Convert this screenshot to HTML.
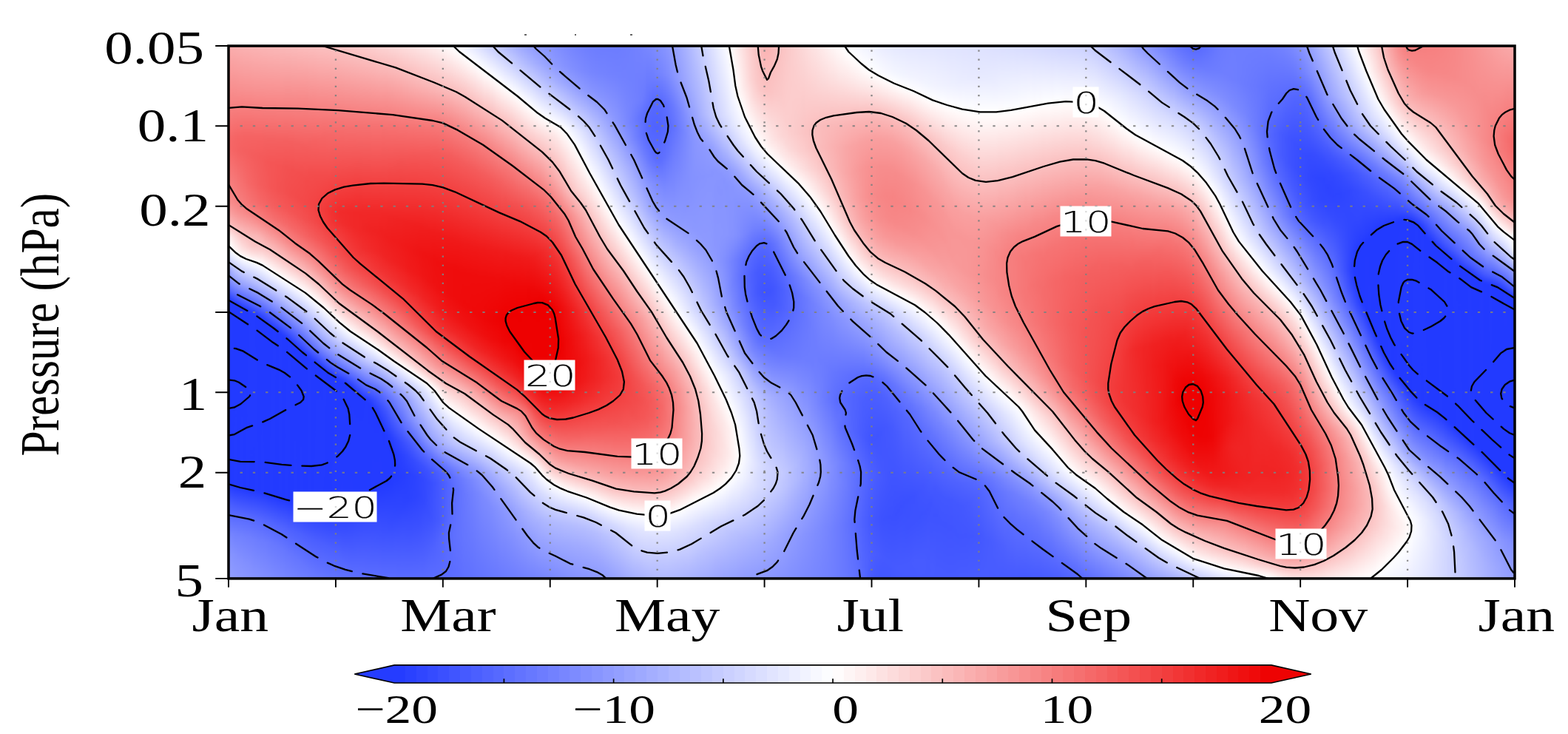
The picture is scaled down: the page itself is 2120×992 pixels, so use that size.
<!DOCTYPE html>
<html><head><meta charset="utf-8"><title>Pressure (hPa) time-height section</title>
<style>
html,body{margin:0;padding:0;background:#fff}
body{width:2120px;height:992px;position:relative;overflow:hidden}
#f{position:absolute;left:309px;top:62px;width:1739px;height:720px;overflow:hidden}
#g{position:absolute;left:-8px;top:-8px;width:1755px;height:736px;filter:blur(1.6px)}
#g i{position:absolute;top:0;height:736px;display:block}
svg{position:absolute;left:0;top:0}
.gv{stroke:#808080;stroke-opacity:.92;stroke-width:2.3;stroke-dasharray:2.2 9.89;fill:none}
.gh{stroke:#808080;stroke-opacity:.92;stroke-width:1.9;stroke-dasharray:3.3 13.95;fill:none}
.ct{stroke:#000;stroke-width:2.3;fill:none;stroke-linejoin:round;stroke-linecap:round}
.neg{stroke-dasharray:35 15}
.frame{fill:none;stroke:#000;stroke-width:3.5}
.tick{stroke:#000;stroke-width:1.9;fill:none}
.ax{font-family:"Liberation Serif",serif;font-size:100px;fill:#000}
.cl{font-family:"DejaVu Sans","Liberation Sans",sans-serif;font-weight:200;font-size:100px;fill:#000;stroke:#000;stroke-width:.25px;vector-effect:non-scaling-stroke}
.cbo{stroke:#000;stroke-width:1.7;stroke-linejoin:miter}
.cbt{stroke:#000;stroke-width:1.7}
</style></head><body>
<div id="f"><div id="g"><i style="left:0px;width:12.6px;background:linear-gradient(#faadad 8px,#f78686 82px,#f56767 132px,#f56666 146px,#f78282 204px,#f78d8d 220px,#f9a3a3 236px,#fbc2c2 252px,#feeeee 266px,#fef6f6 272px,#ffffff 280px,#e8ebff 290px,#c5cbff 302px,#a4aeff 310px,#97a2ff 316px,#8c98ff 322px,#5265ff 340px,#233bff 352px,#223aff 600px,#4a5eff 628px,#7887ff 672px,#8895ff 700px,#919dff 728px)"></i><i style="left:12px;width:4.6px;background:linear-gradient(#faaeae 8px,#f78989 76px,#f56666 132px,#f56464 148px,#f78787 218px,#f89a9a 234px,#fab6b6 250px,#fde2e2 266px,#fff9f9 282px,#fffdfd 284px,#f7f8ff 288px,#d7dbff 300px,#adb6ff 312px,#919dff 324px,#5d6fff 340px,#263dff 354px,#223aff 356px,#223aff 602px,#4a5eff 630px,#7382ff 668px,#8492ff 696px,#8f9cff 728px)"></i><i style="left:16px;width:4.6px;background:linear-gradient(#faafaf 8px,#f78c8c 72px,#f56464 132px,#f56363 150px,#f78383 218px,#f89595 234px,#fab1b1 250px,#fcd8d8 266px,#fef4f4 284px,#fffefe 288px,#ebedff 296px,#b4bcff 314px,#8e9aff 328px,#5f70ff 342px,#273eff 356px,#223aff 358px,#233bff 604px,#4e61ff 634px,#6f7fff 666px,#8290ff 696px,#8e9aff 728px)"></i><i style="left:20px;width:4.6px;background:linear-gradient(#fab0b0 8px,#f88f8f 68px,#f56363 132px,#f46161 150px,#f67c7c 214px,#f78e8e 232px,#f9a8a8 248px,#fcd2d2 268px,#feecec 284px,#fffbfb 290px,#fdfdff 292px,#8996ff 332px,#5063ff 348px,#283fff 358px,#223aff 360px,#223aff 604px,#5769ff 642px,#7382ff 672px,#8592ff 706px,#8c99ff 728px)"></i><i style="left:24px;width:4.6px;background:linear-gradient(#fab1b1 8px,#f89090 66px,#f56464 130px,#f46060 150px,#f67373 202px,#f67f7f 222px,#f89393 238px,#fab9b9 258px,#fcd1d1 272px,#fde5e5 284px,#fefeff 294px,#909cff 332px,#5769ff 348px,#223aff 362px,#233bff 606px,#5668ff 642px,#7080ff 670px,#8390ff 704px,#8b98ff 728px)"></i><i style="left:28px;width:4.6px;background:linear-gradient(#fab2b2 8px,#f89191 66px,#f56363 130px,#f45f5f 150px,#f56a6a 188px,#f67878 218px,#f78989 234px,#f9a9a9 252px,#fbc3c3 266px,#fddbdb 282px,#fefeff 296px,#96a1ff 332px,#5769ff 350px,#223aff 364px,#223aff 606px,#5769ff 644px,#7080ff 672px,#8391ff 710px,#8a96ff 728px)"></i><i style="left:32px;width:4.6px;background:linear-gradient(#fab2b2 8px,#f89191 66px,#f56363 130px,#f45e5e 152px,#f56868 194px,#f67676 220px,#f78888 236px,#faaeae 256px,#fbc2c2 268px,#fcd1d1 280px,#fee9e9 290px,#fffcfc 296px,#fcfdff 298px,#9ba6ff 332px,#4f62ff 354px,#223aff 366px,#233bff 608px,#5668ff 644px,#6e7dff 670px,#818fff 708px,#8895ff 728px)"></i><i style="left:36px;width:4.6px;background:linear-gradient(#fab3b3 8px,#f89191 66px,#f56363 130px,#f45d5d 154px,#f56666 196px,#f67272 220px,#f78585 236px,#f9a7a7 254px,#fbbdbd 266px,#fbc8c8 278px,#fddfdf 288px,#fffefe 298px,#acb5ff 328px,#5d6fff 352px,#233bff 368px,#223aff 608px,#5769ff 646px,#6e7eff 672px,#828fff 712px,#8794ff 728px)"></i><i style="left:40px;width:4.6px;background:linear-gradient(#fab4b4 8px,#f89292 66px,#f56262 132px,#f45c5c 156px,#f56363 196px,#f56f6f 220px,#f78181 236px,#f99f9f 252px,#fabbbb 266px,#fbc4c4 278px,#fddcdc 288px,#fffbfb 298px,#fdfeff 300px,#acb5ff 330px,#5769ff 356px,#233bff 370px,#223aff 608px,#586aff 648px,#6f7fff 676px,#8390ff 720px,#8693ff 728px)"></i><i style="left:44px;width:4.6px;background:linear-gradient(#fab4b4 8px,#f89191 68px,#f56262 132px,#f45b5b 158px,#f46161 198px,#f56c6c 220px,#f67d7d 236px,#f89797 250px,#fab9b9 266px,#fbc3c3 278px,#fcd9d9 288px,#fffdfd 300px,#fcfcff 302px,#b8c0ff 328px,#5e70ff 356px,#253cff 372px,#223aff 376px,#233bff 610px,#5669ff 648px,#6c7cff 674px,#808eff 716px,#8492ff 728px)"></i><i style="left:48px;width:4.6px;background:linear-gradient(#fab5b5 8px,#f89191 68px,#f56262 132px,#f45a5a 158px,#f45d5d 196px,#f56868 220px,#f67979 236px,#f89292 250px,#fab4b4 266px,#fbc9c9 282px,#fde7e7 294px,#fffefe 302px,#e8ebff 312px,#b3bbff 332px,#6676ff 356px,#273fff 374px,#223aff 376px,#223aff 610px,#5769ff 650px,#6d7dff 678px,#818fff 722px,#8390ff 728px)"></i><i style="left:52px;width:4.6px;background:linear-gradient(#fab6b6 8px,#f89191 68px,#f56262 132px,#f45959 160px,#f45b5b 196px,#f56565 220px,#f67878 238px,#f89191 252px,#fab2b2 268px,#fccbcb 284px,#fff8f8 302px,#fffefe 304px,#f7f8ff 308px,#c0c7ff 330px,#7483ff 354px,#3047ff 374px,#243cff 378px,#223aff 384px,#233bff 612px,#5567ff 650px,#6b7bff 676px,#7e8cff 718px,#828fff 728px)"></i><i style="left:56px;width:4.6px;background:linear-gradient(#fab6b6 8px,#f89090 70px,#f46161 134px,#f45757 164px,#f45a5a 200px,#f56565 224px,#f67979 242px,#f89999 258px,#fab9b9 276px,#fcd4d4 290px,#fffcfc 306px,#fdfdff 308px,#ccd2ff 328px,#8390ff 352px,#3f54ff 372px,#223aff 382px,#223aff 612px,#5567ff 652px,#6c7cff 680px,#808dff 726px,#808eff 728px)"></i><i style="left:60px;width:4.6px;background:linear-gradient(#fab7b7 8px,#f89090 70px,#f46161 134px,#f45656 164px,#f45757 198px,#f46161 222px,#f67272 240px,#f78b8b 254px,#fcd4d4 292px,#fefeff 310px,#ced3ff 330px,#8a97ff 352px,#4357ff 374px,#243cff 384px,#223aff 396px,#223aff 614px,#5366ff 652px,#6979ff 678px,#7d8bff 722px,#7f8dff 728px)"></i><i style="left:64px;width:4.6px;background:linear-gradient(#fab7b7 8px,#f89090 70px,#f46161 134px,#f45555 166px,#f45555 200px,#f46060 224px,#f67272 242px,#f89191 260px,#fccfcf 292px,#fffefe 312px,#f3f4ff 318px,#c4caff 336px,#7181ff 362px,#263eff 386px,#223aff 388px,#233bff 616px,#5164ff 652px,#6778ff 678px,#7b8aff 722px,#7d8cff 728px)"></i><i style="left:68px;width:4.6px;background:linear-gradient(#fab8b8 8px,#f89090 70px,#f46161 134px,#f45555 166px,#f45454 200px,#f45d5d 224px,#f56e6e 242px,#f89090 262px,#fccece 294px,#fffcfc 314px,#fefeff 316px,#d0d5ff 334px,#818eff 360px,#233bff 390px,#223aff 616px,#5366ff 656px,#6979ff 684px,#7c8aff 728px)"></i><i style="left:72px;width:4.6px;background:linear-gradient(#fab8b8 8px,#f88f8f 72px,#f46060 136px,#f45353 170px,#f35252 202px,#f45c5c 226px,#f56d6d 244px,#f89595 268px,#fcd1d1 298px,#ffffff 318px,#ccd1ff 338px,#4559ff 382px,#263dff 392px,#223aff 394px,#223aff 618px,#5164ff 656px,#6677ff 682px,#7b89ff 728px)"></i><i style="left:76px;width:4.6px;background:linear-gradient(#fab9b9 8px,#f88f8f 72px,#f46060 136px,#f45353 170px,#f35151 202px,#f45959 226px,#f56a6a 244px,#f78c8c 266px,#fbc2c2 294px,#fffefe 320px,#f7f8ff 324px,#b6beff 348px,#233bff 396px,#233bff 620px,#5164ff 658px,#6777ff 686px,#7988ff 728px)"></i><i style="left:80px;width:4.6px;background:linear-gradient(#fab9b9 8px,#f88f8f 72px,#f46060 136px,#f35252 172px,#f35050 204px,#f45858 228px,#f56b6b 248px,#f89191 272px,#fccdcd 302px,#fffdfd 322px,#fcfdff 324px,#b8c0ff 350px,#4559ff 388px,#223aff 400px,#223aff 620px,#5164ff 660px,#6778ff 690px,#7887ff 728px)"></i><i style="left:84px;width:4.6px;background:linear-gradient(#fababa 8px,#f78d8d 74px,#f46060 136px,#f35151 172px,#f34e4e 204px,#f45656 228px,#f56868 248px,#f78b8b 272px,#fbbfbf 298px,#fffcfc 324px,#fdfdff 326px,#bac2ff 352px,#6778ff 380px,#253cff 402px,#223aff 406px,#233bff 622px,#4f62ff 660px,#6576ff 690px,#7685ff 728px)"></i><i style="left:88px;width:4.6px;background:linear-gradient(#fababa 8px,#f78d8d 74px,#f45f5f 138px,#f35050 176px,#f34d4d 208px,#f45656 232px,#f56969 252px,#f78989 274px,#fbbdbd 300px,#fffbfb 326px,#fefeff 328px,#b7bfff 356px,#7180ff 380px,#233bff 406px,#223aff 622px,#5063ff 664px,#6878ff 698px,#7584ff 728px)"></i><i style="left:92px;width:4.6px;background:linear-gradient(#fabbbb 8px,#f78c8c 76px,#f45f5f 138px,#f34f4f 176px,#f34c4c 208px,#f45454 232px,#f56767 254px,#f78686 276px,#fbbcbc 302px,#ffffff 330px,#b4bcff 360px,#7483ff 382px,#273fff 408px,#223aff 410px,#223aff 624px,#4d60ff 662px,#6475ff 694px,#7483ff 728px)"></i><i style="left:96px;width:4.6px;background:linear-gradient(#fabbbb 8px,#f78b8b 78px,#f46060 138px,#f34f4f 178px,#f34b4b 210px,#f45353 234px,#f56666 256px,#f78181 276px,#fab2b2 300px,#fffefe 332px,#e9ebff 342px,#a1abff 370px,#3d52ff 404px,#223aff 414px,#233bff 626px,#4c60ff 664px,#6475ff 698px,#7282ff 728px)"></i><i style="left:100px;width:4.6px;background:linear-gradient(#fbbcbc 8px,#f78989 80px,#f45f5f 140px,#f34e4e 180px,#f34a4a 214px,#f45353 238px,#f56767 260px,#f78080 278px,#fab1b1 302px,#fffcfc 334px,#fdfdff 336px,#b4bcff 366px,#6979ff 392px,#223aff 418px,#223aff 626px,#4c60ff 666px,#6576ff 702px,#7180ff 728px)"></i><i style="left:104px;width:4.6px;background:linear-gradient(#fbbcbc 8px,#f78686 84px,#f45e5e 142px,#f34d4d 182px,#f34949 216px,#f35252 240px,#f56565 262px,#f67e7e 280px,#faafaf 304px,#fefeff 338px,#b1baff 370px,#4d60ff 406px,#243cff 420px,#223aff 424px,#233bff 628px,#4c60ff 668px,#6576ff 706px,#6f7fff 728px)"></i><i style="left:108px;width:4.6px;background:linear-gradient(#fbbdbd 8px,#f78383 88px,#f45d5d 144px,#f34c4c 186px,#f34848 220px,#f35050 242px,#f56464 264px,#f67d7d 282px,#faaeae 306px,#fffefe 340px,#eef0ff 348px,#a4aeff 378px,#354bff 418px,#223aff 424px,#223aff 628px,#4c5fff 670px,#6676ff 710px,#6e7eff 728px)"></i><i style="left:112px;width:4.6px;background:linear-gradient(#fbbdbd 8px,#f67f7f 94px,#f45c5c 146px,#f34a4a 190px,#f34747 222px,#f34f4f 244px,#f56262 266px,#f67c7c 284px,#f9abab 308px,#fffcfc 342px,#fefeff 344px,#adb6ff 378px,#465aff 416px,#263dff 426px,#223aff 428px,#223aff 628px,#4c5fff 672px,#6677ff 714px,#6d7dff 728px)"></i><i style="left:116px;width:4.6px;background:linear-gradient(#fbbebe 8px,#f46161 138px,#f34c4c 182px,#f34545 220px,#f34b4b 242px,#f45c5c 264px,#f67777 284px,#f9a5a5 308px,#fffefe 346px,#f3f4ff 352px,#a1acff 386px,#5163ff 416px,#233bff 430px,#233bff 630px,#4c5fff 674px,#6777ff 718px,#6b7bff 728px)"></i><i style="left:120px;width:4.6px;background:linear-gradient(#fbbebe 8px,#f56262 136px,#f34c4c 182px,#f34444 222px,#f34a4a 244px,#f45b5b 266px,#f67979 288px,#f9a2a2 310px,#fefeff 350px,#9ca7ff 392px,#5b6dff 416px,#223aff 434px,#223aff 630px,#4a5eff 674px,#6576ff 718px,#6a7aff 728px)"></i><i style="left:124px;width:4.6px;background:linear-gradient(#fbbfbf 8px,#f56262 136px,#f34b4b 184px,#f24242 226px,#f34848 246px,#f45959 268px,#f67676 290px,#f89a9a 310px,#fffcfc 352px,#fdfdff 354px,#9ca7ff 396px,#6071ff 418px,#243cff 436px,#223aff 444px,#233bff 632px,#4c5fff 678px,#6878ff 726px,#6979ff 728px)"></i><i style="left:128px;width:4.6px;background:linear-gradient(#fbc0c0 8px,#f56464 134px,#f34b4b 184px,#f23f3f 228px,#f34646 248px,#f45858 270px,#f67777 294px,#f89b9b 314px,#fef4f4 352px,#fffefe 356px,#a6b0ff 396px,#6b7bff 418px,#223aff 440px,#233bff 632px,#4b5eff 678px,#6878ff 728px)"></i><i style="left:132px;width:4.6px;background:linear-gradient(#fbc0c0 8px,#f56565 132px,#f34b4b 184px,#f23d3d 228px,#f24343 248px,#f45656 272px,#f67777 298px,#f89898 316px,#feebeb 352px,#fefeff 360px,#abb4ff 398px,#7584ff 418px,#3a50ff 436px,#253dff 442px,#223aff 444px,#233bff 632px,#4b5eff 680px,#6777ff 728px)"></i><i style="left:136px;width:4.6px;background:linear-gradient(#fbc1c1 8px,#f56666 130px,#f34b4b 184px,#f23939 230px,#f23f3f 248px,#f45454 274px,#f67474 300px,#f89898 320px,#fddddd 350px,#fffcfc 362px,#fdfdff 364px,#b8c0ff 396px,#7f8dff 418px,#3e53ff 438px,#233bff 446px,#223aff 632px,#4b5fff 682px,#6576ff 728px)"></i><i style="left:140px;width:4.6px;background:linear-gradient(#fbc1c1 8px,#f56868 128px,#f34a4a 186px,#f23636 230px,#f23a3a 246px,#f35252 276px,#f56e6e 300px,#f89090 320px,#fccece 348px,#fffefe 366px,#c6ccff 394px,#8e9aff 416px,#5063ff 436px,#223aff 450px,#223aff 632px,#4b5fff 684px,#6475ff 728px)"></i><i style="left:144px;width:4.6px;background:linear-gradient(#fbc2c2 8px,#f56868 128px,#f34646 192px,#f13333 232px,#f23737 248px,#f45858 286px,#f67474 308px,#f89c9c 330px,#fcd4d4 354px,#fffefe 370px,#c9cfff 396px,#919dff 418px,#465aff 442px,#243cff 452px,#223aff 458px,#223aff 632px,#4c5fff 686px,#6374ff 728px)"></i><i style="left:148px;width:4.6px;background:linear-gradient(#fbc3c3 8px,#f56969 126px,#f13030 232px,#f13333 246px,#f45757 290px,#f67474 312px,#f89c9c 334px,#fccfcf 356px,#fffefe 374px,#d1d6ff 396px,#9aa5ff 418px,#4f62ff 442px,#253dff 454px,#223aff 456px,#233bff 632px,#4c60ff 688px,#6374ff 728px)"></i><i style="left:152px;width:4.6px;background:linear-gradient(#fbc3c3 8px,#f56b6b 124px,#f23737 214px,#f12d2d 234px,#f13232 250px,#f45757 294px,#f67373 316px,#f89898 336px,#fbc6c6 356px,#fffefe 378px,#d0d5ff 400px,#96a2ff 422px,#5164ff 444px,#253dff 456px,#223aff 458px,#233bff 632px,#4d60ff 690px,#6273ff 728px)"></i><i style="left:156px;width:4.6px;background:linear-gradient(#fbc4c4 8px,#f56b6b 124px,#f23939 210px,#f12b2b 232px,#f12e2e 246px,#f35050 292px,#f56d6d 316px,#f89191 336px,#fbbebe 356px,#ffffff 382px,#c9cfff 406px,#8c99ff 428px,#4a5eff 448px,#253dff 458px,#223aff 462px,#233bff 630px,#4e62ff 694px,#6172ff 728px)"></i><i style="left:160px;width:4.6px;background:linear-gradient(#fbc5c5 8px,#f56c6c 122px,#f23838 210px,#f12a2a 232px,#f12d2d 248px,#f34c4c 292px,#f56868 316px,#f78a8a 336px,#fabbbb 358px,#fffcfc 384px,#fefeff 386px,#c6ccff 410px,#8895ff 432px,#4a5eff 450px,#263dff 460px,#223aff 462px,#243bff 630px,#5265ff 702px,#6071ff 728px)"></i><i style="left:164px;width:4.6px;background:linear-gradient(#fbc6c6 8px,#f56d6d 122px,#f23939 208px,#f12a2a 232px,#f12b2b 248px,#f34444 288px,#f45d5d 312px,#f67c7c 332px,#f9abab 354px,#fffdfd 388px,#fcfdff 390px,#c8ceff 412px,#8996ff 434px,#4358ff 454px,#273eff 462px,#223aff 464px,#233bff 628px,#5668ff 710px,#5f71ff 728px)"></i><i style="left:168px;width:4.6px;background:linear-gradient(#fbc7c7 8px,#f56e6e 120px,#f23838 208px,#f12929 232px,#f12a2a 250px,#f24040 288px,#f45959 312px,#f67777 332px,#f9a4a4 354px,#ffffff 392px,#c9cfff 414px,#8a97ff 436px,#243cff 466px,#223aff 488px,#233bff 626px,#5b6dff 720px,#5f70ff 728px)"></i><i style="left:172px;width:4.6px;background:linear-gradient(#fbc8c8 8px,#f56e6e 120px,#f23838 208px,#f12929 232px,#f12929 250px,#f23a3a 284px,#f35050 308px,#f56f6f 330px,#f89a9a 352px,#fffcfc 394px,#fdfdff 396px,#b5bdff 424px,#7e8cff 442px,#3349ff 464px,#223aff 470px,#243bff 624px,#5e6fff 728px)"></i><i style="left:176px;width:4.6px;background:linear-gradient(#fbc9c9 8px,#f56e6e 120px,#f23737 208px,#f12828 234px,#f12828 254px,#f23838 286px,#f34e4e 310px,#f56d6d 332px,#f89d9d 356px,#ffffff 398px,#a6afff 432px,#7281ff 448px,#4357ff 462px,#223aff 474px,#233bff 620px,#5d6fff 728px)"></i><i style="left:180px;width:4.6px;background:linear-gradient(#fbcaca 8px,#f57070 118px,#f23535 210px,#f12828 234px,#f12828 256px,#f23535 286px,#f34b4b 310px,#f56969 332px,#f89797 356px,#fef3f3 396px,#fffefe 400px,#eceeff 408px,#a2acff 436px,#5265ff 460px,#223aff 478px,#233bff 618px,#5d6fff 728px)"></i><i style="left:184px;width:4.6px;background:linear-gradient(#fccbcb 8px,#f57070 118px,#f13434 212px,#f12727 236px,#f12727 258px,#f13434 288px,#f34949 312px,#f56868 334px,#f89696 358px,#fde7e7 394px,#fffdfd 402px,#fcfdff 404px,#afb8ff 434px,#5b6dff 460px,#253cff 480px,#223aff 484px,#233bff 616px,#5d6eff 728px)"></i><i style="left:188px;width:4.6px;background:linear-gradient(#fccccc 8px,#f57070 118px,#f12828 232px,#f02525 254px,#f12e2e 282px,#f24242 308px,#f45d5d 330px,#f78888 354px,#fddcdc 392px,#fffbfb 404px,#fefeff 406px,#b6beff 434px,#6374ff 460px,#3f54ff 474px,#223aff 484px,#233bff 614px,#5c6eff 728px)"></i><i style="left:192px;width:4.6px;background:linear-gradient(#fccdcd 8px,#f57070 118px,#f12828 232px,#f02424 256px,#f12d2d 284px,#f24141 310px,#f45c5c 332px,#f78787 356px,#fcd5d5 392px,#ffffff 408px,#c3c9ff 432px,#6575ff 462px,#4d60ff 472px,#283fff 484px,#233bff 486px,#233bff 612px,#5c6dff 728px)"></i><i style="left:196px;width:4.6px;background:linear-gradient(#fccece 8px,#f57070 118px,#f12828 232px,#f02323 256px,#f12b2b 284px,#f23e3e 310px,#f45858 332px,#f78282 356px,#fbc9c9 390px,#fffefe 410px,#f7f7ff 414px,#c2c9ff 434px,#6475ff 464px,#4b5fff 474px,#2a41ff 486px,#233aff 490px,#233bff 610px,#5b6dff 728px)"></i><i style="left:200px;width:4.6px;background:linear-gradient(#fccfcf 8px,#f67272 116px,#f12828 232px,#f02222 258px,#f12929 284px,#f23a3a 310px,#f45454 332px,#f67c7c 356px,#fbbebe 388px,#fef6f6 410px,#fffcfc 412px,#fdfdff 414px,#c8ceff 434px,#8895ff 454px,#5d6eff 468px,#2d44ff 488px,#223aff 496px,#243bff 610px,#4b5eff 694px,#5b6dff 728px)"></i><i style="left:204px;width:4.6px;background:linear-gradient(#fcd0d0 8px,#f67272 116px,#f12828 232px,#f02222 258px,#f12727 284px,#f23737 310px,#f35050 332px,#f67777 356px,#fab7b7 388px,#fee9e9 408px,#feffff 416px,#c2c9ff 438px,#6273ff 468px,#384eff 486px,#243cff 500px,#223aff 510px,#243bff 608px,#465bff 686px,#5b6dff 728px)"></i><i style="left:208px;width:4.6px;background:linear-gradient(#fcd2d2 8px,#f67272 116px,#f12828 232px,#f02121 260px,#f12626 286px,#f23636 312px,#f34f4f 334px,#f67979 360px,#fab9b9 392px,#feecec 412px,#fffefe 418px,#f1f2ff 424px,#b7beff 444px,#6879ff 468px,#475bff 482px,#3047ff 496px,#223aff 510px,#243bff 606px,#4358ff 680px,#5b6dff 728px)"></i><i style="left:212px;width:4.6px;background:linear-gradient(#fcd3d3 8px,#f67272 116px,#f12929 230px,#f02020 258px,#f02424 286px,#f13333 312px,#f34a4a 334px,#f67474 360px,#fab2b2 392px,#fde4e4 412px,#fffbfb 420px,#fdfdff 422px,#c4cbff 442px,#7080ff 468px,#5366ff 480px,#384eff 496px,#233bff 518px,#243bff 604px,#4055ff 674px,#5b6cff 728px)"></i><i style="left:216px;width:4.6px;background:linear-gradient(#fcd4d4 8px,#f89292 80px,#f56c6c 124px,#f12626 236px,#f01f1f 264px,#f02424 292px,#f23535 318px,#f34e4e 340px,#f67d7d 368px,#fab9b9 398px,#feeded 418px,#fffefe 424px,#d2d7ff 440px,#7987ff 468px,#5769ff 482px,#4055ff 496px,#263eff 522px,#223aff 532px,#233bff 602px,#3d52ff 668px,#5a6cff 728px)"></i><i style="left:220px;width:4.6px;background:linear-gradient(#fcd5d5 8px,#f89494 78px,#f56e6e 122px,#f12626 236px,#f01e1e 266px,#f02323 294px,#f13434 320px,#f34d4d 342px,#f67b7b 370px,#fab6b6 400px,#fde4e4 418px,#fffbfb 426px,#fdfdff 428px,#c7cdff 446px,#7c8aff 470px,#5c6dff 484px,#4358ff 500px,#233bff 534px,#233bff 600px,#3a50ff 662px,#5a6cff 728px)"></i><i style="left:224px;width:4.6px;background:linear-gradient(#fcd7d7 8px,#f89999 74px,#f67171 118px,#f34848 180px,#f02424 240px,#f01d1d 270px,#f02323 298px,#f13434 324px,#f34e4e 346px,#f78080 376px,#fab8b8 404px,#feecec 424px,#fffefe 430px,#dce0ff 442px,#8a97ff 468px,#6879ff 482px,#5164ff 496px,#2840ff 534px,#223aff 546px,#233bff 598px,#374dff 656px,#5a6cff 728px)"></i><i style="left:228px;width:4.6px;background:linear-gradient(#fcd8d8 8px,#f89c9c 72px,#f67171 118px,#f34b4b 176px,#f02424 240px,#f01c1c 270px,#f02121 298px,#f13131 324px,#f34a4a 346px,#f67777 374px,#fab1b1 404px,#fde4e4 424px,#fffbfb 432px,#fdfdff 434px,#8e9aff 470px,#6d7dff 484px,#576aff 498px,#2b42ff 538px,#223aff 556px,#243cff 598px,#354bff 652px,#5a6cff 728px)"></i><i style="left:232px;width:4.6px;background:linear-gradient(#fcd9d9 8px,#f99f9f 70px,#f67171 118px,#f34d4d 172px,#f02323 242px,#f01c1c 272px,#f02020 300px,#f13030 326px,#f34b4b 350px,#f67878 378px,#faaeae 406px,#fde1e1 426px,#ffffff 436px,#97a2ff 470px,#7685ff 484px,#6072ff 498px,#2f46ff 540px,#243cff 560px,#243cff 592px,#3148ff 642px,#5a6cff 728px)"></i><i style="left:236px;width:4.6px;background:linear-gradient(#fddbdb 8px,#f9a0a0 70px,#f67272 118px,#f34f4f 168px,#f02222 244px,#f01b1b 274px,#f01f1f 302px,#f12e2e 328px,#f34949 352px,#f67676 380px,#f9acac 408px,#fcd9d9 426px,#fffefe 438px,#9ba6ff 472px,#7b89ff 486px,#6576ff 502px,#3349ff 542px,#273eff 562px,#253dff 594px,#3147ff 640px,#596bff 728px)"></i><i style="left:240px;width:4.6px;background:linear-gradient(#fddcdc 8px,#f9a3a3 68px,#f67272 118px,#f35050 166px,#f02222 244px,#f01a1a 276px,#f01e1e 304px,#f12d2d 330px,#f34747 354px,#f57070 380px,#f9aaaa 410px,#fcd6d6 428px,#fffdfd 440px,#fbfbff 442px,#9fa9ff 474px,#808eff 488px,#5063ff 524px,#364cff 544px,#2a41ff 562px,#263dff 590px,#2e45ff 632px,#596bff 728px)"></i><i style="left:244px;width:4.6px;background:linear-gradient(#fddede 8px,#f9a7a7 66px,#f67272 118px,#f35252 164px,#f02121 246px,#f01919 278px,#f01d1d 306px,#f12c2c 332px,#f34545 356px,#f56d6d 382px,#f9acac 414px,#fcd4d4 430px,#fffbfb 442px,#fcfdff 444px,#a3adff 476px,#8693ff 490px,#6576ff 516px,#3c51ff 544px,#2d44ff 562px,#273eff 588px,#2c43ff 626px,#4358ff 680px,#596bff 728px)"></i><i style="left:248px;width:4.6px;background:linear-gradient(#fddfdf 8px,#f9aaaa 64px,#f67373 118px,#f45353 162px,#f02020 248px,#f01818 280px,#f01b1b 308px,#f12a2a 334px,#f24343 358px,#f56767 382px,#f9a5a5 414px,#fccccc 430px,#fefeff 446px,#b1b9ff 474px,#929dff 488px,#7584ff 512px,#4256ff 544px,#3148ff 562px,#2840ff 586px,#2b42ff 620px,#3d52ff 666px,#596bff 728px)"></i><i style="left:252px;width:4.6px;background:linear-gradient(#fde1e1 8px,#f9acac 64px,#f67373 118px,#f45454 160px,#f02020 248px,#f01717 282px,#f01a1a 310px,#f12828 336px,#f24141 360px,#f56565 384px,#f9a7a7 418px,#fccfcf 434px,#fffdfd 448px,#f5f6ff 452px,#b4bcff 476px,#9ba6ff 488px,#818fff 510px,#4559ff 546px,#3349ff 566px,#2a41ff 588px,#2c43ff 620px,#3c51ff 664px,#596bff 728px)"></i><i style="left:256px;width:4.6px;background:linear-gradient(#fde2e2 8px,#faafaf 62px,#f67373 118px,#f45555 158px,#f01f1f 250px,#ef1616 284px,#f01a1a 314px,#f12828 340px,#f24141 364px,#f56262 386px,#f9a5a5 420px,#fccccc 436px,#fffbfb 450px,#fcfdff 452px,#c6ccff 472px,#a9b2ff 486px,#8895ff 512px,#4c60ff 546px,#354bff 568px,#2b42ff 590px,#2d44ff 620px,#3c51ff 662px,#596bff 728px)"></i><i style="left:260px;width:4.6px;background:linear-gradient(#fde4e4 8px,#fab1b1 62px,#f67474 118px,#f45555 158px,#f01e1e 252px,#ef1515 286px,#f01919 316px,#f12727 342px,#f23e3e 366px,#f45f5f 388px,#faafaf 428px,#fccece 440px,#ffffff 454px,#d3d8ff 470px,#b2bbff 486px,#8a97ff 516px,#5164ff 548px,#384eff 570px,#2d44ff 590px,#2e44ff 618px,#3b50ff 658px,#596bff 728px)"></i><i style="left:264px;width:4.6px;background:linear-gradient(#fde6e6 8px,#fab2b2 62px,#f67474 118px,#f45757 156px,#f01e1e 252px,#ef1414 286px,#f01717 316px,#f02525 344px,#f23c3c 368px,#f45c5c 390px,#fab5b5 434px,#fcd2d2 444px,#fffdfd 456px,#fbfbff 458px,#d6dbff 472px,#b9c1ff 488px,#8a97ff 522px,#5164ff 554px,#3a50ff 572px,#3046ff 590px,#2f46ff 616px,#3a4fff 654px,#586aff 724px,#596bff 728px)"></i><i style="left:268px;width:4.6px;background:linear-gradient(#fde8e8 8px,#fab4b4 62px,#f67474 118px,#f45757 156px,#f01d1d 254px,#ef1313 290px,#ef1616 320px,#f02424 348px,#f23b3b 372px,#f45959 392px,#fab1b1 436px,#fccece 446px,#fffafa 458px,#fdfdff 460px,#dee2ff 472px,#bfc6ff 490px,#8491ff 532px,#4f62ff 560px,#3b50ff 576px,#3147ff 594px,#3248ff 624px,#3e53ff 660px,#586aff 726px,#596bff 728px)"></i><i style="left:272px;width:4.6px;background:linear-gradient(#fee9e9 8px,#fab5b5 62px,#f67575 118px,#f45757 156px,#f01d1d 256px,#ef1212 292px,#ef1515 322px,#f02222 350px,#f23939 374px,#f45656 394px,#f89292 424px,#faaeae 438px,#fccbcb 448px,#ffffff 462px,#e2e5ff 474px,#b4bcff 504px,#8895ff 536px,#4f62ff 564px,#3d52ff 578px,#344aff 594px,#344aff 624px,#3e53ff 656px,#5668ff 718px,#596bff 728px)"></i><i style="left:276px;width:4.6px;background:linear-gradient(#feebeb 8px,#fab7b7 62px,#f67575 118px,#f45757 156px,#f01c1c 258px,#ef1212 294px,#ef1414 326px,#f02222 354px,#f23838 378px,#f45353 396px,#f78888 422px,#f9a6a6 438px,#fbc0c0 448px,#fffbfb 464px,#fdfdff 466px,#e3e6ff 478px,#afb8ff 514px,#929eff 536px,#4f62ff 568px,#3e53ff 582px,#364cff 598px,#394fff 640px,#5467ff 710px,#596bff 728px)"></i><i style="left:280px;width:4.6px;background:linear-gradient(#feeded 8px,#fab9b9 62px,#f67676 118px,#f45858 156px,#f01b1b 260px,#ef1111 296px,#ef1313 328px,#f02020 356px,#f23535 380px,#f34d4d 396px,#f78282 422px,#f9a3a3 440px,#fbbebe 450px,#fffdfd 468px,#fcfcff 470px,#e6e9ff 482px,#b7beff 514px,#9ba6ff 536px,#6f7fff 556px,#5264ff 570px,#4055ff 584px,#394eff 600px,#3d52ff 646px,#5063ff 694px,#5a6cff 728px)"></i><i style="left:284px;width:4.6px;background:linear-gradient(#feefef 8px,#fab8b8 64px,#f67878 116px,#f45b5b 152px,#f01b1b 260px,#ef1010 296px,#ef1111 328px,#f01e1e 358px,#f13232 382px,#f34a4a 398px,#f67e7e 424px,#f9a0a0 442px,#fbbcbc 452px,#fef7f7 470px,#fffdfd 472px,#fdfdff 474px,#bec5ff 514px,#9fa9ff 538px,#7887ff 556px,#5467ff 572px,#4459ff 584px,#3c52ff 600px,#4055ff 648px,#4f62ff 686px,#5a6cff 728px)"></i><i style="left:288px;width:4.6px;background:linear-gradient(#fef1f1 8px,#fababa 64px,#f67979 116px,#f45b5b 152px,#f01b1b 262px,#ef0f0f 300px,#ef1111 334px,#f01e1e 364px,#f13232 386px,#f34848 400px,#f67e7e 428px,#f99e9e 444px,#fbc6c6 458px,#fef6f6 474px,#ffffff 478px,#e0e3ff 498px,#c0c7ff 518px,#a2acff 540px,#818eff 556px,#5b6dff 572px,#495dff 584px,#4155ff 598px,#4358ff 648px,#5063ff 680px,#5a6cff 728px)"></i><i style="left:292px;width:4.6px;background:linear-gradient(#fef4f4 8px,#fab9b9 66px,#f67a7a 116px,#f45b5b 154px,#f01a1a 264px,#ef0f0f 302px,#ef1010 336px,#f01c1c 366px,#f13030 388px,#f34646 402px,#f89494 442px,#fbc2c2 460px,#feebeb 474px,#fffefe 484px,#f7f8ff 490px,#c7cdff 518px,#a6afff 542px,#8491ff 558px,#5d6fff 574px,#4d61ff 584px,#4559ff 598px,#465aff 648px,#5164ff 674px,#5a6cff 728px)"></i><i style="left:296px;width:4.6px;background:linear-gradient(#fef6f6 8px,#fab9b9 68px,#f67979 118px,#f45a5a 156px,#f01a1a 266px,#ef0e0e 304px,#ef0f0f 338px,#f01b1b 368px,#f12c2c 388px,#f34545 404px,#f78e8e 442px,#fbbfbf 462px,#fde5e5 476px,#fffefe 490px,#f5f6ff 496px,#cdd3ff 518px,#a9b2ff 544px,#8c98ff 558px,#5f71ff 576px,#5063ff 586px,#495dff 600px,#4a5eff 648px,#5366ff 670px,#5b6cff 728px)"></i><i style="left:300px;width:4.6px;background:linear-gradient(#fff9f9 8px,#fabbbb 68px,#f67b7b 118px,#f45b5b 156px,#f01919 268px,#ef0d0d 306px,#ef0e0e 342px,#f01919 370px,#f12b2b 390px,#f34a4a 410px,#f78585 440px,#fab8b8 462px,#fddddd 476px,#fffefe 494px,#d1d6ff 520px,#afb8ff 544px,#929eff 558px,#6576ff 576px,#5568ff 586px,#4e61ff 600px,#4e62ff 638px,#5164ff 652px,#5769ff 670px,#5b6cff 726px,#5b6dff 728px)"></i><i style="left:304px;width:4.6px;background:linear-gradient(#fffcfc 8px,#fababa 70px,#f67b7b 120px,#f45c5c 156px,#f01919 270px,#ef0d0d 308px,#ef0d0d 344px,#f01818 372px,#f12a2a 392px,#f34b4b 414px,#f78080 440px,#faaeae 460px,#fddada 478px,#fffcfc 496px,#fefeff 498px,#d5d9ff 522px,#b1baff 546px,#8e9aff 562px,#6778ff 578px,#596bff 588px,#5265ff 602px,#5467ff 634px,#5568ff 650px,#5a6cff 668px,#5a6cff 718px,#5b6dff 728px)"></i><i style="left:308px;width:4.6px;background:linear-gradient(#ffffff 8px,#fab7b7 74px,#f67d7d 120px,#f45d5d 156px,#f01919 270px,#ef0d0d 308px,#ef0d0d 346px,#f01717 374px,#f12828 394px,#f34a4a 416px,#f78383 444px,#faaeae 462px,#fcd5d5 478px,#ffffff 500px,#d5daff 526px,#b7beff 546px,#8e9bff 564px,#6a7aff 580px,#5d6fff 590px,#5769ff 604px,#596bff 636px,#5c6eff 670px,#5b6cff 716px,#5c6eff 728px)"></i><i style="left:312px;width:4.6px;background:linear-gradient(#fcfcff 8px,#fffefe 12px,#fab5b5 78px,#f67b7b 124px,#f45c5c 160px,#f01919 272px,#ef0c0c 310px,#ef0c0c 348px,#ef1616 376px,#f12727 396px,#f34444 416px,#f67575 440px,#f9a4a4 460px,#fccccc 476px,#fffdfd 502px,#fdfeff 504px,#d2d7ff 532px,#b8bfff 548px,#707fff 580px,#6172ff 592px,#5b6dff 608px,#5f70ff 672px,#5c6dff 718px,#5d6eff 728px)"></i><i style="left:316px;width:4.6px;background:linear-gradient(#f9f9ff 8px,#ffffff 14px,#fab2b2 82px,#f67b7b 126px,#f45d5d 160px,#f01818 274px,#ef0c0c 312px,#ef0c0c 352px,#ef1515 378px,#f12626 398px,#f24343 418px,#f67373 442px,#f9a4a4 462px,#fbc8c8 476px,#ffffff 506px,#c0c7ff 546px,#7584ff 580px,#6676ff 592px,#5f71ff 608px,#6172ff 672px,#5d6eff 718px,#5d6fff 728px)"></i><i style="left:320px;width:4.6px;background:linear-gradient(#f5f6ff 8px,#fffefe 18px,#f9abab 90px,#f67979 130px,#f45c5c 164px,#f01818 276px,#ef0c0c 314px,#ef0b0b 354px,#ef1414 380px,#f12727 402px,#f34444 422px,#f67676 446px,#fbc3c3 476px,#fffefe 508px,#f6f7ff 514px,#c8ceff 544px,#98a4ff 566px,#7786ff 582px,#6979ff 594px,#6374ff 610px,#6273ff 674px,#5e6fff 722px,#5e6fff 728px)"></i><i style="left:324px;width:4.6px;background:linear-gradient(#f2f3ff 8px,#ffffff 20px,#f9abab 92px,#f67979 132px,#f45c5c 166px,#f01919 276px,#ef0c0c 314px,#ef0a0a 356px,#ef1313 382px,#f12626 404px,#f24343 424px,#f57070 446px,#fbc2c2 478px,#fffcfc 510px,#fefeff 512px,#ccd2ff 544px,#9da8ff 566px,#7c8aff 582px,#6d7dff 594px,#6777ff 610px,#6475ff 676px,#5f70ff 728px)"></i><i style="left:328px;width:4.6px;background:linear-gradient(#eef0ff 8px,#fffefe 24px,#f9a6a6 98px,#f67777 136px,#f45959 172px,#f01818 278px,#ef0c0c 316px,#ef0a0a 360px,#ef1313 386px,#f12727 408px,#f34444 428px,#f56f6f 448px,#fbbcbc 478px,#ffffff 514px,#d0d6ff 544px,#a1abff 566px,#808eff 582px,#7080ff 596px,#6a7aff 614px,#6576ff 678px,#5f71ff 728px)"></i><i style="left:332px;width:4.6px;background:linear-gradient(#eaecff 8px,#ffffff 26px,#f9aaaa 98px,#f67a7a 136px,#f45c5c 170px,#f01919 278px,#ef0c0c 316px,#ef0a0a 362px,#ef1212 388px,#f12626 410px,#f23f3f 428px,#f56969 448px,#fab6b6 478px,#fffdfd 516px,#fafbff 520px,#d1d6ff 546px,#a1abff 568px,#8492ff 582px,#7483ff 596px,#6d7dff 616px,#6677ff 682px,#6071ff 728px)"></i><i style="left:336px;width:4.6px;background:linear-gradient(#e6e8ff 8px,#fffefe 30px,#f9aaaa 100px,#f67a7a 138px,#f45b5b 174px,#f01919 280px,#ef0c0c 318px,#ef0909 366px,#ef1212 390px,#f02424 412px,#f23e3e 430px,#f56363 448px,#faaeae 478px,#fffcfc 518px,#ffffff 520px,#d1d6ff 548px,#8c98ff 580px,#7a89ff 594px,#7180ff 612px,#6172ff 728px)"></i><i style="left:340px;width:4.6px;background:linear-gradient(#e1e5ff 8px,#fefeff 32px,#faaeae 100px,#f67a7a 140px,#f45b5b 176px,#f01919 280px,#ef0c0c 318px,#ef0909 370px,#ef1212 394px,#f02525 416px,#f24040 434px,#f56666 452px,#f9acac 480px,#feecec 512px,#fffefe 522px,#f1f2ff 532px,#cad0ff 554px,#909cff 580px,#7f8dff 594px,#7483ff 614px,#6273ff 728px)"></i><i style="left:344px;width:4.6px;background:linear-gradient(#dde0ff 8px,#ffffff 36px,#fccece 76px,#f9a6a6 108px,#f67b7b 142px,#f45a5a 180px,#f01919 282px,#ef0c0c 320px,#ef0808 372px,#ef1111 396px,#f02424 418px,#f23f3f 436px,#f56565 454px,#fbbdbd 490px,#fffdfd 524px,#fefeff 526px,#ced3ff 554px,#96a1ff 580px,#8391ff 594px,#7786ff 614px,#6374ff 728px)"></i><i style="left:348px;width:4.6px;background:linear-gradient(#d8dcff 8px,#fefeff 38px,#fab4b4 100px,#f67e7e 142px,#f45c5c 180px,#f01a1a 282px,#ef0c0c 320px,#ef0808 374px,#ef1010 398px,#f02323 420px,#f23d3d 438px,#f56868 458px,#fbc0c0 494px,#ffffff 528px,#ced4ff 556px,#9ba6ff 580px,#8895ff 594px,#7b89ff 614px,#6374ff 728px)"></i><i style="left:352px;width:4.6px;background:linear-gradient(#d3d8ff 8px,#ffffff 42px,#fccece 82px,#f67e7e 144px,#f45c5c 182px,#f01a1a 282px,#ef0c0c 320px,#ee0707 376px,#ef0f0f 400px,#f02222 422px,#f23c3c 440px,#f56666 460px,#fbbdbd 496px,#fffefe 530px,#f6f7ff 536px,#cad0ff 560px,#9ea8ff 582px,#8996ff 598px,#7c8aff 620px,#6475ff 728px)"></i><i style="left:356px;width:4.6px;background:linear-gradient(#ced4ff 8px,#fefeff 44px,#faafaf 108px,#f67d7d 148px,#f45b5b 186px,#f01a1a 284px,#ef0c0c 322px,#ee0606 376px,#ef0d0d 400px,#f01f1f 422px,#f23737 440px,#f46060 460px,#fababa 498px,#fffdfd 532px,#fefeff 534px,#ced4ff 560px,#a0aaff 584px,#8c98ff 600px,#7d8bff 624px,#6576ff 728px)"></i><i style="left:360px;width:4.6px;background:linear-gradient(#cacfff 8px,#fffefe 48px,#f67e7e 150px,#f45b5b 188px,#f01a1a 284px,#ef0c0c 322px,#ee0505 378px,#ef0d0d 404px,#f02020 426px,#f23939 444px,#f56262 464px,#fbc4c4 506px,#ffffff 536px,#c7cdff 566px,#a2acff 586px,#8d99ff 604px,#7e8cff 630px,#6677ff 728px)"></i><i style="left:364px;width:4.6px;background:linear-gradient(#c5cbff 8px,#fefeff 50px,#f67f7f 152px,#f45d5d 188px,#f01b1b 284px,#ef0c0c 322px,#ee0404 378px,#ef0b0b 404px,#f01c1c 426px,#f13434 444px,#f45c5c 464px,#fccfcf 514px,#fffefe 538px,#c4caff 570px,#a2acff 590px,#8e9bff 608px,#7f8dff 636px,#6778ff 728px)"></i><i style="left:368px;width:4.6px;background:linear-gradient(#c0c7ff 8px,#ffffff 54px,#f78080 154px,#f45e5e 190px,#f01a1a 286px,#ef0c0c 324px,#ee0303 378px,#ef0a0a 404px,#f01919 426px,#f13333 446px,#f45959 466px,#f99f9f 496px,#fcd2d2 518px,#fffdfd 540px,#f9faff 544px,#adb6ff 586px,#97a2ff 604px,#8492ff 630px,#707fff 698px,#6878ff 728px)"></i><i style="left:372px;width:4.6px;background:linear-gradient(#bcc3ff 8px,#fdfeff 56px,#fffbfb 60px,#f78181 156px,#f45e5e 192px,#f01b1b 286px,#ef0c0c 324px,#ee0202 378px,#ef0909 406px,#f01818 428px,#f13232 448px,#f45c5c 470px,#f89393 494px,#fbc4c4 514px,#fffcfc 542px,#fefeff 544px,#b3bbff 586px,#9aa5ff 606px,#8693ff 634px,#6979ff 728px)"></i><i style="left:376px;width:4.6px;background:linear-gradient(#b8c0ff 8px,#eceeff 46px,#ffffff 60px,#f78686 154px,#f56464 188px,#f01d1d 284px,#ef0c0c 322px,#ee0101 378px,#ee0707 406px,#f01717 430px,#f13030 450px,#f45a5a 472px,#f78787 492px,#fababa 512px,#ffffff 546px,#b8c0ff 586px,#9da7ff 608px,#8895ff 636px,#6a7aff 728px)"></i><i style="left:380px;width:4.6px;background:linear-gradient(#b4bcff 8px,#dfe2ff 40px,#fffefe 64px,#fbc2c2 110px,#f67575 172px,#f34f4f 216px,#f01919 290px,#ef0a0a 328px,#ee0000 378px,#ee0606 408px,#ef1616 432px,#f12f2f 452px,#f45454 472px,#f78282 492px,#fab5b5 512px,#fffdfd 548px,#fdfeff 550px,#c0c7ff 584px,#a4aeff 606px,#8c99ff 634px,#7a88ff 682px,#6b7bff 728px)"></i><i style="left:384px;width:4.6px;background:linear-gradient(#b0b8ff 8px,#d7dcff 38px,#feffff 66px,#fbc0c0 114px,#f67676 174px,#f34e4e 220px,#f01a1a 290px,#ef0a0a 328px,#ee0000 374px,#ee0303 402px,#ef1010 428px,#f02525 448px,#f34646 468px,#f67373 488px,#f9acac 510px,#fffbfb 550px,#ffffff 552px,#c8ceff 582px,#abb4ff 604px,#909cff 634px,#7e8cff 676px,#6c7cff 728px)"></i><i style="left:388px;width:4.6px;background:linear-gradient(#abb5ff 8px,#d0d5ff 36px,#fdfdff 68px,#fffefe 70px,#fccccc 108px,#f67777 176px,#f34e4e 222px,#f01919 292px,#ef0909 332px,#ee0000 372px,#ee0202 404px,#ef0f0f 430px,#f02424 450px,#f24141 468px,#f56e6e 488px,#f9a2a2 508px,#feebeb 546px,#fffdfd 554px,#fdfdff 556px,#cdd2ff 582px,#aeb7ff 606px,#939eff 636px,#7f8dff 678px,#6d7dff 728px)"></i><i style="left:392px;width:4.6px;background:linear-gradient(#a7b1ff 8px,#c8ceff 34px,#ffffff 72px,#fbc6c6 116px,#f67878 178px,#f34e4e 224px,#f01a1a 292px,#ef0909 330px,#ee0000 370px,#ee0202 408px,#ef0e0e 432px,#f02222 452px,#f24040 470px,#f56464 486px,#f89999 506px,#fbc0c0 528px,#fde8e8 548px,#fefeff 558px,#d4d9ff 580px,#b5bdff 604px,#96a2ff 636px,#8491ff 672px,#6e7dff 728px)"></i><i style="left:396px;width:4.6px;background:linear-gradient(#a3adff 8px,#c3caff 34px,#fdfeff 74px,#fffefe 76px,#f67c7c 178px,#f35151 222px,#f01919 294px,#ef0808 334px,#ee0000 368px,#ee0101 412px,#ef0e0e 436px,#f02323 456px,#f24343 474px,#f56363 488px,#f89090 504px,#f9a9a9 518px,#fccbcb 538px,#fffefe 560px,#d6daff 582px,#b2baff 612px,#98a3ff 640px,#8491ff 678px,#6f7eff 728px)"></i><i style="left:400px;width:4.6px;background:linear-gradient(#9fa9ff 8px,#bcc3ff 32px,#ffffff 78px,#f67b7b 182px,#f35151 224px,#f01919 294px,#ef0808 334px,#ee0000 368px,#ee0101 418px,#ef1010 442px,#f02424 460px,#f34848 480px,#f56868 492px,#f78a8a 504px,#f9a1a1 518px,#fbbebe 536px,#fde8e8 554px,#fffdfd 562px,#fdfdff 564px,#dde1ff 580px,#c2c9ff 602px,#9fa9ff 636px,#8b97ff 668px,#707fff 728px)"></i><i style="left:404px;width:4.6px;background:linear-gradient(#9ba6ff 8px,#b7bfff 32px,#ffffff 82px,#f67a7a 186px,#f35151 226px,#f01a1a 294px,#ef0808 334px,#ee0000 366px,#ee0202 424px,#ef1212 448px,#f12828 466px,#f34545 482px,#f56565 494px,#f78383 504px,#fab0b0 534px,#fcd0d0 548px,#fffbfb 564px,#fdfeff 566px,#e2e5ff 580px,#c9cfff 600px,#a1abff 638px,#8c99ff 670px,#7180ff 728px)"></i><i style="left:408px;width:4.6px;background:linear-gradient(#97a3ff 8px,#b2bbff 32px,#fdfdff 84px,#fffefe 86px,#f67878 190px,#f45353 226px,#f01b1b 294px,#ef0808 334px,#ee0000 366px,#ee0202 428px,#ef1212 452px,#f12b2b 472px,#f34545 486px,#f56767 498px,#f67c7c 506px,#f9a3a3 532px,#fbc2c2 546px,#fefeff 568px,#e3e6ff 582px,#a7b0ff 636px,#919dff 666px,#7281ff 728px)"></i><i style="left:412px;width:4.6px;background:linear-gradient(#949fff 8px,#aeb7ff 32px,#fefeff 88px,#fffbfb 92px,#f57070 200px,#f34e4e 234px,#f01a1a 296px,#ee0606 338px,#ee0000 364px,#ee0202 432px,#ef1111 456px,#f12a2a 476px,#f34444 490px,#f56b6b 504px,#f78282 518px,#f89c9c 534px,#fbbebe 548px,#ffffff 570px,#e8eaff 582px,#a9b2ff 638px,#939fff 668px,#7382ff 728px)"></i><i style="left:416px;width:4.6px;background:linear-gradient(#919dff 8px,#a9b3ff 32px,#ffffff 92px,#f78787 184px,#f45d5d 220px,#f01d1d 294px,#ee0707 338px,#ee0000 364px,#ee0202 436px,#ef0f0f 458px,#f12929 480px,#f23f3f 492px,#f56262 506px,#f89292 534px,#fabbbb 550px,#fffdfd 572px,#f8f9ff 576px,#e1e4ff 592px,#abb4ff 640px,#94a0ff 670px,#7383ff 728px)"></i><i style="left:420px;width:4.6px;background:linear-gradient(#8e9aff 8px,#a5afff 32px,#d8dcff 68px,#ffffff 96px,#fccbcb 134px,#f56464 216px,#f01f1f 292px,#ee0707 338px,#ee0000 360px,#ee0101 440px,#ef0f0f 462px,#f12929 484px,#f24040 496px,#f56565 514px,#f78888 534px,#fab7b7 552px,#fffafa 574px,#ffffff 576px,#e4e7ff 594px,#aeb7ff 640px,#98a3ff 668px,#7483ff 728px)"></i><i style="left:424px;width:4.6px;background:linear-gradient(#8c98ff 8px,#a1abff 32px,#cacfff 62px,#fefeff 98px,#fef4f4 106px,#fbc0c0 146px,#f56464 218px,#f02323 290px,#ee0707 340px,#ee0000 358px,#ee0101 446px,#ef0f0f 466px,#f12626 486px,#f78484 536px,#fab4b4 554px,#fef5f5 576px,#fffefe 580px,#f6f7ff 586px,#c3caff 624px,#a4aeff 654px,#7584ff 728px)"></i><i style="left:428px;width:4.6px;background:linear-gradient(#8a97ff 8px,#9da8ff 32px,#bfc6ff 58px,#ffffff 102px,#fcd4d4 132px,#f78989 192px,#f56666 220px,#f12626 288px,#ee0404 346px,#ee0000 358px,#ee0101 450px,#ef1111 472px,#f12727 490px,#f67474 532px,#f99f9f 550px,#fef2f2 580px,#ffffff 586px,#d7dbff 612px,#acb5ff 648px,#97a2ff 678px,#7685ff 728px)"></i><i style="left:432px;width:4.6px;background:linear-gradient(#8996ff 8px,#99a4ff 32px,#b7bfff 56px,#fefeff 104px,#fcd5d5 134px,#f89393 188px,#f56b6b 218px,#f12a2a 286px,#ee0000 354px,#ee0101 454px,#ef1414 478px,#f12f2f 498px,#f67676 536px,#f9acac 558px,#fffafa 588px,#fffefe 590px,#d8ddff 614px,#afb8ff 648px,#99a4ff 676px,#7786ff 728px)"></i><i style="left:436px;width:4.6px;background:linear-gradient(#8794ff 8px,#97a3ff 34px,#b5bdff 58px,#fefeff 106px,#fffafa 110px,#fddbdb 132px,#f99e9e 184px,#f57070 218px,#f13030 282px,#ef0e0e 334px,#ee0000 358px,#ee0202 456px,#ef1212 478px,#f12f2f 500px,#f67474 538px,#fabbbb 568px,#ffffff 594px,#dadeff 616px,#afb8ff 650px,#98a3ff 680px,#7887ff 728px)"></i><i style="left:440px;width:4.6px;background:linear-gradient(#8693ff 8px,#949fff 34px,#aeb6ff 56px,#fdfdff 108px,#fffefe 110px,#fde1e1 130px,#f9a3a3 184px,#f67272 220px,#f13333 282px,#ee0000 358px,#ee0202 456px,#ef1111 478px,#f12d2d 500px,#f67373 540px,#fbc0c0 574px,#fffdfd 596px,#fdfdff 598px,#d5daff 622px,#afb8ff 652px,#97a2ff 684px,#7988ff 728px)"></i><i style="left:444px;width:4.6px;background:linear-gradient(#8491ff 8px,#909cff 34px,#a9b3ff 56px,#fdfdff 110px,#fffefe 112px,#fde4e4 130px,#f9a9a9 184px,#f56f6f 228px,#f13434 286px,#ee0000 364px,#ee0101 454px,#ef0f0f 476px,#f12929 498px,#f67373 542px,#fab8b8 574px,#fffbfb 598px,#ffffff 600px,#d5daff 624px,#b3bbff 650px,#9ca7ff 678px,#7a89ff 728px)"></i><i style="left:448px;width:4.6px;background:linear-gradient(#818fff 8px,#8d99ff 34px,#a5afff 56px,#dce0ff 92px,#fdfdff 112px,#fffdfd 114px,#fde5e5 132px,#faadad 186px,#f56868 238px,#f13232 294px,#ee0202 366px,#ee0000 416px,#ee0303 456px,#ef1111 478px,#f12b2b 500px,#f67373 544px,#faadad 572px,#fffefe 602px,#cfd4ff 630px,#b0b9ff 654px,#98a3ff 686px,#7c8aff 728px)"></i><i style="left:452px;width:4.6px;background:linear-gradient(#7f8dff 8px,#8c98ff 36px,#a3adff 58px,#d5d9ff 90px,#fdfdff 114px,#fffefe 116px,#fde3e3 138px,#faafaf 190px,#f56c6c 240px,#f23535 296px,#ee0606 366px,#ee0000 414px,#ee0505 458px,#ef1414 480px,#f12f2f 502px,#f57070 544px,#f9a4a4 570px,#fde4e4 594px,#fffdfd 604px,#f8f9ff 608px,#ced3ff 632px,#b1baff 654px,#9aa5ff 684px,#7d8bff 728px)"></i><i style="left:456px;width:4.6px;background:linear-gradient(#7d8bff 8px,#8996ff 36px,#9faaff 58px,#c9cfff 86px,#ffffff 118px,#fde1e1 146px,#fab2b2 194px,#f78787 224px,#f56e6e 244px,#f23a3a 298px,#ef0b0b 364px,#ee0202 412px,#ee0606 456px,#ef1313 478px,#f12d2d 500px,#f56e6e 544px,#f9a0a0 570px,#fcd9d9 592px,#fffefe 606px,#f8f9ff 610px,#ccd2ff 634px,#b0b9ff 656px,#9aa5ff 686px,#7f8dff 728px)"></i><i style="left:460px;width:4.6px;background:linear-gradient(#7b89ff 8px,#8693ff 36px,#9ba6ff 58px,#c1c8ff 84px,#fafaff 118px,#ffffff 122px,#fddddd 156px,#fab3b3 200px,#f67979 240px,#f45454 278px,#f23e3e 300px,#ef1010 364px,#ee0505 410px,#ee0707 454px,#ef1313 476px,#f12b2b 498px,#f56d6d 544px,#f99e9e 570px,#fcd4d4 592px,#fffefe 608px,#ced3ff 634px,#b4bcff 654px,#9da8ff 682px,#808eff 728px)"></i><i style="left:464px;width:4.6px;background:linear-gradient(#7987ff 8px,#8491ff 36px,#97a3ff 58px,#b9c0ff 82px,#f4f6ff 118px,#fefeff 126px,#fcd0d0 178px,#fab6b6 204px,#f78282 238px,#f46060 274px,#f34545 300px,#ef1515 364px,#ef0909 406px,#ef0909 450px,#ef1212 472px,#f12828 494px,#f56969 542px,#f89797 568px,#fbc6c6 588px,#ffffff 610px,#d0d5ff 634px,#b5bdff 654px,#9faaff 680px,#828fff 728px)"></i><i style="left:468px;width:4.6px;background:linear-gradient(#7785ff 8px,#8290ff 38px,#98a3ff 62px,#bac2ff 86px,#eff0ff 118px,#ffffff 132px,#fcd8d8 176px,#fbbebe 204px,#f78a8a 238px,#f56a6a 272px,#f34e4e 298px,#f01a1a 364px,#ef0c0c 404px,#ef0a0a 444px,#ef1212 468px,#f02525 490px,#f56666 540px,#f89696 568px,#fbc2c2 588px,#fffcfc 610px,#fdfdff 612px,#ced3ff 636px,#b3bcff 656px,#9fa9ff 682px,#8492ff 726px,#8390ff 728px)"></i><i style="left:472px;width:4.6px;background:linear-gradient(#7584ff 8px,#808eff 38px,#94a0ff 62px,#b5bdff 86px,#ebeeff 120px,#ffffff 138px,#fbc5c5 204px,#f89393 238px,#f67373 272px,#f45656 298px,#f01f1f 364px,#ef1010 402px,#ef0c0c 440px,#ef1212 464px,#f02323 486px,#f46161 536px,#f89494 568px,#fbbfbf 588px,#fffefe 612px,#cdd2ff 638px,#b2bbff 658px,#9da8ff 686px,#8491ff 728px)"></i><i style="left:476px;width:4.6px;background:linear-gradient(#7382ff 8px,#7f8dff 40px,#939eff 64px,#b0b9ff 86px,#e8eaff 122px,#feffff 144px,#fccece 202px,#f89999 240px,#f67d7d 270px,#f45e5e 298px,#f02525 364px,#ef1515 400px,#ef0e0e 438px,#ef1414 464px,#f02525 486px,#f46161 536px,#f89a9a 572px,#fbc6c6 592px,#fefeff 614px,#ced4ff 638px,#b6bdff 656px,#a2acff 680px,#8592ff 728px)"></i><i style="left:480px;width:4.6px;background:linear-gradient(#7281ff 8px,#7d8bff 40px,#8f9bff 64px,#acb5ff 86px,#e2e5ff 122px,#fefeff 150px,#fffdfd 154px,#fcd4d4 202px,#f99f9f 242px,#f78282 272px,#f56262 302px,#f12b2b 364px,#f01818 400px,#ef1111 436px,#ef1616 462px,#f12727 486px,#f46161 536px,#f89d9d 574px,#fbc3c3 592px,#fffdfd 614px,#fdfdff 616px,#cdd3ff 640px,#b5bdff 658px,#a0aaff 684px,#8693ff 728px)"></i><i style="left:484px;width:4.6px;background:linear-gradient(#7180ff 8px,#7c8aff 42px,#8f9cff 68px,#b3bbff 94px,#dee2ff 124px,#fcfdff 156px,#ffffff 160px,#fcd8d8 204px,#f9a7a7 242px,#f78888 274px,#f45555 324px,#f12f2f 366px,#f01c1c 402px,#ef1414 436px,#f01919 462px,#f12a2a 486px,#f56262 536px,#f89b9b 574px,#fbc0c0 592px,#fffefe 616px,#ccd1ff 642px,#b4bcff 660px,#9fa9ff 688px,#8794ff 728px)"></i><i style="left:488px;width:4.6px;background:linear-gradient(#6f7fff 8px,#7a88ff 42px,#8c99ff 68px,#aeb7ff 94px,#d8dcff 124px,#f8f8ff 158px,#ffffff 168px,#fcd9d9 208px,#f9acac 246px,#f78989 280px,#f23838 362px,#f02222 396px,#f01717 430px,#f01919 456px,#f12727 480px,#f45656 526px,#f78787 562px,#f9acac 584px,#fddbdb 604px,#fefeff 618px,#ced3ff 642px,#b5bdff 660px,#a1abff 686px,#8794ff 728px)"></i><i style="left:492px;width:4.6px;background:linear-gradient(#6e7eff 8px,#7988ff 44px,#8b98ff 70px,#b1baff 100px,#d4d8ff 126px,#f8f8ff 166px,#ffffff 176px,#fcd9d9 214px,#fab0b0 250px,#f23e3e 362px,#f12626 398px,#f01a1a 432px,#f01d1d 458px,#f12b2b 482px,#f45b5b 530px,#f88f8f 568px,#fab2b2 588px,#fde7e7 610px,#fffcfc 618px,#fdfdff 620px,#cdd2ff 644px,#b7bfff 660px,#a2acff 686px,#8895ff 728px)"></i><i style="left:496px;width:4.6px;background:linear-gradient(#6e7dff 8px,#7786ff 44px,#8895ff 70px,#acb5ff 100px,#cfd4ff 128px,#fefeff 182px,#fddddd 216px,#fab4b4 254px,#f24242 364px,#f12929 400px,#f01e1e 432px,#f01f1f 456px,#f12b2b 480px,#f45555 524px,#f78282 560px,#f9a8a8 584px,#fcd4d4 604px,#fffdfd 620px,#fcfdff 622px,#ccd1ff 646px,#b4bcff 664px,#9ea8ff 694px,#8996ff 728px)"></i><i style="left:500px;width:4.6px;background:linear-gradient(#6d7dff 8px,#7685ff 44px,#8693ff 70px,#a7b1ff 100px,#cdd2ff 132px,#ffffff 190px,#f34848 364px,#f12e2e 400px,#f02121 432px,#f02121 456px,#f12f2f 482px,#f45858 526px,#f78787 564px,#f9aaaa 586px,#fcd6d6 606px,#fffefe 622px,#cbd1ff 648px,#b4bcff 666px,#9da7ff 698px,#8a97ff 728px)"></i><i style="left:504px;width:4.6px;background:linear-gradient(#6c7cff 8px,#7684ff 46px,#8794ff 74px,#b0b9ff 112px,#d6dbff 150px,#ffffff 196px,#fcd4d4 238px,#f78383 314px,#f34b4b 368px,#f13030 404px,#f02424 434px,#f02525 458px,#f13333 484px,#f45a5a 528px,#f78989 566px,#f9acac 588px,#fcd7d7 608px,#ffffff 624px,#cfd4ff 648px,#b6beff 666px,#9ea8ff 698px,#8b98ff 728px)"></i><i style="left:508px;width:4.6px;background:linear-gradient(#6c7cff 8px,#7484ff 46px,#8693ff 76px,#aeb7ff 116px,#e1e5ff 170px,#ffffff 204px,#f89a9a 300px,#f45353 366px,#f23636 402px,#f12727 434px,#f12727 458px,#f23535 484px,#f45858 526px,#f78585 564px,#f9aaaa 588px,#fcd3d3 608px,#ffffff 626px,#cfd4ff 650px,#b7beff 668px,#9ca6ff 704px,#8c99ff 728px)"></i><i style="left:512px;width:4.6px;background:linear-gradient(#6c7cff 8px,#7483ff 46px,#8593ff 78px,#a8b2ff 116px,#e5e8ff 182px,#ffffff 212px,#f9a3a3 298px,#f45959 366px,#f23b3b 402px,#f12b2b 434px,#f12a2a 458px,#f23838 486px,#f45959 526px,#f78484 564px,#f9abab 590px,#fcd4d4 610px,#fffbfb 626px,#fefeff 628px,#d2d7ff 650px,#b9c1ff 668px,#9fa9ff 702px,#8d9aff 728px)"></i><i style="left:516px;width:4.6px;background:linear-gradient(#6c7cff 8px,#7483ff 48px,#8794ff 84px,#a6b0ff 120px,#e2e5ff 186px,#fffefe 220px,#f9acac 296px,#f46161 364px,#f24141 400px,#f12f2f 432px,#f12d2d 456px,#f23838 482px,#f45555 522px,#f67e7e 560px,#f9a5a5 588px,#fccccc 608px,#fffcfc 628px,#fdfdff 630px,#d2d7ff 652px,#b9c1ff 670px,#96a1ff 718px,#8f9bff 728px)"></i><i style="left:520px;width:4.6px;background:linear-gradient(#6c7cff 8px,#7382ff 48px,#8895ff 90px,#a0aaff 120px,#d6daff 180px,#feffff 226px,#fab8b8 292px,#f67676 350px,#f34c4c 392px,#f23535 428px,#f12f2f 452px,#f23636 476px,#f35252 518px,#f67777 554px,#f9a0a0 586px,#fbc4c4 606px,#fffdfd 630px,#fdfdff 632px,#d1d6ff 654px,#bcc3ff 670px,#96a2ff 720px,#919dff 728px)"></i><i style="left:524px;width:4.6px;background:linear-gradient(#6c7cff 8px,#7282ff 48px,#8b97ff 100px,#a5afff 132px,#d1d6ff 182px,#ffffff 234px,#fab7b7 298px,#f56969 368px,#f34848 404px,#f23535 436px,#f13333 458px,#f23d3d 484px,#f45454 520px,#f67979 556px,#f9a1a1 588px,#fbc5c5 608px,#fffefe 632px,#d1d6ff 656px,#bdc4ff 672px,#939fff 728px)"></i><i style="left:528px;width:4.6px;background:linear-gradient(#6c7cff 8px,#7281ff 48px,#8b98ff 108px,#c8ceff 180px,#edefff 222px,#fefeff 240px,#fbc4c4 292px,#f78b8b 342px,#f45757 392px,#f23c3c 430px,#f23535 454px,#f23b3b 476px,#f35151 516px,#f67171 550px,#f89d9d 586px,#fbbebe 606px,#ffffff 634px,#d4d9ff 656px,#c0c7ff 672px,#95a1ff 728px)"></i><i style="left:532px;width:4.6px;background:linear-gradient(#6c7cff 8px,#7181ff 48px,#8895ff 110px,#a8b1ff 148px,#c3caff 182px,#e5e8ff 220px,#fffefe 248px,#f89898 336px,#f45d5d 392px,#f24040 432px,#f23838 456px,#f23e3e 480px,#f35252 516px,#f67171 550px,#f99f9f 588px,#fbc1c1 608px,#fffdfd 634px,#fdfdff 636px,#d4d9ff 658px,#bfc6ff 676px,#98a3ff 728px)"></i><i style="left:536px;width:4.6px;background:linear-gradient(#6d7dff 8px,#7181ff 50px,#8491ff 112px,#9da8ff 144px,#bac2ff 178px,#d2d7ff 208px,#ffffff 254px,#f9a0a0 334px,#f56262 392px,#f24343 434px,#f23c3c 458px,#f24141 482px,#f35252 516px,#f67171 550px,#f89d9d 588px,#fbbfbf 608px,#ffffff 636px,#d8dcff 658px,#c1c8ff 678px,#9aa5ff 728px)"></i><i style="left:540px;width:4.6px;background:linear-gradient(#6e7dff 8px,#7180ff 50px,#808eff 114px,#95a1ff 142px,#b3bbff 176px,#cad0ff 206px,#ffffff 260px,#f9a9a9 332px,#f56868 392px,#f34747 436px,#f23f3f 460px,#f34545 488px,#f45656 520px,#f67777 556px,#f99f9f 590px,#fbc2c2 610px,#fffcfc 636px,#fdfeff 638px,#dbdeff 658px,#c4caff 678px,#9da7ff 728px)"></i><i style="left:544px;width:4.6px;background:linear-gradient(#6e7eff 8px,#7180ff 50px,#7786ff 90px,#7b89ff 114px,#8b97ff 138px,#abb4ff 174px,#c3caff 206px,#ffffff 266px,#faadad 334px,#f57070 390px,#f34d4d 436px,#f24242 462px,#f34747 490px,#f45656 520px,#f67777 556px,#f99f9f 590px,#fbc1c1 610px,#ffffff 638px,#dbdfff 660px,#c4caff 682px,#9faaff 728px)"></i><i style="left:548px;width:4.6px;background:linear-gradient(#6f7fff 8px,#7080ff 52px,#7584ff 86px,#7584ff 112px,#8290ff 136px,#a4adff 172px,#bcc4ff 206px,#ffffff 272px,#fab0b0 338px,#f67676 390px,#f35050 440px,#f34545 464px,#f34949 492px,#f45757 520px,#f67777 556px,#f99e9e 590px,#fbc0c0 610px,#fffdfd 638px,#fdfdff 640px,#dde1ff 660px,#c5cbff 684px,#a1acff 728px)"></i><i style="left:552px;width:4.6px;background:linear-gradient(#7080ff 8px,#7080ff 54px,#7382ff 84px,#707fff 110px,#7a88ff 134px,#9da8ff 172px,#b9c1ff 210px,#ffffff 278px,#f88f8f 372px,#f56d6d 408px,#f34d4d 454px,#f34848 476px,#f34e4e 504px,#f46161 532px,#f89393 582px,#fab0b0 602px,#fddcdc 624px,#ffffff 640px,#dfe3ff 660px,#c8ceff 684px,#a4aeff 728px)"></i><i style="left:556px;width:4.6px;background:linear-gradient(#7281ff 8px,#707fff 56px,#7180ff 84px,#6a7bff 108px,#7181ff 132px,#8592ff 154px,#96a1ff 172px,#b6beff 214px,#f4f5ff 274px,#ffffff 284px,#f78c8c 380px,#f56a6a 420px,#f34f4f 460px,#f34a4a 484px,#f35252 510px,#f56868 540px,#f89898 586px,#fab6b6 606px,#fffefe 640px,#dfe2ff 662px,#b6beff 708px,#a6b0ff 728px)"></i><i style="left:560px;width:4.6px;background:linear-gradient(#7382ff 8px,#6f7eff 60px,#6f7fff 82px,#6576ff 106px,#6b7bff 132px,#7d8bff 154px,#8f9cff 174px,#b4bcff 220px,#edefff 274px,#ffffff 290px,#f89393 380px,#f56f6f 422px,#f35252 462px,#f34d4d 486px,#f45353 510px,#f56969 540px,#f89797 586px,#fab6b6 606px,#fffdfd 640px,#fdfdff 642px,#e1e4ff 662px,#b4bcff 712px,#a8b1ff 728px)"></i><i style="left:564px;width:4.6px;background:linear-gradient(#7483ff 8px,#6d7dff 66px,#6d7dff 82px,#6072ff 104px,#6374ff 130px,#7382ff 152px,#99a4ff 196px,#b4bcff 228px,#ebedff 278px,#ffffff 296px,#f89b9b 378px,#f67979 418px,#f45555 464px,#f34f4f 488px,#f45656 512px,#f56d6d 544px,#f89797 586px,#fab5b5 606px,#feefef 634px,#fffcfc 640px,#fefeff 642px,#e2e5ff 662px,#b8bfff 710px,#aab3ff 728px)"></i><i style="left:568px;width:4.6px;background:linear-gradient(#7685ff 8px,#6b7bff 74px,#6878ff 84px,#5b6dff 104px,#5d6eff 128px,#6b7bff 152px,#97a2ff 202px,#aeb7ff 230px,#ffffff 302px,#f9a2a2 378px,#f67e7e 420px,#f45858 466px,#f35252 488px,#f45656 510px,#f56c6c 542px,#f89595 584px,#fab1b1 604px,#fddddd 626px,#ffffff 642px,#e1e4ff 664px,#b3bbff 718px,#abb4ff 728px)"></i><i style="left:572px;width:4.6px;background:linear-gradient(#7887ff 8px,#6273ff 84px,#5669ff 106px,#586aff 130px,#6a7aff 160px,#8f9cff 200px,#a4aeff 228px,#ffffff 308px,#fbc5c5 354px,#f9a3a3 384px,#f56969 450px,#f45858 474px,#f45454 496px,#f45c5c 518px,#f67b7b 558px,#f89c9c 590px,#fabbbb 610px,#fffefe 642px,#e0e3ff 666px,#b6beff 716px,#adb6ff 728px)"></i><i style="left:576px;width:4.6px;background:linear-gradient(#7a88ff 8px,#697aff 58px,#5466ff 104px,#5467ff 128px,#6576ff 162px,#8895ff 198px,#9da7ff 228px,#dbdfff 282px,#fefeff 314px,#fcd5d5 348px,#fab0b0 378px,#f78686 426px,#f46161 466px,#f45858 488px,#f45a5a 508px,#f56c6c 538px,#f89595 584px,#fab0b0 604px,#fcd7d7 624px,#fffefe 642px,#f7f8ff 648px,#dadeff 672px,#b0b8ff 726px,#aeb7ff 728px)"></i><i style="left:580px;width:4.6px;background:linear-gradient(#7c8bff 8px,#6c7cff 52px,#5668ff 88px,#5063ff 116px,#5b6dff 154px,#6576ff 168px,#808eff 194px,#96a2ff 228px,#c6ccff 270px,#fcfdff 318px,#fffefe 322px,#fab9b9 376px,#f78c8c 426px,#f56565 466px,#f45b5b 488px,#f45c5c 508px,#f57070 540px,#f89696 584px,#fab4b4 606px,#fddbdb 626px,#fffdfd 642px,#fafbff 646px,#dfe2ff 668px,#bdc4ff 708px,#afb8ff 728px)"></i><i style="left:584px;width:4.6px;background:linear-gradient(#7f8dff 8px,#7080ff 48px,#5568ff 86px,#5063ff 118px,#5c6dff 162px,#7c8bff 194px,#939fff 230px,#b6beff 262px,#f0f2ff 312px,#fefeff 326px,#fef6f6 334px,#fbc1c1 376px,#f67d7d 446px,#f56767 470px,#f45e5e 494px,#f56262 514px,#f67a7a 550px,#f89c9c 588px,#fab7b7 608px,#fee9e9 632px,#fffdfd 642px,#fdfeff 644px,#e1e4ff 666px,#c2c8ff 702px,#b0b8ff 728px)"></i><i style="left:588px;width:4.6px;background:linear-gradient(#818fff 8px,#7383ff 46px,#5669ff 84px,#5063ff 118px,#5c6eff 164px,#7a88ff 194px,#949fff 236px,#bcc4ff 272px,#f0f2ff 318px,#fefeff 332px,#fbc2c2 382px,#f78282 446px,#f56c6c 470px,#f56363 494px,#f56666 514px,#f67b7b 548px,#f89b9b 586px,#fab8b8 608px,#fde5e5 630px,#fffdfd 642px,#fafbff 646px,#dde0ff 670px,#bfc6ff 706px,#b0b9ff 728px)"></i><i style="left:592px;width:4.6px;background:linear-gradient(#8492ff 8px,#7685ff 46px,#596bff 84px,#5265ff 116px,#5f70ff 164px,#7d8bff 202px,#939fff 240px,#ebedff 318px,#ffffff 338px,#fbc5c5 386px,#f78181 452px,#f56f6f 474px,#f56767 496px,#f56d6d 520px,#f78585 558px,#f9a1a1 590px,#fbbdbd 610px,#fffefe 642px,#dee2ff 668px,#c0c7ff 704px,#b0b9ff 728px)"></i><i style="left:596px;width:4.6px;background:linear-gradient(#8794ff 8px,#7a88ff 46px,#5b6dff 86px,#5567ff 116px,#6071ff 158px,#8593ff 220px,#939fff 244px,#e7eaff 320px,#ffffff 344px,#fbc2c2 396px,#f67a7a 466px,#f56e6e 488px,#f56e6e 510px,#f67b7b 538px,#f89b9b 582px,#fab6b6 604px,#fcd7d7 622px,#ffffff 642px,#e0e3ff 666px,#c3c9ff 700px,#b0b9ff 728px)"></i><i style="left:600px;width:4.6px;background:linear-gradient(#8b97ff 8px,#7e8cff 46px,#5f70ff 88px,#586aff 118px,#6374ff 154px,#7b89ff 200px,#919dff 244px,#bec5ff 286px,#eceeff 330px,#fffefe 350px,#fababa 410px,#f78181 464px,#f67575 486px,#f67474 510px,#f67d7d 536px,#f99e9e 582px,#fab5b5 602px,#fcd5d5 620px,#fffdfd 640px,#fafbff 644px,#dde1ff 668px,#bfc6ff 706px,#b0b8ff 728px)"></i><i style="left:604px;width:4.6px;background:linear-gradient(#8f9bff 8px,#8290ff 48px,#6576ff 88px,#5c6eff 118px,#6677ff 150px,#7f8dff 208px,#909cff 246px,#b5bdff 282px,#e1e4ff 324px,#ffffff 356px,#faadad 428px,#f78888 464px,#f67b7b 486px,#f67b7b 512px,#f78383 538px,#f9a1a1 582px,#fab9b9 602px,#fddcdc 622px,#feffff 640px,#e0e4ff 664px,#c2c9ff 700px,#afb8ff 728px)"></i><i style="left:608px;width:4.6px;background:linear-gradient(#939fff 8px,#8794ff 50px,#6a7aff 90px,#6172ff 120px,#6f7eff 158px,#7c8aff 200px,#8f9bff 246px,#acb5ff 278px,#dadeff 322px,#ffffff 362px,#f89d9d 448px,#f78787 474px,#f78080 496px,#f78585 532px,#f9a0a0 576px,#fab4b4 596px,#fcd4d4 616px,#fffefe 638px,#dfe3ff 664px,#c0c7ff 702px,#afb7ff 728px)"></i><i style="left:612px;width:4.6px;background:linear-gradient(#98a3ff 8px,#8c98ff 52px,#7080ff 92px,#6777ff 120px,#7685ff 174px,#8d9aff 246px,#a4aeff 274px,#d5daff 322px,#ffffff 368px,#f9a2a2 450px,#f78d8d 476px,#f78787 498px,#f78c8c 534px,#f9a4a4 576px,#fab7b7 596px,#fcd8d8 616px,#fffefe 636px,#fafbff 640px,#dce0ff 666px,#bbc2ff 708px,#aeb7ff 728px)"></i><i style="left:616px;width:4.6px;background:linear-gradient(#9da8ff 8px,#919dff 54px,#7685ff 94px,#6d7dff 122px,#7987ff 174px,#8d9aff 248px,#a3adff 276px,#d0d5ff 322px,#f8f9ff 368px,#fefeff 374px,#f9abab 448px,#f89595 474px,#f78e8e 496px,#f89191 532px,#f9a5a5 572px,#fab9b9 594px,#fcd8d8 614px,#fffdfd 634px,#fefeff 636px,#dee2ff 662px,#bdc4ff 704px,#adb6ff 728px)"></i><i style="left:620px;width:4.6px;background:linear-gradient(#a3adff 8px,#96a1ff 56px,#7d8bff 96px,#7383ff 122px,#7c8aff 174px,#8b98ff 246px,#9ea8ff 274px,#cdd2ff 324px,#f2f3ff 368px,#fefeff 380px,#fab4b4 446px,#f89d9d 474px,#f89595 498px,#f89898 534px,#f9aaaa 572px,#fbbdbd 594px,#fddddd 614px,#fffdfd 632px,#fefeff 634px,#dfe2ff 660px,#bdc4ff 702px,#acb5ff 728px)"></i><i style="left:624px;width:4.6px;background:linear-gradient(#a8b2ff 8px,#9ca6ff 56px,#818fff 104px,#7988ff 126px,#7e8cff 170px,#8794ff 230px,#919dff 260px,#a9b2ff 290px,#cbd0ff 328px,#ebedff 368px,#fefeff 386px,#fbbebe 444px,#f9a6a6 472px,#f89d9d 496px,#f99e9e 534px,#faadad 570px,#fbbfbf 592px,#fddddd 612px,#fffdfd 630px,#fbfbff 634px,#dbdfff 662px,#b7beff 710px,#abb4ff 728px)"></i><i style="left:628px;width:4.6px;background:linear-gradient(#aeb7ff 8px,#a0abff 58px,#808eff 122px,#808eff 144px,#8390ff 202px,#8c99ff 252px,#9da7ff 280px,#c5ccff 328px,#e3e6ff 366px,#ffffff 392px,#fbc5c5 444px,#f9acac 474px,#f9a4a4 500px,#f9a5a5 538px,#fab5b5 574px,#fbc6c6 594px,#fde5e5 614px,#fffefe 628px,#f5f6ff 636px,#d6daff 666px,#abb4ff 726px,#aab3ff 728px)"></i><i style="left:632px;width:4.6px;background:linear-gradient(#b4bcff 8px,#a5afff 60px,#8492ff 130px,#8391ff 166px,#8592ff 210px,#8d99ff 256px,#9ba6ff 282px,#c2c8ff 330px,#dce0ff 366px,#ffffff 398px,#fbc7c7 450px,#fab3b3 476px,#f9abab 502px,#f9acac 542px,#fbbcbc 578px,#fccdcd 596px,#fef4f4 620px,#fffefe 626px,#d9ddff 660px,#b4bcff 710px,#a8b2ff 728px)"></i><i style="left:636px;width:4.6px;background:linear-gradient(#bac2ff 8px,#a8b2ff 66px,#919dff 114px,#8895ff 136px,#8492ff 192px,#8b98ff 254px,#97a2ff 280px,#bfc6ff 334px,#d6daff 366px,#ffffff 404px,#fbc6c6 460px,#fab7b7 484px,#fab1b1 520px,#fab4b4 550px,#fbc4c4 582px,#fcd7d7 600px,#fffefe 624px,#dbdfff 656px,#b9c1ff 700px,#a7b1ff 728px)"></i><i style="left:640px;width:4.6px;background:linear-gradient(#c0c7ff 8px,#a9b2ff 80px,#99a4ff 112px,#8b97ff 138px,#8592ff 186px,#8c98ff 258px,#97a2ff 284px,#bbc2ff 336px,#d0d5ff 366px,#feffff 410px,#fbc9c9 466px,#fbbcbc 490px,#fab7b7 536px,#fbbfbf 564px,#fccccc 586px,#fde1e1 604px,#fffefe 622px,#d9ddff 656px,#b7bfff 700px,#a6b0ff 728px)"></i><i style="left:644px;width:4.6px;background:linear-gradient(#c6cdff 8px,#a7b1ff 100px,#8c98ff 142px,#8693ff 184px,#8c99ff 262px,#97a2ff 288px,#b7bfff 338px,#c9cfff 366px,#ffffff 418px,#fccfcf 468px,#fbc2c2 494px,#fbbdbd 540px,#fbc6c6 570px,#fcd4d4 590px,#feeeee 610px,#fffefe 620px,#d9ddff 654px,#b8c0ff 696px,#a4aeff 728px)"></i><i style="left:648px;width:4.6px;background:linear-gradient(#ccd2ff 8px,#aeb7ff 100px,#8d99ff 144px,#8693ff 184px,#8d99ff 268px,#99a4ff 296px,#b4bcff 344px,#c7cdff 370px,#fcfcff 422px,#ffffff 426px,#fcd6d6 470px,#fbc8c8 496px,#fbc2c2 542px,#fccbcb 572px,#fddada 592px,#fffbfb 616px,#fdfeff 620px,#dadeff 650px,#bcc3ff 688px,#a3adff 728px)"></i><i style="left:652px;width:4.6px;background:linear-gradient(#d2d7ff 8px,#b5bdff 100px,#a1abff 124px,#8e9aff 146px,#8794ff 184px,#8d99ff 274px,#99a4ff 302px,#bac1ff 362px,#f8f9ff 426px,#ffffff 434px,#fddddd 470px,#fccece 498px,#fbc7c7 542px,#fccece 570px,#fddede 592px,#fffdfd 616px,#fbfcff 620px,#d6dbff 652px,#b8bfff 692px,#a2acff 728px)"></i><i style="left:656px;width:4.6px;background:linear-gradient(#d8dcff 8px,#bac2ff 102px,#a9b3ff 122px,#909cff 146px,#8794ff 182px,#8d9aff 282px,#b2baff 360px,#ced4ff 390px,#f7f8ff 432px,#fffefe 442px,#fddfdf 478px,#fcd1d1 508px,#fccccc 544px,#fcd3d3 572px,#fde4e4 594px,#fffdfd 614px,#fbfcff 618px,#d4d9ff 652px,#b6beff 692px,#a0abff 728px)"></i><i style="left:660px;width:4.6px;background:linear-gradient(#dee1ff 8px,#c1c8ff 102px,#b2baff 120px,#94a0ff 146px,#8794ff 178px,#8c99ff 286px,#abb4ff 358px,#c3caff 386px,#f2f4ff 434px,#ffffff 448px,#fde1e1 486px,#fcd3d3 522px,#fcd1d1 552px,#fddbdb 578px,#feefef 600px,#fffefe 612px,#fbfcff 616px,#d2d7ff 652px,#b6beff 690px,#9fa9ff 728px)"></i><i style="left:664px;width:4.6px;background:linear-gradient(#e3e6ff 8px,#c7cdff 102px,#bac2ff 118px,#98a3ff 148px,#8895ff 176px,#8794ff 206px,#8a96ff 278px,#8f9bff 304px,#a4aeff 358px,#bcc3ff 386px,#f7f8ff 446px,#ffffff 456px,#fde4e4 492px,#fcd6d6 528px,#fcd6d6 556px,#fde0e0 580px,#fef7f7 604px,#fffefe 610px,#cdd2ff 656px,#adb5ff 702px,#9da8ff 728px)"></i><i style="left:668px;width:4.6px;background:linear-gradient(#e9ecff 8px,#ced3ff 102px,#c1c8ff 118px,#9ca6ff 150px,#8996ff 176px,#8693ff 200px,#8996ff 264px,#8996ff 298px,#9da7ff 356px,#b1b9ff 382px,#f6f7ff 452px,#ffffff 464px,#fde7e7 498px,#fddada 532px,#fddbdb 560px,#fde7e7 584px,#ffffff 608px,#cbd0ff 656px,#abb4ff 702px,#9ca7ff 728px)"></i><i style="left:672px;width:4.6px;background:linear-gradient(#eff1ff 8px,#d4d8ff 102px,#c5cbff 120px,#97a3ff 160px,#8895ff 180px,#8693ff 206px,#8996ff 260px,#8592ff 298px,#95a0ff 354px,#a8b1ff 380px,#f2f4ff 454px,#ffffff 472px,#fde7e7 508px,#fddede 538px,#fde0e0 564px,#feecec 586px,#fefeff 606px,#c7cdff 658px,#a4adff 712px,#9ba5ff 728px)"></i><i style="left:676px;width:4.6px;background:linear-gradient(#f5f6ff 8px,#d9ddff 102px,#cbd1ff 120px,#8d9aff 174px,#8693ff 190px,#8895ff 226px,#8895ff 266px,#818fff 300px,#8c99ff 350px,#9ea9ff 378px,#edefff 454px,#ffffff 480px,#fde8e8 518px,#fde2e2 550px,#fde7e7 572px,#fff9f9 596px,#ffffff 602px,#c4caff 660px,#9ca7ff 722px,#99a4ff 728px)"></i><i style="left:680px;width:4.6px;background:linear-gradient(#fbfbff 8px,#e0e3ff 100px,#d1d6ff 120px,#a4aeff 158px,#8c99ff 178px,#8593ff 198px,#8895ff 262px,#7c8aff 300px,#8391ff 344px,#929eff 372px,#b9c0ff 412px,#e5e8ff 452px,#ffffff 488px,#feecec 524px,#fde7e7 558px,#fef0f0 580px,#ffffff 598px,#c0c7ff 662px,#98a3ff 728px)"></i><i style="left:684px;width:4.6px;background:linear-gradient(#fffdfd 8px,#fefeff 22px,#e7eaff 96px,#d9ddff 118px,#b8c0ff 148px,#919dff 176px,#8895ff 192px,#8693ff 220px,#8693ff 264px,#7786ff 300px,#7a89ff 336px,#8794ff 366px,#9ea8ff 394px,#c5ccff 430px,#e0e3ff 452px,#ffffff 498px,#fef0f0 528px,#feecec 562px,#fef7f7 584px,#ffffff 594px,#d9ddff 634px,#bcc3ff 666px,#96a2ff 728px)"></i><i style="left:688px;width:4.6px;background:linear-gradient(#fef6f6 8px,#fefeff 40px,#f2f3ff 84px,#e2e6ff 114px,#c7cdff 142px,#939fff 178px,#8794ff 198px,#8693ff 228px,#8592ff 264px,#7281ff 300px,#7281ff 330px,#7d8bff 362px,#929eff 390px,#bbc2ff 428px,#d8dcff 450px,#fafbff 500px,#fffefe 510px,#fef5f5 534px,#fef2f2 564px,#fffdfd 586px,#fdfdff 592px,#d9ddff 632px,#b9c1ff 668px,#95a1ff 728px)"></i><i style="left:692px;width:4.6px;background:linear-gradient(#feeeee 8px,#fefeff 68px,#eaecff 112px,#d0d5ff 140px,#b7bfff 158px,#98a3ff 178px,#8a97ff 196px,#8492ff 220px,#8290ff 264px,#6d7dff 298px,#6b7bff 324px,#7483ff 358px,#8693ff 386px,#afb8ff 426px,#cfd5ff 448px,#f1f2ff 494px,#fffefe 524px,#fef7f7 564px,#fefeff 584px,#e4e7ff 618px,#bac2ff 664px,#94a0ff 728px)"></i><i style="left:696px;width:4.6px;background:linear-gradient(#fde7e7 8px,#fffafa 72px,#ffffff 82px,#ebedff 118px,#d2d7ff 144px,#9ca6ff 180px,#8a97ff 200px,#8491ff 222px,#7f8dff 264px,#6778ff 298px,#6475ff 322px,#6b7bff 354px,#7e8cff 386px,#a6b0ff 426px,#c8ceff 448px,#e8ebff 490px,#fafaff 528px,#fffefe 552px,#fffdfd 568px,#fdfdff 578px,#e7e9ff 612px,#b6beff 668px,#939eff 728px)"></i><i style="left:700px;width:4.6px;background:linear-gradient(#fde1e1 8px,#fef0f0 68px,#ffffff 94px,#ebedff 126px,#d4d8ff 148px,#9da7ff 184px,#8a96ff 204px,#8390ff 226px,#7b89ff 264px,#6374ff 296px,#5e6fff 318px,#6374ff 350px,#7584ff 384px,#9aa5ff 424px,#c2c8ff 450px,#e1e4ff 488px,#f3f4ff 528px,#fcfcff 566px,#f0f2ff 594px,#d2d7ff 632px,#b1b9ff 674px,#929dff 728px)"></i><i style="left:704px;width:4.6px;background:linear-gradient(#fddada 8px,#fde6e6 62px,#ffffff 104px,#e8eaff 136px,#ced4ff 156px,#9da8ff 188px,#8a97ff 206px,#828fff 228px,#7886ff 262px,#5e6fff 296px,#586aff 318px,#5d6eff 350px,#6f7eff 386px,#919dff 424px,#b9c0ff 450px,#d6dbff 482px,#e6e9ff 512px,#f6f7ff 564px,#eef0ff 590px,#d7dbff 624px,#b1b9ff 672px,#909cff 728px)"></i><i style="left:708px;width:4.6px;background:linear-gradient(#fcd3d3 8px,#fddcdc 56px,#feebeb 84px,#fefeff 114px,#eaecff 140px,#ccd1ff 162px,#95a1ff 198px,#8794ff 214px,#7584ff 260px,#596bff 296px,#5265ff 320px,#5668ff 348px,#6a7aff 390px,#8895ff 424px,#b4bdff 454px,#d2d6ff 484px,#dfe2ff 512px,#eff1ff 566px,#e9ebff 592px,#d5d9ff 624px,#aeb7ff 674px,#8f9cff 728px)"></i><i style="left:712px;width:4.6px;background:linear-gradient(#fccdcd 8px,#fcd4d4 54px,#fde0e0 78px,#fefeff 122px,#e9ebff 146px,#bdc4ff 176px,#929dff 204px,#8593ff 220px,#7483ff 256px,#5669ff 292px,#4e61ff 318px,#5063ff 346px,#6575ff 392px,#7d8bff 420px,#b3bbff 460px,#cdd2ff 486px,#d7dcff 512px,#e9ecff 568px,#e3e6ff 596px,#cfd4ff 628px,#abb5ff 676px,#8f9bff 728px)"></i><i style="left:716px;width:4.6px;background:linear-gradient(#fbc7c7 8px,#fccece 54px,#fcd8d8 76px,#ffffff 128px,#edefff 148px,#c1c8ff 178px,#939fff 206px,#8592ff 224px,#7180ff 256px,#5567ff 288px,#4a5eff 316px,#4a5eff 344px,#6172ff 396px,#7685ff 420px,#b7bfff 470px,#c9cfff 490px,#dee2ff 550px,#e4e6ff 574px,#dce0ff 604px,#c3caff 640px,#a7b0ff 682px,#8e9aff 728px)"></i><i style="left:720px;width:4.6px;background:linear-gradient(#fbc2c2 8px,#fbc9c9 58px,#fcd5d5 80px,#fefeff 136px,#e9ebff 156px,#bec5ff 184px,#98a3ff 206px,#8794ff 224px,#6f7fff 256px,#5467ff 284px,#475bff 314px,#4559ff 342px,#5f71ff 402px,#7a89ff 428px,#b7bfff 476px,#c5cbff 494px,#d1d6ff 536px,#dee2ff 572px,#d9ddff 602px,#c7cdff 632px,#a7b1ff 678px,#8d9aff 728px)"></i><i style="left:724px;width:4.6px;background:linear-gradient(#fbbcbc 8px,#fbc7c7 66px,#fefeff 142px,#e4e7ff 164px,#c0c7ff 186px,#9da8ff 206px,#8b97ff 224px,#6e7eff 256px,#5567ff 280px,#465aff 310px,#4156ff 340px,#5c6eff 404px,#7d8bff 434px,#b5bdff 480px,#c1c7ff 498px,#cad0ff 534px,#d9ddff 574px,#d5daff 604px,#c3caff 634px,#a6afff 678px,#8c99ff 728px)"></i><i style="left:728px;width:4.6px;background:linear-gradient(#fab6b6 8px,#fbc0c0 54px,#fbc7c7 72px,#fffafa 142px,#fefeff 148px,#dbdfff 174px,#a0abff 208px,#8592ff 234px,#6475ff 264px,#5366ff 280px,#4358ff 316px,#3f54ff 342px,#5a6cff 404px,#7b89ff 436px,#b1baff 482px,#bcc4ff 502px,#c6ccff 536px,#d5daff 576px,#d2d7ff 604px,#c1c8ff 634px,#a4aeff 678px,#8c98ff 728px)"></i><i style="left:732px;width:4.6px;background:linear-gradient(#fab3b3 8px,#fbbfbf 48px,#fbc1c1 66px,#fef5f5 142px,#feffff 152px,#dee2ff 176px,#a4aeff 210px,#6778ff 262px,#5568ff 278px,#4358ff 316px,#3e53ff 342px,#5a6cff 406px,#7b89ff 440px,#acb5ff 482px,#b8bfff 502px,#c4caff 544px,#d1d6ff 576px,#d0d5ff 604px,#bec5ff 634px,#a2acff 678px,#8b97ff 728px)"></i><i style="left:736px;width:4.6px;background:linear-gradient(#fab4b4 8px,#fbbfbf 50px,#fbc3c3 70px,#feeeee 140px,#ffffff 156px,#dde1ff 180px,#a7b1ff 212px,#5769ff 278px,#4358ff 318px,#3e53ff 342px,#5a6cff 406px,#7483ff 436px,#a8b1ff 482px,#b3bbff 502px,#c2c8ff 548px,#cfd4ff 578px,#cdd2ff 604px,#bac2ff 636px,#a0aaff 678px,#8a97ff 728px)"></i><i style="left:740px;width:4.6px;background:linear-gradient(#fab6b6 8px,#fbc0c0 50px,#fbc4c4 72px,#fde8e8 138px,#fffcfc 158px,#ffffff 160px,#e0e3ff 182px,#aab4ff 214px,#5d6eff 276px,#4a5dff 308px,#3f54ff 338px,#465aff 362px,#6072ff 416px,#808eff 450px,#a4aeff 482px,#b0b8ff 504px,#bfc6ff 550px,#cdd2ff 580px,#cad0ff 604px,#b5bdff 640px,#9da8ff 680px,#8996ff 728px)"></i><i style="left:744px;width:4.6px;background:linear-gradient(#fababa 8px,#fbc6c6 72px,#fde1e1 134px,#fef5f5 156px,#ffffff 164px,#dbdfff 188px,#abb4ff 218px,#6273ff 276px,#4d60ff 308px,#4256ff 336px,#4559ff 358px,#6374ff 420px,#808eff 452px,#a1abff 482px,#adb6ff 506px,#bdc4ff 552px,#cbd0ff 582px,#c8ceff 604px,#9ea8ff 674px,#8895ff 728px)"></i><i style="left:748px;width:4.6px;background:linear-gradient(#fbbebe 8px,#fbc7c7 72px,#fddcdc 132px,#feeeee 154px,#ffffff 168px,#d7dbff 194px,#a6b0ff 226px,#6a7aff 274px,#5265ff 306px,#455aff 334px,#475bff 356px,#6676ff 424px,#8391ff 456px,#9ea8ff 482px,#aab3ff 508px,#bcc3ff 554px,#c8ceff 582px,#c5cbff 604px,#9ca7ff 672px,#8794ff 728px)"></i><i style="left:752px;width:4.6px;background:linear-gradient(#fbc1c1 8px,#fbc9c9 76px,#fcd8d8 130px,#fde8e8 152px,#fefeff 172px,#a7b1ff 230px,#7483ff 272px,#5467ff 310px,#495dff 336px,#4a5eff 360px,#6777ff 426px,#828fff 456px,#9ba6ff 482px,#a9b2ff 514px,#bcc3ff 560px,#c6ccff 584px,#c1c8ff 606px,#9ba5ff 670px,#8693ff 728px)"></i><i style="left:756px;width:4.6px;background:linear-gradient(#fbc4c4 8px,#fccbcb 86px,#fcd5d5 130px,#fde6e6 154px,#fefeff 176px,#abb4ff 232px,#7d8bff 270px,#5769ff 314px,#4c60ff 338px,#4e61ff 362px,#6778ff 426px,#818eff 456px,#99a4ff 482px,#bcc3ff 564px,#c3c9ff 586px,#bbc3ff 610px,#99a4ff 668px,#8592ff 728px)"></i><i style="left:760px;width:4.6px;background:linear-gradient(#fbc7c7 8px,#fccece 112px,#fcd7d7 140px,#fee9e9 162px,#fffefe 178px,#f8f9ff 184px,#afb7ff 234px,#8794ff 268px,#5b6dff 316px,#5063ff 340px,#5164ff 364px,#6979ff 428px,#818fff 458px,#95a0ff 480px,#bfc6ff 582px,#bbc2ff 604px,#95a1ff 670px,#8491ff 728px)"></i><i style="left:764px;width:4.6px;background:linear-gradient(#fbcaca 8px,#fccece 124px,#fcd9d9 148px,#feeeee 170px,#ffffff 182px,#aeb6ff 240px,#8d9aff 270px,#5f71ff 318px,#5467ff 342px,#5567ff 366px,#6979ff 428px,#808eff 458px,#939fff 482px,#bbc2ff 580px,#b7bfff 602px,#939eff 670px,#8290ff 728px)"></i><i style="left:768px;width:4.6px;background:linear-gradient(#fccdcd 8px,#fccccc 124px,#fcd6d6 148px,#feeaea 170px,#ffffff 186px,#b2baff 242px,#949fff 272px,#7e8cff 294px,#6475ff 320px,#586bff 344px,#586aff 366px,#6a7aff 428px,#818eff 460px,#929eff 484px,#b7bfff 578px,#b4bcff 600px,#909cff 670px,#818fff 728px)"></i><i style="left:772px;width:4.6px;background:linear-gradient(#fcd0d0 8px,#fbcaca 124px,#fcd3d3 148px,#fde8e8 172px,#fefeff 190px,#b4bcff 246px,#8a96ff 290px,#6b7bff 318px,#5d6fff 342px,#5b6dff 366px,#6a7aff 428px,#808eff 462px,#919dff 490px,#b2bbff 574px,#b1baff 596px,#8e9aff 670px,#808eff 728px)"></i><i style="left:776px;width:4.6px;background:linear-gradient(#fcd3d3 8px,#fbc8c8 124px,#fcd1d1 150px,#fde6e6 174px,#fefeff 194px,#b9c1ff 248px,#919dff 290px,#6f7fff 320px,#6172ff 344px,#5e70ff 368px,#6b7bff 430px,#8e9aff 490px,#aeb7ff 570px,#aeb7ff 594px,#8b98ff 670px,#7f8dff 728px)"></i><i style="left:780px;width:4.6px;background:linear-gradient(#fcd6d6 8px,#fbc6c6 124px,#fccece 150px,#fde1e1 174px,#ffffff 198px,#bec5ff 250px,#97a2ff 290px,#7382ff 322px,#6575ff 346px,#6273ff 370px,#6c7cff 430px,#8f9bff 500px,#a9b2ff 564px,#abb4ff 590px,#99a4ff 632px,#8995ff 672px,#7d8bff 728px)"></i><i style="left:784px;width:4.6px;background:linear-gradient(#fcd9d9 8px,#fbc9c9 92px,#fbc4c4 126px,#fccdcd 152px,#fddfdf 176px,#ffffff 202px,#c1c8ff 254px,#9da8ff 290px,#7786ff 324px,#6878ff 348px,#6576ff 374px,#6d7dff 432px,#a1acff 552px,#a7b1ff 584px,#9ea8ff 614px,#8794ff 668px,#7c8aff 728px)"></i><i style="left:788px;width:4.6px;background:linear-gradient(#fddcdc 8px,#fccccc 82px,#fbc2c2 122px,#fbc8c8 148px,#fcd9d9 174px,#fffbfb 204px,#fefeff 208px,#c6ccff 256px,#9fa9ff 294px,#7b89ff 326px,#6b7bff 350px,#6878ff 378px,#6d7dff 434px,#939fff 524px,#a3adff 570px,#a2acff 594px,#8592ff 668px,#7b89ff 728px)"></i><i style="left:792px;width:4.6px;background:linear-gradient(#fddfdf 8px,#fccece 74px,#fbc1c1 120px,#fbc4c4 146px,#fcd3d3 172px,#fef3f3 202px,#ffffff 212px,#c9cfff 260px,#a0aaff 298px,#7c8bff 330px,#6f7eff 352px,#6b7bff 382px,#6d7dff 434px,#8895ff 510px,#99a4ff 548px,#9faaff 582px,#97a2ff 610px,#8390ff 668px,#7a88ff 728px)"></i><i style="left:796px;width:4.6px;background:linear-gradient(#fde2e2 8px,#fcd0d0 70px,#fbbfbf 120px,#fbc3c3 148px,#fcd1d1 174px,#feefef 204px,#fffefe 216px,#f9faff 222px,#a1abff 302px,#7e8cff 334px,#7180ff 356px,#6d7dff 394px,#6d7dff 438px,#818eff 502px,#95a0ff 546px,#9ca6ff 582px,#939fff 610px,#818eff 668px,#7887ff 728px)"></i><i style="left:800px;width:4.6px;background:linear-gradient(#fde4e4 8px,#fcd2d2 66px,#fbbebe 118px,#fbbfbf 146px,#fccccc 172px,#fde7e7 202px,#fffefe 222px,#a9b3ff 300px,#818fff 336px,#7483ff 358px,#6d7cff 414px,#6f7fff 454px,#7c8aff 500px,#919dff 548px,#98a3ff 582px,#8f9cff 610px,#7e8cff 668px,#7786ff 728px)"></i><i style="left:804px;width:4.6px;background:linear-gradient(#fde7e7 8px,#fcd5d5 62px,#fbbdbd 118px,#fbbdbd 146px,#fbc9c9 174px,#fde3e3 204px,#ffffff 228px,#b2baff 298px,#8491ff 338px,#7685ff 362px,#6c7cff 432px,#7483ff 490px,#8f9bff 556px,#939fff 586px,#7d8bff 664px,#7685ff 728px)"></i><i style="left:808px;width:4.6px;background:linear-gradient(#feeaea 8px,#fcd7d7 60px,#fabbbb 118px,#fababa 146px,#fbc5c5 174px,#fddfdf 206px,#ffffff 234px,#b8c0ff 298px,#8794ff 340px,#7988ff 364px,#6c7cff 434px,#6f7fff 488px,#8c99ff 562px,#8f9bff 590px,#7b8aff 658px,#7483ff 728px)"></i><i style="left:812px;width:4.6px;background:linear-gradient(#feeded 8px,#fcd9d9 58px,#fababa 118px,#fab8b8 146px,#fbc1c1 174px,#fcd9d9 206px,#fffefe 240px,#cdd2ff 286px,#8c99ff 340px,#7c8aff 366px,#6b7bff 436px,#6b7bff 488px,#8a96ff 568px,#8a97ff 594px,#7987ff 658px,#7382ff 728px)"></i><i style="left:816px;width:4.6px;background:linear-gradient(#fef0f0 8px,#fddcdc 54px,#fab9b9 118px,#fab5b5 146px,#fbbdbd 174px,#fcd3d3 206px,#fef6f6 240px,#fefeff 248px,#b1baff 314px,#8e9aff 344px,#7d8bff 370px,#6a7aff 440px,#6677ff 486px,#8693ff 570px,#8693ff 596px,#7685ff 658px,#7281ff 728px)"></i><i style="left:820px;width:4.6px;background:linear-gradient(#fef3f3 8px,#fddede 54px,#fab9b9 116px,#fab3b3 144px,#fab9b9 174px,#fccece 208px,#feeeee 240px,#ffffff 254px,#abb4ff 324px,#8f9cff 348px,#7e8cff 374px,#6878ff 444px,#6374ff 486px,#7a89ff 548px,#8390ff 580px,#7d8bff 612px,#7382ff 664px,#7080ff 728px)"></i><i style="left:824px;width:4.6px;background:linear-gradient(#fef6f6 8px,#fde0e0 52px,#fab8b8 116px,#fab1b1 144px,#fab6b6 174px,#fbc8c8 208px,#fde6e6 240px,#fffefe 260px,#f9faff 266px,#aab3ff 330px,#8f9bff 354px,#7d8bff 382px,#6576ff 450px,#5f70ff 488px,#7281ff 540px,#7e8cff 576px,#7c8aff 604px,#7080ff 660px,#6f7eff 728px)"></i><i style="left:828px;width:4.6px;background:linear-gradient(#fff9f9 8px,#fde3e3 50px,#fab6b6 118px,#faaeae 146px,#fab2b2 176px,#fbc3c3 210px,#fde0e0 242px,#fefeff 268px,#b3bcff 328px,#939fff 354px,#818fff 380px,#6475ff 450px,#5b6dff 488px,#6474ff 512px,#6a7aff 534px,#7988ff 572px,#7987ff 600px,#6e7dff 658px,#6d7dff 728px)"></i><i style="left:832px;width:4.6px;background:linear-gradient(#fffbfb 8px,#fde5e5 50px,#fab5b5 118px,#f9acac 146px,#faaeae 176px,#fbbdbd 210px,#fcd7d7 242px,#fef7f7 268px,#fefeff 274px,#bdc4ff 326px,#9aa5ff 352px,#8693ff 376px,#6474ff 448px,#596bff 486px,#6172ff 508px,#6172ff 524px,#7483ff 570px,#7584ff 598px,#6b7bff 658px,#6b7bff 728px)"></i><i style="left:836px;width:4.6px;background:linear-gradient(#fffefe 8px,#fde6e6 50px,#fab4b4 118px,#f9aaaa 146px,#f9abab 178px,#fab8b8 212px,#fccfcf 242px,#feecec 266px,#fefeff 280px,#c4caff 326px,#9ca7ff 354px,#8895ff 378px,#6273ff 450px,#5769ff 486px,#5e6fff 508px,#5b6dff 520px,#7080ff 572px,#7180ff 602px,#6878ff 656px,#697aff 728px)"></i><i style="left:840px;width:4.6px;background:linear-gradient(#fefeff 8px,#fffcfc 18px,#fde0e0 60px,#fab4b4 116px,#f9a7a7 146px,#f9a7a7 178px,#fab2b2 212px,#fbc9c9 244px,#fde3e3 266px,#ffffff 286px,#c7cdff 328px,#a1abff 354px,#8c98ff 376px,#6172ff 450px,#5567ff 484px,#5b6cff 508px,#586aff 522px,#6c7cff 572px,#6d7dff 602px,#6475ff 656px,#6878ff 728px)"></i><i style="left:844px;width:4.6px;background:linear-gradient(#fcfcff 8px,#fffefe 18px,#fde3e3 58px,#fab3b3 116px,#f9a5a5 146px,#f9a4a4 180px,#faafaf 216px,#fbc3c3 246px,#fddddd 268px,#ffffff 292px,#cdd2ff 328px,#a5afff 354px,#8f9bff 376px,#5f70ff 452px,#5366ff 484px,#5669ff 510px,#5668ff 526px,#6879ff 574px,#6979ff 604px,#6172ff 654px,#6576ff 728px)"></i><i style="left:848px;width:4.6px;background:linear-gradient(#fafbff 8px,#fffefe 22px,#fde5e5 58px,#fab2b2 116px,#f9a3a3 146px,#f9a0a0 180px,#f9a9a9 216px,#fabbbb 246px,#fcd2d2 266px,#fefeff 298px,#d0d5ff 330px,#aab3ff 354px,#919dff 378px,#5e6fff 452px,#5265ff 482px,#5265ff 514px,#5567ff 534px,#6676ff 580px,#6374ff 614px,#5d6fff 654px,#6374ff 728px)"></i><i style="left:852px;width:4.6px;background:linear-gradient(#f8f9ff 8px,#ffffff 24px,#fde6e6 58px,#fab2b2 114px,#f9a2a2 144px,#f89d9d 178px,#f9a3a3 214px,#fab3b3 244px,#fbc5c5 262px,#fffbfb 300px,#fffefe 302px,#e9ebff 318px,#aeb7ff 354px,#94a0ff 378px,#5c6dff 454px,#5063ff 482px,#5063ff 530px,#6273ff 582px,#5f70ff 616px,#5a6cff 654px,#6172ff 728px)"></i><i style="left:856px;width:4.6px;background:linear-gradient(#f7f7ff 8px,#fffefe 28px,#fde8e8 58px,#fab3b3 112px,#f9a1a1 142px,#f89a9a 176px,#f99e9e 212px,#f9abab 242px,#fbbebe 262px,#feecec 296px,#fefeff 308px,#d8dcff 332px,#b2bbff 354px,#99a4ff 376px,#596bff 456px,#4f62ff 482px,#4d60ff 530px,#5e70ff 584px,#5a6cff 620px,#5668ff 652px,#5e6fff 728px)"></i><i style="left:860px;width:4.6px;background:linear-gradient(#f5f6ff 8px,#fffefe 32px,#fde8e8 60px,#fab4b4 110px,#f9a0a0 140px,#f89797 176px,#f89a9a 214px,#f9a7a7 244px,#fabbbb 266px,#fde4e4 296px,#ffffff 312px,#d6daff 336px,#b4bcff 356px,#99a4ff 380px,#5769ff 458px,#4d60ff 484px,#4a5dff 532px,#5a6cff 584px,#5769ff 618px,#5265ff 652px,#5a6cff 728px)"></i><i style="left:864px;width:4.6px;background:linear-gradient(#f3f4ff 8px,#fffefe 36px,#fde5e5 64px,#fab5b5 108px,#f9a0a0 138px,#f89595 174px,#f89595 212px,#f9a1a1 242px,#fab5b5 266px,#fddada 294px,#fffefe 316px,#dcdfff 336px,#b8c0ff 356px,#9ea8ff 378px,#6778ff 438px,#5466ff 462px,#4a5eff 490px,#475bff 536px,#5769ff 584px,#5365ff 618px,#4e61ff 650px,#5568ff 728px)"></i><i style="left:868px;width:4.6px;background:linear-gradient(#f1f3ff 8px,#ffffff 38px,#fde6e6 64px,#fab6b6 106px,#f9a0a0 136px,#f89393 172px,#f89191 210px,#f89b9b 240px,#faadad 264px,#fccdcd 290px,#ffffff 320px,#bdc4ff 356px,#a1abff 378px,#6f7fff 432px,#5568ff 458px,#4a5eff 484px,#4458ff 538px,#5366ff 586px,#4d61ff 624px,#4a5eff 652px,#5063ff 702px,#4f63ff 728px)"></i><i style="left:872px;width:4.6px;background:linear-gradient(#f0f1ff 8px,#fffefe 42px,#fde1e1 70px,#fab6b6 106px,#f99f9f 136px,#f89191 172px,#f78e8e 212px,#f89898 242px,#f9acac 268px,#fbc9c9 292px,#feffff 324px,#bec5ff 358px,#a4aeff 378px,#7382ff 430px,#5769ff 456px,#4b5eff 480px,#4156ff 540px,#4f62ff 584px,#4b5eff 620px,#465aff 650px,#4d60ff 698px,#4a5eff 728px)"></i><i style="left:876px;width:4.6px;background:linear-gradient(#eef0ff 8px,#ffffff 44px,#fde2e2 70px,#fab7b7 104px,#f9a0a0 134px,#f89090 170px,#f78b8b 210px,#f89393 240px,#f9a6a6 266px,#fbc0c0 290px,#fef5f5 322px,#fffdfd 326px,#f9faff 330px,#c2c9ff 358px,#a7b1ff 378px,#7887ff 428px,#5769ff 456px,#4b5eff 480px,#4054ff 540px,#475bff 564px,#4c60ff 590px,#4358ff 650px,#4b5eff 696px,#465aff 728px)"></i><i style="left:880px;width:4.6px;background:linear-gradient(#edefff 8px,#fcfdff 42px,#ffffff 46px,#fde1e1 72px,#fab8b8 104px,#f9a0a0 132px,#f89090 168px,#f78989 208px,#f88f8f 238px,#f9a0a0 264px,#fab9b9 288px,#fee9e9 318px,#fffcfc 328px,#fefeff 330px,#c0c7ff 362px,#a8b2ff 380px,#7e8cff 426px,#5769ff 458px,#4b5eff 480px,#3f54ff 540px,#4a5dff 586px,#4155ff 650px,#495cff 696px,#4358ff 728px)"></i><i style="left:884px;width:4.6px;background:linear-gradient(#ebeeff 8px,#fbfbff 42px,#ffffff 48px,#fde0e0 74px,#fab6b6 106px,#f99f9f 134px,#f78e8e 172px,#f78787 212px,#f78e8e 242px,#f9a1a1 270px,#fababa 292px,#feebeb 322px,#feffff 332px,#c0c7ff 364px,#a9b3ff 382px,#818fff 426px,#596bff 458px,#4c60ff 478px,#3f54ff 534px,#4256ff 558px,#475bff 590px,#3f54ff 648px,#475bff 696px,#4257ff 728px)"></i><i style="left:888px;width:4.6px;background:linear-gradient(#eaecff 8px,#f9faff 42px,#ffffff 50px,#fde2e2 74px,#fab7b7 106px,#f99f9f 134px,#f78d8d 172px,#f78686 212px,#f78c8c 242px,#f89d9d 268px,#fab7b7 292px,#fde3e3 320px,#ffffff 334px,#c1c8ff 366px,#abb4ff 384px,#8592ff 426px,#5a6cff 460px,#4d60ff 480px,#4055ff 530px,#4156ff 558px,#4559ff 592px,#3d52ff 648px,#465aff 698px,#4156ff 728px)"></i><i style="left:892px;width:4.6px;background:linear-gradient(#e9ebff 8px,#f8f8ff 42px,#ffffff 52px,#fde4e4 74px,#fab8b8 106px,#f9a0a0 134px,#f78d8d 172px,#f78585 210px,#f78a8a 240px,#f89898 266px,#fab1b1 290px,#fddfdf 320px,#fffefe 336px,#c4cbff 366px,#aeb7ff 384px,#8996ff 426px,#5c6eff 460px,#4f62ff 480px,#4256ff 524px,#4256ff 558px,#4357ff 596px,#3c51ff 648px,#4559ff 700px,#4156ff 728px)"></i><i style="left:896px;width:4.6px;background:linear-gradient(#e8eaff 8px,#f6f7ff 42px,#ffffff 54px,#fde3e3 76px,#fab9b9 106px,#f9a0a0 134px,#f78d8d 172px,#f78484 210px,#f78888 240px,#f89696 266px,#faafaf 290px,#fddbdb 320px,#fffefe 338px,#f4f5ff 344px,#c5cbff 368px,#adb6ff 390px,#8d99ff 426px,#5e6fff 462px,#4f62ff 484px,#4357ff 524px,#4155ff 598px,#3b51ff 646px,#4459ff 704px,#4256ff 728px)"></i><i style="left:900px;width:4.6px;background:linear-gradient(#e7eaff 8px,#f5f6ff 42px,#ffffff 56px,#fde3e3 78px,#fab8b8 108px,#f9a0a0 136px,#f78c8c 176px,#f78484 214px,#f78888 244px,#f89898 270px,#fab1b1 294px,#fde2e2 326px,#fffdfd 340px,#f9f9ff 344px,#c9cfff 368px,#b0b9ff 390px,#919dff 426px,#6071ff 464px,#4f62ff 490px,#4459ff 524px,#3f54ff 602px,#3b50ff 646px,#4459ff 706px,#4257ff 728px)"></i><i style="left:904px;width:4.6px;background:linear-gradient(#e6e9ff 8px,#f4f6ff 44px,#ffffff 58px,#fde2e2 80px,#fababa 108px,#f9a2a2 134px,#f78e8e 172px,#f78383 212px,#f78787 242px,#f89595 268px,#faadad 292px,#fddede 326px,#fffdfd 342px,#fdfdff 344px,#ced3ff 368px,#b4bcff 390px,#929dff 428px,#6475ff 464px,#5265ff 490px,#465aff 522px,#3e53ff 606px,#3b50ff 648px,#4559ff 710px,#4357ff 728px)"></i><i style="left:908px;width:4.6px;background:linear-gradient(#e5e8ff 8px,#f3f5ff 44px,#ffffff 60px,#fddbdb 86px,#fab8b8 112px,#f99f9f 140px,#f78b8b 180px,#f78383 218px,#f78888 248px,#f89898 274px,#fab2b2 298px,#fddede 328px,#fffdfd 344px,#f8f9ff 348px,#d3d8ff 368px,#b8c0ff 390px,#939eff 430px,#6475ff 468px,#4f62ff 500px,#475bff 530px,#3f54ff 594px,#3a4fff 642px,#455aff 712px,#4358ff 728px)"></i><i style="left:912px;width:4.6px;background:linear-gradient(#e5e8ff 8px,#f3f5ff 46px,#ffffff 62px,#fab7b7 114px,#f9a0a0 142px,#f78b8b 184px,#f78484 220px,#f78989 250px,#f89999 276px,#fab6b6 302px,#fddfdf 330px,#fffefe 346px,#d2d7ff 372px,#b4bcff 398px,#919dff 434px,#6777ff 470px,#5164ff 502px,#495dff 530px,#4357ff 574px,#3a4fff 636px,#465aff 714px,#4458ff 728px)"></i><i style="left:916px;width:4.6px;background:linear-gradient(#e4e7ff 8px,#f2f4ff 46px,#fffefe 64px,#fababa 114px,#f9a1a1 142px,#f78c8c 184px,#f78484 220px,#f78989 250px,#f89898 276px,#fab3b3 302px,#fddbdb 330px,#fffefe 348px,#d6dbff 372px,#b8bfff 398px,#909cff 438px,#6878ff 474px,#5164ff 506px,#4b5eff 536px,#3a4fff 630px,#3f54ff 670px,#465aff 714px,#4459ff 728px)"></i><i style="left:920px;width:4.6px;background:linear-gradient(#e4e7ff 8px,#f2f4ff 48px,#feffff 64px,#fde6e6 84px,#fababa 116px,#f9a1a1 146px,#f78c8c 188px,#f78585 224px,#f78a8a 254px,#f89a9a 280px,#fab8b8 308px,#fddbdb 332px,#ffffff 350px,#d5daff 376px,#b5bdff 404px,#8b98ff 446px,#6878ff 478px,#5366ff 508px,#4b5fff 546px,#3a50ff 624px,#3d53ff 662px,#465aff 712px,#4559ff 728px)"></i><i style="left:924px;width:4.6px;background:linear-gradient(#e3e6ff 8px,#f2f3ff 48px,#ffffff 66px,#fababa 118px,#f9a2a2 148px,#f78d8d 190px,#f78686 226px,#f78b8b 256px,#f89b9b 282px,#fabbbb 312px,#fddbdb 334px,#fffefe 352px,#d4d9ff 380px,#b1baff 412px,#8693ff 454px,#6576ff 486px,#5466ff 512px,#3b50ff 622px,#3d52ff 660px,#465aff 710px,#4559ff 728px)"></i><i style="left:928px;width:4.6px;background:linear-gradient(#e3e6ff 8px,#f2f3ff 50px,#fffefe 68px,#fabbbb 120px,#f9a1a1 152px,#f78d8d 194px,#f78686 230px,#f78d8d 260px,#f89d9d 286px,#fbbdbd 316px,#fddfdf 338px,#fffefe 354px,#d0d5ff 386px,#adb6ff 420px,#8391ff 460px,#6374ff 492px,#5567ff 516px,#3b51ff 618px,#3d52ff 656px,#465aff 708px,#4559ff 728px)"></i><i style="left:932px;width:4.6px;background:linear-gradient(#e3e6ff 8px,#f1f3ff 50px,#fffefe 70px,#fbbcbc 122px,#f9a3a3 154px,#f78e8e 196px,#f78888 232px,#f78d8d 262px,#f99f9f 290px,#fbbdbd 318px,#fddfdf 340px,#fffefe 356px,#fafaff 360px,#cdd3ff 392px,#8794ff 460px,#6576ff 494px,#5769ff 518px,#3c51ff 616px,#3d52ff 654px,#475bff 706px,#4559ff 728px)"></i><i style="left:936px;width:4.6px;background:linear-gradient(#e3e6ff 8px,#f2f3ff 52px,#fffefe 72px,#fbbfbf 122px,#f9a5a5 154px,#f89090 196px,#f78989 232px,#f78e8e 262px,#f99e9e 290px,#fababa 318px,#fddbdb 340px,#fffcfc 358px,#fefeff 360px,#cfd4ff 394px,#8290ff 468px,#6374ff 502px,#5567ff 532px,#3d52ff 614px,#3d52ff 650px,#475bff 706px,#455aff 728px)"></i><i style="left:940px;width:4.6px;background:linear-gradient(#e2e6ff 8px,#f2f3ff 54px,#fefeff 72px,#feeded 88px,#fbc1c1 124px,#f9a7a7 156px,#f89191 200px,#f78a8a 236px,#f88f8f 266px,#f9a2a2 296px,#fbbcbc 322px,#fddede 344px,#fffefe 362px,#ccd1ff 400px,#6b7bff 496px,#5a6cff 524px,#3f54ff 608px,#3c52ff 646px,#475bff 706px,#465aff 728px)"></i><i style="left:944px;width:4.6px;background:linear-gradient(#e2e5ff 8px,#f2f3ff 56px,#fffefe 76px,#fbc2c2 126px,#f9a7a7 160px,#f89292 204px,#f78b8b 240px,#f89191 270px,#f9a3a3 300px,#fbbebe 326px,#fde7e7 352px,#fffdfd 364px,#fefeff 366px,#ced3ff 402px,#6f7fff 496px,#5c6eff 526px,#4155ff 602px,#3c52ff 640px,#475bff 706px,#465aff 728px)"></i><i style="left:948px;width:4.6px;background:linear-gradient(#e2e5ff 8px,#f2f4ff 58px,#fffefe 78px,#fbc3c3 128px,#f9a8a8 162px,#f89393 206px,#f78c8c 242px,#f89292 272px,#f9a3a3 302px,#fabbbb 326px,#fddfdf 350px,#fffefe 368px,#cbd1ff 408px,#7281ff 498px,#5c6dff 532px,#4256ff 602px,#3d52ff 640px,#475bff 706px,#465aff 728px)"></i><i style="left:952px;width:4.6px;background:linear-gradient(#e2e5ff 8px,#f2f4ff 60px,#fffefe 80px,#fbc4c4 130px,#f9a9a9 166px,#f89393 212px,#f78e8e 246px,#f89494 278px,#f9a6a6 308px,#fbbfbf 332px,#feeeee 362px,#ffffff 372px,#d0d5ff 408px,#7886ff 496px,#5e70ff 532px,#4459ff 596px,#3d52ff 634px,#4458ff 678px,#465aff 720px,#465aff 728px)"></i><i style="left:956px;width:4.6px;background:linear-gradient(#e2e5ff 8px,#f1f3ff 60px,#fffefe 82px,#fbc6c6 132px,#f9abab 168px,#f89595 214px,#f88f8f 248px,#f89595 280px,#f9a6a6 310px,#fbbebe 334px,#fee9e9 362px,#fffdfd 374px,#fefeff 376px,#d0d5ff 412px,#7f8dff 492px,#6475ff 528px,#4b5fff 580px,#3e53ff 626px,#4055ff 664px,#475bff 710px,#465aff 728px)"></i><i style="left:960px;width:4.6px;background:linear-gradient(#e2e5ff 8px,#f2f3ff 62px,#ffffff 82px,#fbc7c7 134px,#f9abab 172px,#f89696 218px,#f89090 252px,#f89696 284px,#f9a7a7 314px,#fbc0c0 338px,#feeeee 368px,#fffefe 378px,#f2f4ff 388px,#bfc6ff 432px,#7987ff 504px,#5d6fff 544px,#4357ff 606px,#3e53ff 642px,#475bff 714px,#465aff 728px)"></i><i style="left:964px;width:4.6px;background:linear-gradient(#e1e5ff 8px,#f1f2ff 62px,#ffffff 84px,#fbc8c8 136px,#f9acac 176px,#f89696 222px,#f89191 256px,#f89898 290px,#f9aaaa 320px,#fbc3c3 344px,#ffffff 382px,#c3c9ff 432px,#7d8bff 504px,#5f70ff 546px,#4458ff 606px,#3e53ff 642px,#465aff 718px,#465aff 728px)"></i><i style="left:968px;width:4.6px;background:linear-gradient(#e1e4ff 8px,#f0f2ff 62px,#fffefe 86px,#fbc9c9 138px,#f9abab 182px,#f89696 228px,#f89292 262px,#f89a9a 296px,#f9abab 324px,#fbc4c4 348px,#ffffff 386px,#bcc3ff 442px,#7584ff 518px,#586aff 564px,#4257ff 614px,#3f54ff 650px,#465aff 720px,#465aff 728px)"></i><i style="left:972px;width:4.6px;background:linear-gradient(#e1e4ff 8px,#f0f1ff 62px,#ffffff 86px,#fbc9c9 142px,#f9a8a8 192px,#f89696 234px,#f89393 268px,#f89c9c 302px,#faaeae 330px,#fbc6c6 352px,#ffffff 390px,#bcc3ff 446px,#7685ff 522px,#5567ff 574px,#4257ff 618px,#3f54ff 654px,#465aff 722px,#465aff 728px)"></i><i style="left:976px;width:4.6px;background:linear-gradient(#e0e4ff 8px,#eff1ff 62px,#ffffff 88px,#fbcaca 144px,#f9a8a8 198px,#f89797 238px,#f89494 272px,#f89d9d 306px,#faaeae 334px,#fbc7c7 356px,#ffffff 394px,#bcc4ff 450px,#7685ff 526px,#5265ff 582px,#4257ff 620px,#3f54ff 656px,#465aff 726px,#465aff 728px)"></i><i style="left:980px;width:4.6px;background:linear-gradient(#e0e3ff 8px,#eff0ff 62px,#fffefe 90px,#fccbcb 146px,#f9a4a4 210px,#f89696 248px,#f89696 284px,#f9a1a1 318px,#fab5b5 344px,#fddbdb 374px,#fffefe 398px,#bfc6ff 452px,#7a89ff 526px,#5265ff 586px,#4257ff 622px,#4054ff 660px,#465aff 728px)"></i><i style="left:984px;width:4.6px;background:linear-gradient(#e0e3ff 8px,#edefff 60px,#ffffff 90px,#fccccc 148px,#f9a1a1 220px,#f89696 256px,#f89797 294px,#f9a4a4 326px,#fab8b8 350px,#fee9e9 388px,#fffefe 402px,#fbfcff 406px,#c4caff 452px,#7e8cff 526px,#5164ff 590px,#4357ff 622px,#4054ff 660px,#465aff 728px)"></i><i style="left:988px;width:4.6px;background:linear-gradient(#e0e3ff 8px,#edefff 60px,#fffefe 92px,#fccdcd 150px,#f9a0a0 226px,#f89696 262px,#f89898 300px,#f9a4a4 330px,#fab8b8 354px,#feecec 394px,#fefeff 408px,#c9cfff 452px,#8290ff 526px,#5063ff 594px,#4358ff 624px,#4055ff 664px,#465aff 728px)"></i><i style="left:992px;width:4.6px;background:linear-gradient(#dfe3ff 8px,#eceeff 60px,#ffffff 92px,#fccdcd 154px,#f99f9f 230px,#f89696 264px,#f89898 304px,#f9a4a4 334px,#fabbbb 360px,#feeeee 400px,#ffffff 412px,#cad0ff 456px,#8895ff 524px,#4f62ff 598px,#4357ff 628px,#4055ff 670px,#475bff 728px)"></i><i style="left:996px;width:4.6px;background:linear-gradient(#dfe3ff 8px,#ebedff 58px,#fffefe 94px,#fccfcf 154px,#f9a0a0 232px,#f89696 266px,#f89898 308px,#f9a3a3 336px,#fabbbb 364px,#fde7e7 400px,#fffefe 416px,#c5cbff 466px,#8996ff 528px,#4f62ff 600px,#4358ff 630px,#4155ff 672px,#475bff 728px)"></i><i style="left:1000px;width:4.6px;background:linear-gradient(#dfe2ff 8px,#eaecff 56px,#ffffff 94px,#fccece 158px,#f9a0a0 234px,#f89696 268px,#f89797 310px,#f9a2a2 338px,#fab9b9 366px,#fde0e0 400px,#fffefe 420px,#fbfcff 424px,#c1c8ff 474px,#8b98ff 530px,#5063ff 600px,#4458ff 630px,#4155ff 672px,#475bff 728px)"></i><i style="left:1004px;width:4.6px;background:linear-gradient(#dfe2ff 8px,#eaecff 56px,#fffefe 96px,#fccece 160px,#f9a0a0 236px,#f89696 270px,#f89797 314px,#f9a2a2 342px,#fababa 372px,#fddddd 402px,#feffff 426px,#c0c6ff 480px,#8c99ff 534px,#5265ff 598px,#465aff 626px,#4155ff 670px,#475bff 728px)"></i><i style="left:1008px;width:4.6px;background:linear-gradient(#dee2ff 8px,#e9ebff 54px,#ffffff 96px,#fccfcf 162px,#f99f9f 238px,#f89696 272px,#f89696 316px,#f9a1a1 346px,#fabbbb 378px,#fddbdb 406px,#ffffff 430px,#bcc3ff 488px,#7281ff 566px,#5366ff 598px,#475bff 626px,#4156ff 672px,#485cff 728px)"></i><i style="left:1012px;width:4.6px;background:linear-gradient(#dee2ff 8px,#e8eaff 52px,#ffffff 96px,#fccccc 168px,#f9a0a0 238px,#f89696 272px,#f89494 316px,#f99f9f 346px,#fab8b8 380px,#fcd2d2 404px,#fffefe 434px,#f9f9ff 440px,#bcc4ff 492px,#7b8aff 560px,#5568ff 596px,#4a5eff 620px,#4156ff 670px,#485cff 728px)"></i><i style="left:1016px;width:4.6px;background:linear-gradient(#dee2ff 8px,#e8eaff 52px,#fffefe 98px,#fccbcb 172px,#f99f9f 240px,#f89595 274px,#f89393 318px,#f99e9e 350px,#fab6b6 384px,#fccfcf 406px,#fefeff 440px,#c1c8ff 492px,#8491ff 556px,#586aff 594px,#4d60ff 616px,#4257ff 670px,#485cff 728px)"></i><i style="left:1020px;width:4.6px;background:linear-gradient(#dee1ff 8px,#e7e9ff 50px,#ffffff 98px,#fbc4c4 184px,#f99f9f 240px,#f89494 274px,#f89191 318px,#f89b9b 350px,#fab1b1 384px,#fbc9c9 406px,#ffffff 444px,#c6ccff 492px,#8a97ff 554px,#5a6cff 594px,#4f62ff 614px,#4357ff 672px,#485cff 728px)"></i><i style="left:1024px;width:4.6px;background:linear-gradient(#dde1ff 8px,#e7eaff 52px,#ffffff 98px,#f99f9f 240px,#f89393 274px,#f89090 318px,#f89999 352px,#faafaf 386px,#fbc6c6 408px,#fffefe 448px,#c6cdff 496px,#909cff 552px,#5e70ff 592px,#5265ff 610px,#4458ff 672px,#485cff 728px)"></i><i style="left:1028px;width:4.6px;background:linear-gradient(#dde1ff 8px,#e8eaff 52px,#ffffff 98px,#f99e9e 242px,#f89292 276px,#f78e8e 318px,#f89797 354px,#f9acac 388px,#fbc3c3 410px,#fffefe 452px,#c9cfff 498px,#97a2ff 550px,#6172ff 592px,#5568ff 608px,#455aff 674px,#485cff 728px)"></i><i style="left:1032px;width:4.6px;background:linear-gradient(#dde0ff 8px,#e8ebff 54px,#ffffff 98px,#f89c9c 244px,#f88f8f 280px,#f78c8c 320px,#f89595 356px,#f9a9a9 390px,#fbc3c3 414px,#fffefe 456px,#ccd1ff 500px,#9da8ff 548px,#6475ff 592px,#586aff 608px,#475bff 676px,#485cff 728px)"></i><i style="left:1036px;width:4.6px;background:linear-gradient(#dce0ff 8px,#e9ecff 56px,#ffffff 98px,#f89a9a 246px,#f78d8d 282px,#f78a8a 320px,#f89393 358px,#f9a5a5 390px,#fbc0c0 416px,#fef5f5 454px,#fffefe 460px,#d0d5ff 500px,#a4aeff 546px,#6777ff 592px,#5b6dff 608px,#485cff 676px,#485bff 728px)"></i><i style="left:1040px;width:4.6px;background:linear-gradient(#dcdfff 8px,#ebedff 60px,#ffffff 98px,#f89898 248px,#f78b8b 284px,#f78989 322px,#f89292 362px,#f9a5a5 394px,#fbc2c2 422px,#fef5f5 458px,#fffefe 464px,#d3d7ff 502px,#abb4ff 544px,#6a7aff 592px,#5d6eff 610px,#495dff 678px,#475bff 728px)"></i><i style="left:1044px;width:4.6px;background:linear-gradient(#dbdfff 8px,#eceeff 62px,#ffffff 98px,#f89696 250px,#f78888 286px,#f78787 324px,#f89090 364px,#f9a1a1 394px,#fbbdbd 422px,#fee9e9 454px,#ffffff 468px,#d7dbff 502px,#b0b8ff 544px,#6e7eff 592px,#6071ff 610px,#4b5eff 680px,#475bff 728px)"></i><i style="left:1048px;width:4.6px;background:linear-gradient(#dbdfff 8px,#eef0ff 64px,#fffefe 98px,#f9aaaa 218px,#f88f8f 262px,#f78585 296px,#f78787 342px,#f89494 378px,#f9a7a7 406px,#fbc9c9 436px,#ffffff 472px,#dbdfff 502px,#b7beff 542px,#909cff 570px,#6f7fff 594px,#6273ff 612px,#4c5fff 682px,#475bff 728px)"></i><i style="left:1052px;width:4.6px;background:linear-gradient(#dadeff 8px,#eff1ff 66px,#fffefe 98px,#f9abab 216px,#f78d8d 262px,#f78383 294px,#f78585 342px,#f89292 380px,#f9a7a7 410px,#fbc8c8 440px,#fefeff 476px,#dee1ff 504px,#bcc3ff 542px,#97a3ff 568px,#7584ff 592px,#6475ff 612px,#4d60ff 682px,#465aff 728px)"></i><i style="left:1056px;width:4.6px;background:linear-gradient(#dadeff 8px,#f0f2ff 68px,#ffffff 96px,#faafaf 210px,#f78c8c 262px,#f78181 292px,#f78383 342px,#f88f8f 380px,#f9a3a3 410px,#fbc3c3 440px,#fffdfd 478px,#fbfbff 482px,#e0e4ff 506px,#c1c7ff 542px,#9faaff 566px,#7988ff 592px,#6777ff 612px,#4e61ff 684px,#465aff 728px)"></i><i style="left:1060px;width:4.6px;background:linear-gradient(#d9deff 8px,#f2f4ff 72px,#ffffff 96px,#faaeae 210px,#f78a8a 262px,#f67f7f 292px,#f78282 344px,#f78d8d 382px,#f9a2a2 414px,#fbc0c0 442px,#fffefe 482px,#e3e6ff 508px,#c6ccff 542px,#a8b1ff 564px,#7d8bff 592px,#6a7aff 612px,#5568ff 662px,#465aff 728px)"></i><i style="left:1064px;width:4.6px;background:linear-gradient(#d9ddff 8px,#f4f5ff 74px,#fffefe 96px,#faadad 210px,#f78888 264px,#f67e7e 292px,#f67f7f 344px,#f78b8b 384px,#f9a0a0 416px,#fabbbb 442px,#feefef 476px,#ffffff 486px,#e7eaff 508px,#cbd0ff 542px,#adb6ff 564px,#818eff 592px,#6c7cff 612px,#5c6eff 646px,#4b5eff 706px,#465aff 728px)"></i><i style="left:1068px;width:4.6px;background:linear-gradient(#d9ddff 8px,#f5f6ff 76px,#ffffff 94px,#fab2b2 202px,#f78888 262px,#f67d7d 290px,#f67d7d 338px,#f78787 380px,#f89a9a 414px,#fab6b6 442px,#fddfdf 470px,#fefeff 490px,#eaedff 510px,#d0d5ff 542px,#b6beff 562px,#8290ff 594px,#6f7eff 612px,#5f70ff 642px,#4a5dff 712px,#455aff 728px)"></i><i style="left:1072px;width:4.6px;background:linear-gradient(#d8dcff 8px,#f6f7ff 78px,#ffffff 94px,#f9acac 208px,#f78484 266px,#f67b7b 294px,#f67c7c 346px,#f78888 388px,#f89d9d 422px,#fab6b6 446px,#fde3e3 476px,#fffdfd 492px,#fcfcff 496px,#d3d8ff 544px,#b8c0ff 564px,#8391ff 596px,#707fff 614px,#6071ff 644px,#455aff 728px)"></i><i style="left:1076px;width:4.6px;background:linear-gradient(#d8dcff 8px,#f9faff 82px,#fffefe 94px,#f9abab 208px,#f78484 264px,#f67a7a 292px,#f67979 340px,#f78383 382px,#f89696 418px,#faaeae 444px,#fcd3d3 470px,#fffdfd 496px,#fcfdff 500px,#d8dcff 544px,#bec5ff 564px,#818fff 600px,#6f7fff 618px,#5f70ff 650px,#4559ff 728px)"></i><i style="left:1080px;width:4.6px;background:linear-gradient(#d7dcff 8px,#fbfbff 84px,#ffffff 92px,#f9aaaa 208px,#f78484 264px,#f67878 294px,#f67777 342px,#f78181 386px,#f89595 422px,#faaeae 448px,#fcd3d3 474px,#fffafa 498px,#fffefe 502px,#e1e4ff 540px,#c6ccff 562px,#8290ff 602px,#6e7eff 622px,#5e6fff 656px,#4559ff 728px)"></i><i style="left:1084px;width:4.6px;background:linear-gradient(#d7dbff 8px,#fdfdff 88px,#fffdfd 94px,#f9a1a1 218px,#f78181 268px,#f67676 300px,#f67676 350px,#f78282 394px,#f89696 428px,#fab0b0 454px,#fcd7d7 480px,#fef5f5 500px,#feffff 510px,#dfe3ff 546px,#c5ccff 566px,#8693ff 602px,#7180ff 622px,#6071ff 652px,#4559ff 728px)"></i><i style="left:1088px;width:4.6px;background:linear-gradient(#d6dbff 8px,#ffffff 90px,#fab0b0 198px,#f78787 256px,#f67777 292px,#f67373 336px,#f67b7b 382px,#f78c8c 420px,#f9a4a4 448px,#fbc3c3 472px,#feefef 500px,#ffffff 516px,#e0e3ff 550px,#c1c8ff 572px,#8794ff 604px,#7281ff 624px,#6172ff 654px,#455aff 728px)"></i><i style="left:1092px;width:4.6px;background:linear-gradient(#d6daff 8px,#ffffff 90px,#f78a8a 248px,#f67676 290px,#f67171 332px,#f67878 380px,#f78989 420px,#f99f9f 448px,#fbbdbd 472px,#fde8e8 500px,#ffffff 522px,#dfe3ff 554px,#c0c7ff 576px,#8c98ff 604px,#7584ff 624px,#6475ff 650px,#465aff 728px)"></i><i style="left:1096px;width:4.6px;background:linear-gradient(#d5daff 8px,#fffefe 90px,#f78a8a 246px,#f67575 290px,#f57070 332px,#f67575 380px,#f78686 422px,#f89c9c 450px,#fababa 474px,#fde4e4 502px,#ffffff 528px,#dadeff 562px,#bfc6ff 580px,#919dff 604px,#7886ff 624px,#6777ff 648px,#465aff 728px)"></i><i style="left:1100px;width:4.6px;background:linear-gradient(#d5d9ff 8px,#ffffff 88px,#f78989 246px,#f67474 290px,#f56e6e 332px,#f67373 380px,#f78282 422px,#f89797 450px,#fab1b1 472px,#fde1e1 504px,#ffffff 532px,#dadeff 566px,#bdc4ff 584px,#909cff 608px,#7786ff 628px,#6676ff 654px,#465aff 728px)"></i><i style="left:1104px;width:4.6px;background:linear-gradient(#d4d9ff 8px,#fffefe 88px,#f78a8a 244px,#f67373 290px,#f56d6d 332px,#f67171 382px,#f78080 424px,#f89393 452px,#faadad 474px,#fddddd 506px,#fffefe 536px,#dfe2ff 566px,#c3caff 584px,#8c99ff 614px,#7685ff 632px,#6576ff 660px,#465aff 728px)"></i><i style="left:1108px;width:4.6px;background:linear-gradient(#d3d8ff 8px,#ffffff 86px,#f9aaaa 198px,#f78484 252px,#f67171 296px,#f56b6b 342px,#f67171 392px,#f78080 432px,#f89494 458px,#fab0b0 480px,#fddada 508px,#fffefe 540px,#eff1ff 556px,#d3d8ff 578px,#8895ff 620px,#7483ff 638px,#5d6eff 682px,#475bff 728px)"></i><i style="left:1112px;width:4.6px;background:linear-gradient(#d3d7ff 8px,#ffffff 86px,#f78989 242px,#f67272 288px,#f56a6a 332px,#f56d6d 384px,#f67a7a 428px,#f78d8d 456px,#f9a7a7 478px,#fcd6d6 510px,#fffefe 544px,#f7f8ff 552px,#d9ddff 578px,#b2baff 600px,#8996ff 622px,#7886ff 638px,#5f71ff 680px,#475bff 728px)"></i><i style="left:1116px;width:4.6px;background:linear-gradient(#d2d7ff 8px,#ffffff 86px,#f78989 240px,#f67373 284px,#f56969 328px,#f56a6a 382px,#f67676 428px,#f78787 456px,#f89d9d 476px,#fcd1d1 510px,#fffefe 548px,#fafaff 554px,#dbdfff 580px,#b9c0ff 600px,#8e9aff 622px,#7b89ff 638px,#6273ff 678px,#485cff 728px)"></i><i style="left:1120px;width:4.6px;background:linear-gradient(#d1d6ff 8px,#fffefe 86px,#f78989 238px,#f67373 282px,#f56868 326px,#f56868 380px,#f67373 428px,#f78282 456px,#f89797 476px,#fbcaca 510px,#fffefe 552px,#fcfcff 556px,#dee1ff 582px,#bfc6ff 600px,#939eff 622px,#7f8dff 638px,#6475ff 678px,#495dff 728px)"></i><i style="left:1124px;width:4.6px;background:linear-gradient(#d1d6ff 8px,#ffffff 84px,#f78888 238px,#f67272 282px,#f56666 328px,#f56666 384px,#f67171 432px,#f78080 460px,#f89696 480px,#fbc4c4 510px,#ffffff 558px,#e1e4ff 584px,#c5cbff 600px,#95a0ff 624px,#808eff 642px,#5b6cff 698px,#4a5dff 728px)"></i><i style="left:1128px;width:4.6px;background:linear-gradient(#d0d5ff 8px,#ffffff 84px,#f78989 236px,#f67373 278px,#f56666 326px,#f56464 384px,#f56e6e 434px,#f67c7c 462px,#f88f8f 480px,#fbc2c2 514px,#fffefe 562px,#fafaff 568px,#dde1ff 590px,#b1baff 612px,#94a0ff 628px,#7f8dff 648px,#4f62ff 720px,#4b5eff 728px)"></i><i style="left:1132px;width:4.6px;background:linear-gradient(#cfd4ff 8px,#ffffff 84px,#f78989 234px,#f67373 276px,#f56565 324px,#f56262 382px,#f56a6a 434px,#f67777 462px,#f78888 480px,#fbc0c0 518px,#ffffff 568px,#e2e5ff 590px,#9da8ff 626px,#8592ff 646px,#596bff 706px,#4c5fff 728px)"></i><i style="left:1136px;width:4.6px;background:linear-gradient(#cfd4ff 8px,#fffefe 84px,#f78c8c 230px,#f67474 272px,#f56464 320px,#f46060 380px,#f56666 434px,#f67373 464px,#f78585 482px,#fbbfbf 522px,#fffefe 572px,#f6f7ff 580px,#d9ddff 598px,#a3adff 626px,#8a97ff 646px,#6172ff 698px,#4d61ff 728px)"></i><i style="left:1140px;width:4.6px;background:linear-gradient(#ced4ff 8px,#fffefe 84px,#f78c8c 228px,#f67373 272px,#f56363 322px,#f45e5e 384px,#f56464 438px,#f57070 466px,#f67f7f 482px,#fbcaca 536px,#fffdfd 576px,#fbfcff 580px,#dfe2ff 598px,#a6b0ff 628px,#8b97ff 650px,#5c6dff 708px,#4f62ff 728px)"></i><i style="left:1144px;width:4.6px;background:linear-gradient(#ced3ff 8px,#fffefe 84px,#f78d8d 226px,#f67272 272px,#f56262 322px,#f45c5c 384px,#f46161 440px,#f56d6d 468px,#f67e7e 486px,#fddddd 556px,#fffdfd 580px,#fefeff 582px,#dce0ff 602px,#acb5ff 628px,#909cff 650px,#6374ff 702px,#5063ff 728px)"></i><i style="left:1148px;width:4.6px;background:linear-gradient(#cdd3ff 8px,#fffefe 84px,#f89090 222px,#f67373 270px,#f56262 320px,#f45a5a 384px,#f45f5f 444px,#f56969 470px,#f67b7b 488px,#fffefe 584px,#fafbff 588px,#abb5ff 632px,#8e9aff 656px,#5d6fff 712px,#5265ff 728px)"></i><i style="left:1152px;width:4.6px;background:linear-gradient(#cdd2ff 8px,#fffefe 84px,#f89191 220px,#f67272 270px,#f46161 320px,#f45959 386px,#f45c5c 446px,#f56767 472px,#f67a7a 492px,#fff8f8 584px,#ffffff 588px,#b1baff 632px,#929eff 656px,#6172ff 710px,#5466ff 728px)"></i><i style="left:1156px;width:4.6px;background:linear-gradient(#ccd2ff 8px,#ffffff 84px,#f89292 218px,#f67272 270px,#f46060 322px,#f45757 390px,#f45a5a 450px,#f56464 474px,#f67a7a 496px,#fef0f0 582px,#fffdfd 590px,#fafaff 594px,#b3bcff 634px,#929eff 660px,#5d6fff 718px,#5668ff 728px)"></i><i style="left:1160px;width:4.6px;background:linear-gradient(#cbd1ff 8px,#ffffff 84px,#fbc5c5 154px,#f88f8f 222px,#f57070 274px,#f45e5e 326px,#f45555 396px,#f45858 454px,#f56262 478px,#f67b7b 502px,#fddcdc 572px,#fefeff 594px,#b3bbff 638px,#909cff 666px,#596bff 726px,#586aff 728px)"></i><i style="left:1164px;width:4.6px;background:linear-gradient(#cad0ff 8px,#fffefe 86px,#fbc6c6 154px,#f89090 220px,#f57070 272px,#f45e5e 324px,#f45353 396px,#f45555 456px,#f46060 480px,#f67777 504px,#fab9b9 552px,#fef0f0 588px,#ffffff 596px,#b2baff 642px,#909cff 670px,#5a6cff 728px)"></i><i style="left:1168px;width:4.6px;background:linear-gradient(#c9ceff 8px,#ffffff 86px,#fbcaca 150px,#f89494 214px,#f67272 268px,#f45e5e 320px,#f35252 392px,#f35252 458px,#f45d5d 482px,#f67676 508px,#fab0b0 550px,#feefef 590px,#fffefe 598px,#fafaff 602px,#b1b9ff 646px,#8f9bff 674px,#5c6dff 728px)"></i><i style="left:1172px;width:4.6px;background:linear-gradient(#c6cdff 8px,#fffefe 88px,#fccece 146px,#f89a9a 206px,#f67676 260px,#f46060 312px,#f35252 380px,#f34f4f 456px,#f45757 480px,#f56c6c 504px,#f89a9a 540px,#feeaea 590px,#fefeff 602px,#b0b8ff 650px,#919dff 676px,#5e6fff 728px)"></i><i style="left:1176px;width:4.6px;background:linear-gradient(#c4cbff 8px,#ffffff 88px,#fcd5d5 140px,#f99f9f 200px,#f67878 256px,#f46161 308px,#f35252 374px,#f34d4d 458px,#f45454 482px,#f56868 506px,#f89494 540px,#fde2e2 588px,#fffefe 604px,#dfe3ff 624px,#abb4ff 656px,#7988ff 702px,#6071ff 728px)"></i><i style="left:1180px;width:4.6px;background:linear-gradient(#c2c9ff 8px,#ffffff 90px,#fcd6d6 140px,#f9a1a1 198px,#f67979 254px,#f46161 306px,#f35151 372px,#f34a4a 460px,#f35151 484px,#f56565 508px,#f78d8d 540px,#fccfcf 580px,#ffffff 608px,#afb8ff 656px,#8d9aff 686px,#6273ff 728px)"></i><i style="left:1184px;width:4.6px;background:linear-gradient(#c0c6ff 8px,#ffffff 92px,#fcd9d9 138px,#f9a3a3 196px,#f67c7c 250px,#f56262 302px,#f35151 366px,#f34747 462px,#f34d4d 484px,#f45f5f 508px,#f78484 538px,#fab4b4 568px,#fffdfd 610px,#fefeff 612px,#b0b9ff 658px,#7483ff 712px,#6475ff 728px)"></i><i style="left:1188px;width:4.6px;background:linear-gradient(#bdc4ff 8px,#ffffff 94px,#fddfdf 134px,#f9a2a2 198px,#f67b7b 252px,#f46060 306px,#f34e4e 374px,#f34545 466px,#f34b4b 488px,#f45e5e 512px,#f78383 542px,#fab2b2 570px,#fffdfd 614px,#fefeff 616px,#b4bcff 658px,#7f8dff 704px,#6777ff 728px)"></i><i style="left:1192px;width:4.6px;background:linear-gradient(#bac2ff 8px,#fafbff 90px,#fffefe 98px,#fddbdb 140px,#f9a3a3 198px,#f67c7c 250px,#f46161 304px,#f34e4e 370px,#f24242 468px,#f34848 490px,#f45b5b 514px,#f67d7d 542px,#f9a8a8 568px,#fde7e7 604px,#fffefe 618px,#f9faff 622px,#b7bfff 658px,#8895ff 698px,#6979ff 728px)"></i><i style="left:1196px;width:4.6px;background:linear-gradient(#b7bfff 8px,#f4f5ff 84px,#ffffff 100px,#fde1e1 136px,#f9a4a4 198px,#f67c7c 250px,#f46060 306px,#f34c4c 376px,#f23f3f 470px,#f34545 492px,#f45858 516px,#f67a7a 544px,#f9a2a2 568px,#fddddd 602px,#ffffff 622px,#bbc3ff 658px,#8d9aff 696px,#6b7bff 728px)"></i><i style="left:1200px;width:4.6px;background:linear-gradient(#b4bcff 8px,#f0f1ff 80px,#ffffff 104px,#fddddd 142px,#f9a3a3 200px,#f67d7d 250px,#f45f5f 306px,#f34a4a 378px,#f23c3c 468px,#f24141 492px,#f45353 516px,#f67373 544px,#f89797 566px,#fddbdb 604px,#fffdfd 624px,#fdfdff 626px,#bfc6ff 658px,#909cff 696px,#6d7dff 728px)"></i><i style="left:1204px;width:4.6px;background:linear-gradient(#b1b9ff 8px,#eceeff 78px,#fffefe 108px,#fddbdb 146px,#f9a2a2 202px,#f67c7c 252px,#f45e5e 308px,#f34444 394px,#f23a3a 470px,#f23e3e 494px,#f35252 520px,#f57070 546px,#f89898 570px,#fddbdb 608px,#ffffff 628px,#c1c8ff 660px,#909cff 698px,#707fff 728px)"></i><i style="left:1208px;width:4.6px;background:linear-gradient(#aeb7ff 8px,#e8ebff 76px,#ffffff 110px,#fde0e0 144px,#f9a3a3 202px,#f67d7d 250px,#f45f5f 306px,#f24040 402px,#f23737 470px,#f23c3c 496px,#f34f4f 522px,#f56d6d 548px,#f89999 574px,#fddcdc 612px,#fefeff 632px,#c6cdff 660px,#9aa5ff 692px,#7281ff 728px)"></i><i style="left:1212px;width:4.6px;background:linear-gradient(#aab3ff 8px,#e5e8ff 74px,#ffffff 114px,#fddcdc 150px,#f9a3a3 204px,#f67d7d 252px,#f45e5e 306px,#f23b3b 414px,#f23535 478px,#f23c3c 502px,#f35050 528px,#f56d6d 552px,#f9a1a1 582px,#fcd9d9 614px,#fffefe 634px,#f9f9ff 638px,#c9cfff 662px,#9ea8ff 692px,#7584ff 728px)"></i><i style="left:1216px;width:4.6px;background:linear-gradient(#a7b0ff 8px,#e2e6ff 74px,#feffff 116px,#fde7e7 142px,#f9a4a4 204px,#f67f7f 250px,#f45e5e 306px,#f23636 420px,#f13333 484px,#f23d3d 510px,#f45353 536px,#f57070 558px,#fcd3d3 614px,#ffffff 638px,#cbd0ff 664px,#a1abff 692px,#7786ff 728px)"></i><i style="left:1220px;width:4.6px;background:linear-gradient(#a3adff 8px,#e0e4ff 74px,#ffffff 120px,#fddada 156px,#f9a1a1 208px,#f67d7d 254px,#f45d5d 308px,#f23939 400px,#f13232 426px,#f13232 490px,#f23d3d 516px,#f35252 540px,#f67474 564px,#fccdcd 614px,#fff9f9 638px,#fffdfd 640px,#fdfdff 642px,#c9cfff 668px,#9faaff 696px,#7a88ff 728px)"></i><i style="left:1224px;width:4.6px;background:linear-gradient(#9fa9ff 8px,#dee1ff 74px,#fffefe 124px,#fcd2d2 164px,#f99f9f 212px,#f67979 260px,#f45c5c 310px,#f23939 394px,#f12f2f 420px,#f13131 494px,#f23c3c 520px,#f35252 544px,#f67474 568px,#feefef 636px,#fefeff 644px,#c7cdff 672px,#a0aaff 698px,#7d8bff 728px)"></i><i style="left:1228px;width:4.6px;background:linear-gradient(#9ba6ff 8px,#dbdfff 74px,#ffffff 126px,#fccbcb 172px,#f89c9c 216px,#f67171 272px,#f45858 318px,#f23939 390px,#f12c2c 418px,#f12f2f 498px,#f23b3b 524px,#f34f4f 546px,#f67474 572px,#fee9e9 636px,#ffffff 646px,#c2c8ff 678px,#9ca7ff 704px,#808dff 728px)"></i><i style="left:1232px;width:4.6px;background:linear-gradient(#97a2ff 8px,#d9ddff 74px,#ffffff 128px,#fddede 158px,#f9a5a5 208px,#f78080 252px,#f45e5e 304px,#f23737 390px,#f12929 418px,#f12e2e 502px,#f23a3a 528px,#f34f4f 550px,#f67575 576px,#fde4e4 636px,#fffefe 648px,#e8ebff 660px,#b3bbff 690px,#8592ff 726px,#8390ff 728px)"></i><i style="left:1236px;width:4.6px;background:linear-gradient(#939fff 8px,#d6dbff 74px,#fefeff 130px,#feecec 148px,#f9a6a6 208px,#f78282 250px,#f45f5f 302px,#f23636 388px,#f12727 418px,#f12c2c 504px,#f23737 530px,#f34c4c 552px,#f67272 578px,#fddada 634px,#fffdfd 650px,#fdfdff 652px,#b7beff 690px,#8a97ff 724px,#8693ff 728px)"></i><i style="left:1240px;width:4.6px;background:linear-gradient(#8f9bff 8px,#d5daff 76px,#fffefe 134px,#f9a3a3 212px,#f67f7f 256px,#f45e5e 302px,#f23636 386px,#f12626 416px,#f12626 448px,#f12a2a 508px,#f23636 534px,#f34f4f 558px,#f67575 584px,#fccccc 630px,#ffffff 654px,#b8bfff 692px,#8995ff 728px)"></i><i style="left:1244px;width:4.6px;background:linear-gradient(#8c98ff 8px,#d3d7ff 76px,#fffefe 136px,#f9a5a5 212px,#f78282 252px,#f45f5f 300px,#f23535 384px,#f02424 416px,#f02424 446px,#f12828 510px,#f13434 536px,#f34c4c 560px,#f56f6f 584px,#fab6b6 622px,#fffdfd 656px,#f9faff 660px,#bcc3ff 692px,#8c98ff 728px)"></i><i style="left:1248px;width:4.6px;background:linear-gradient(#8895ff 8px,#b2bbff 48px,#d3d8ff 80px,#fffefe 138px,#f9a4a4 214px,#f78080 256px,#f45f5f 300px,#f23636 380px,#f02424 414px,#f02121 442px,#f02323 482px,#f12626 514px,#f13434 540px,#f34c4c 564px,#f67373 590px,#fab4b4 624px,#ffffff 660px,#bec5ff 694px,#8e9bff 728px)"></i><i style="left:1252px;width:4.6px;background:linear-gradient(#8491ff 8px,#acb5ff 46px,#d0d5ff 80px,#fefeff 138px,#fef5f5 148px,#f9a5a5 214px,#f78080 256px,#f45f5f 300px,#f23737 376px,#f02222 414px,#f02020 442px,#f02222 478px,#f02323 512px,#f12e2e 538px,#f34747 564px,#f56969 588px,#f9a2a2 618px,#fffdfd 662px,#fdfeff 664px,#c0c7ff 696px,#919dff 728px)"></i><i style="left:1256px;width:4.6px;background:linear-gradient(#808eff 8px,#a6b0ff 44px,#cfd4ff 82px,#fffefe 142px,#fbc8c8 186px,#f89c9c 224px,#f56565 290px,#f34949 344px,#f02121 412px,#f01d1d 440px,#f01f1f 478px,#f02020 514px,#f12c2c 540px,#f34444 566px,#f56666 590px,#f89b9b 618px,#fde2e2 652px,#fffefe 666px,#f5f6ff 672px,#c1c8ff 698px,#949fff 728px)"></i><i style="left:1260px;width:4.6px;background:linear-gradient(#7d8bff 8px,#a0aaff 42px,#cfd5ff 86px,#fffefe 144px,#fbcaca 186px,#f89d9d 224px,#f56868 286px,#f34d4d 334px,#f23535 376px,#f02020 412px,#f01b1b 440px,#f01d1d 480px,#f01e1e 516px,#f12a2a 542px,#f24141 568px,#f56464 592px,#f89595 618px,#fcd4d4 648px,#ffffff 670px,#c0c6ff 702px,#96a2ff 728px)"></i><i style="left:1264px;width:4.6px;background:linear-gradient(#7988ff 8px,#99a4ff 40px,#d2d7ff 92px,#fffefe 146px,#fccccc 186px,#f89c9c 226px,#f56969 284px,#f34e4e 330px,#f23838 370px,#f02020 410px,#f01919 440px,#f01b1b 514px,#f12727 542px,#f23c3c 568px,#f45e5e 592px,#f78e8e 618px,#fccece 648px,#fffcfc 672px,#fefeff 674px,#c1c7ff 704px,#99a4ff 728px)"></i><i style="left:1268px;width:4.6px;background:linear-gradient(#7584ff 8px,#95a1ff 40px,#d5daff 98px,#fffefe 148px,#fbc9c9 190px,#f89b9b 228px,#f56b6b 282px,#f34f4f 328px,#f23939 368px,#f01f1f 408px,#f01818 438px,#f01818 514px,#f02323 542px,#f23838 568px,#f45555 590px,#f78383 616px,#fccbcb 650px,#ffffff 676px,#bac1ff 710px,#9ba6ff 728px)"></i><i style="left:1272px;width:4.6px;background:linear-gradient(#7281ff 8px,#8f9bff 38px,#d7dbff 102px,#ffffff 150px,#f9a0a0 224px,#f67373 272px,#f45757 314px,#f23a3a 366px,#f01f1f 406px,#ef1616 438px,#ef1414 510px,#f01e1e 538px,#f13434 568px,#f34f4f 590px,#f67d7d 616px,#fcd0d0 656px,#fffefe 678px,#eff1ff 686px,#afb8ff 718px,#9ea8ff 728px)"></i><i style="left:1276px;width:4.6px;background:linear-gradient(#6e7eff 8px,#8a97ff 38px,#d6dbff 104px,#ffffff 152px,#f9a1a1 224px,#f67575 270px,#f45757 314px,#f23939 366px,#f01e1e 406px,#ef1313 440px,#ef1010 500px,#f01717 530px,#f12c2c 564px,#f34444 586px,#f56f6f 612px,#fff8f8 678px,#fffdfd 680px,#fdfdff 682px,#afb7ff 720px,#a0abff 728px)"></i><i style="left:1280px;width:4.6px;background:linear-gradient(#6a7aff 8px,#8491ff 36px,#d8dcff 108px,#ffffff 154px,#f9a1a1 226px,#f67474 272px,#f45656 316px,#f23838 366px,#f01d1d 406px,#ef1111 444px,#ef0c0c 492px,#ef1313 528px,#f12828 564px,#f24040 586px,#f56969 612px,#f99e9e 638px,#fffcfc 682px,#fefeff 684px,#aeb7ff 722px,#a3adff 728px)"></i><i style="left:1284px;width:4.6px;background:linear-gradient(#6777ff 8px,#808eff 36px,#bfc6ff 88px,#dde1ff 116px,#ffffff 156px,#f9a0a0 228px,#f67474 274px,#f35252 324px,#f13333 372px,#f01a1a 412px,#ef0b0b 460px,#ef0909 492px,#ef1111 530px,#f02424 564px,#f23b3b 586px,#f56363 612px,#f89393 636px,#fefeff 686px,#adb6ff 724px,#a6b0ff 728px)"></i><i style="left:1288px;width:4.6px;background:linear-gradient(#6474ff 8px,#7a88ff 34px,#aeb7ff 78px,#d3d8ff 108px,#ffffff 158px,#fbc9c9 198px,#f99e9e 232px,#f57070 280px,#f01b1b 408px,#ef0909 458px,#ee0505 488px,#ef0e0e 530px,#f02121 564px,#f23939 588px,#f46161 614px,#f78d8d 636px,#ffffff 688px,#b0b9ff 724px,#a9b2ff 728px)"></i><i style="left:1292px;width:4.6px;background:linear-gradient(#6072ff 8px,#7685ff 34px,#a5afff 74px,#d1d6ff 108px,#feffff 160px,#fddada 188px,#f9a4a4 228px,#f67575 276px,#f01d1d 404px,#ee0707 460px,#ee0202 486px,#ef0d0d 534px,#f01f1f 566px,#f23737 590px,#f46060 616px,#f89090 640px,#fffefe 690px,#eff1ff 698px,#b4bcff 724px,#acb5ff 728px)"></i><i style="left:1296px;width:4.6px;background:linear-gradient(#5e6fff 8px,#7180ff 32px,#9ea9ff 72px,#ced4ff 108px,#fefeff 162px,#fff9f9 168px,#f9a7a7 228px,#f67575 278px,#f02020 400px,#ee0404 462px,#ee0000 482px,#ef0909 532px,#f01a1a 564px,#f13131 588px,#f45454 612px,#f78383 636px,#fffdfd 692px,#fdfdff 694px,#b3bcff 726px,#afb8ff 728px)"></i><i style="left:1300px;width:4.6px;background:linear-gradient(#5b6dff 8px,#6e7dff 32px,#9aa5ff 72px,#cbd1ff 108px,#ffffff 166px,#f9a8a8 230px,#f67575 282px,#f34646 346px,#f02222 396px,#ee0101 466px,#ee0202 508px,#ef0d0d 546px,#f01f1f 574px,#f23737 596px,#f45e5e 620px,#f89999 648px,#fffcfc 694px,#fefeff 696px,#b3bbff 728px)"></i><i style="left:1304px;width:4.6px;background:linear-gradient(#596bff 8px,#697aff 30px,#94a0ff 70px,#cad0ff 110px,#fefeff 168px,#fddada 196px,#faadad 228px,#f67676 284px,#f34b4b 342px,#f13333 372px,#ef1212 428px,#ee0000 468px,#ee0202 520px,#ef0e0e 554px,#f02121 580px,#f23c3c 602px,#f56666 626px,#fcd5d5 678px,#ffffff 698px,#b6beff 728px)"></i><i style="left:1308px;width:4.6px;background:linear-gradient(#5769ff 8px,#6979ff 32px,#939fff 72px,#c9cfff 112px,#ffffff 172px,#fab2b2 228px,#f67a7a 284px,#f34f4f 340px,#f23939 366px,#ef1212 430px,#ee0000 466px,#ee0202 526px,#ef0e0e 558px,#f02222 584px,#f23f3f 606px,#f56a6a 630px,#fbc9c9 674px,#fffafa 698px,#fffefe 700px,#bac1ff 728px)"></i><i style="left:1312px;width:4.6px;background:linear-gradient(#5668ff 8px,#6878ff 32px,#8e9aff 70px,#c8ceff 114px,#fbfcff 172px,#fffefe 176px,#fab6b6 228px,#f67d7d 286px,#f45353 340px,#f23b3b 366px,#ef1010 434px,#ee0000 466px,#ee0202 530px,#ef1010 564px,#f02424 588px,#f23e3e 608px,#f56b6b 632px,#fbc2c2 672px,#fef5f5 698px,#ffffff 702px,#bdc4ff 728px)"></i><i style="left:1316px;width:4.6px;background:linear-gradient(#5769ff 8px,#6777ff 32px,#8b98ff 70px,#c6cdff 116px,#f9faff 174px,#fffefe 180px,#fbbcbc 228px,#f78080 288px,#f45454 342px,#f23c3c 370px,#ef0c0c 444px,#ee0000 470px,#ee0202 534px,#ef1212 570px,#f02525 592px,#f24242 612px,#f67575 638px,#fbbebe 672px,#feecec 696px,#fffbfb 702px,#fefeff 704px,#c1c7ff 728px)"></i><i style="left:1320px;width:4.6px;background:linear-gradient(#586aff 8px,#6878ff 34px,#8996ff 70px,#c4cbff 118px,#f7f8ff 176px,#fffefe 184px,#fbc3c3 228px,#f78484 290px,#f45757 344px,#f23b3b 376px,#ef0a0a 450px,#ee0000 474px,#ee0202 536px,#ef1515 576px,#f12727 596px,#f34646 616px,#f78080 644px,#fabbbb 672px,#fee9e9 696px,#fffdfd 704px,#fcfcff 706px,#c4caff 728px)"></i><i style="left:1324px;width:4.6px;background:linear-gradient(#5a6cff 8px,#697aff 36px,#8694ff 70px,#c2c8ff 120px,#f6f7ff 180px,#ffffff 188px,#fbc7c7 230px,#f78787 294px,#f45a5a 346px,#f23838 386px,#ef0808 456px,#ee0000 482px,#ee0303 538px,#f01818 582px,#f12a2a 600px,#f34b4b 620px,#f9acac 666px,#fde6e6 696px,#ffffff 706px,#c8ceff 728px)"></i><i style="left:1328px;width:4.6px;background:linear-gradient(#5c6eff 8px,#6c7cff 40px,#8693ff 72px,#c1c8ff 124px,#f3f4ff 182px,#fefeff 192px,#fff8f8 198px,#fccdcd 232px,#f78989 298px,#f45c5c 350px,#f13131 400px,#ef0a0a 458px,#ee0202 486px,#ee0303 538px,#f01919 586px,#f12a2a 602px,#f34949 620px,#f9a6a6 664px,#fddfdf 694px,#fffcfc 706px,#fdfdff 708px,#cbd1ff 728px)"></i><i style="left:1332px;width:4.6px;background:linear-gradient(#5f71ff 8px,#6c7cff 40px,#8492ff 72px,#c0c7ff 128px,#eff1ff 184px,#ffffff 198px,#fcd1d1 236px,#f78a8a 304px,#f46161 350px,#f23535 400px,#ef0d0d 456px,#ee0505 482px,#ee0404 536px,#f01a1a 588px,#f12828 602px,#f34646 620px,#f89d9d 660px,#fddcdc 694px,#fffefe 708px,#cfd4ff 728px)"></i><i style="left:1336px;width:4.6px;background:linear-gradient(#6273ff 8px,#6d7dff 42px,#8290ff 72px,#c0c7ff 134px,#ebedff 186px,#ffffff 204px,#fccccc 248px,#f78d8d 308px,#f56767 350px,#f23939 400px,#ef1010 456px,#ee0707 482px,#ee0505 536px,#f01a1a 590px,#f12929 604px,#f34949 622px,#f89494 656px,#fcd4d4 692px,#fefeff 710px,#d3d7ff 728px)"></i><i style="left:1340px;width:4.6px;background:linear-gradient(#6576ff 8px,#6d7dff 42px,#808eff 72px,#c0c7ff 140px,#e5e8ff 186px,#ffffff 210px,#f89292 310px,#f56e6e 350px,#f23f3f 398px,#ef1414 454px,#ef0a0a 480px,#ef0808 534px,#ef1313 568px,#f01b1b 592px,#f12a2a 606px,#f34747 622px,#f78e8e 654px,#fcd2d2 692px,#fffdfd 710px,#fcfdff 712px,#d6daff 728px)"></i><i style="left:1344px;width:4.6px;background:linear-gradient(#6878ff 8px,#6d7dff 42px,#7e8cff 72px,#a4aeff 114px,#c3caff 150px,#e1e4ff 188px,#fffefe 218px,#fab7b7 282px,#f89191 318px,#f67474 350px,#f24242 400px,#f01717 454px,#ef0d0d 480px,#ef0b0b 530px,#ef1414 562px,#f01919 588px,#f02424 602px,#f23d3d 618px,#f67474 642px,#f89595 658px,#fccbcb 690px,#fef4f4 708px,#ffffff 712px,#d9ddff 728px)"></i><i style="left:1348px;width:4.6px;background:linear-gradient(#6a7aff 8px,#6e7eff 44px,#7f8dff 76px,#9faaff 114px,#bec5ff 150px,#dadeff 188px,#fefeff 224px,#fff8f8 232px,#fbc2c2 280px,#f89a9a 316px,#f67777 352px,#f24343 404px,#f01919 456px,#ef0f0f 482px,#ef0e0e 524px,#f01717 558px,#f01919 586px,#f02424 602px,#f23c3c 618px,#f56464 636px,#f78888 652px,#fbc8c8 690px,#fef6f6 710px,#fdfeff 714px,#dce0ff 728px)"></i><i style="left:1352px;width:4.6px;background:linear-gradient(#6b7bff 8px,#6f7eff 46px,#7e8cff 78px,#9ba6ff 114px,#b9c1ff 150px,#d3d8ff 188px,#fdfdff 232px,#fffdfd 236px,#fccdcd 278px,#f9a2a2 314px,#f67676 358px,#f24141 412px,#f01b1b 458px,#ef1212 484px,#ef1111 522px,#f01a1a 552px,#f01a1a 586px,#f02424 602px,#f23a3a 618px,#f45d5d 634px,#f78787 652px,#fbc5c5 690px,#fef3f3 710px,#fffefe 714px,#f2f3ff 720px,#dfe2ff 728px)"></i><i style="left:1356px;width:4.6px;background:linear-gradient(#6c7cff 8px,#6f7eff 48px,#7e8cff 82px,#97a2ff 114px,#b4bcff 150px,#cdd2ff 188px,#f6f7ff 232px,#fefeff 242px,#fde6e6 266px,#f9a9a9 314px,#f34747 410px,#f02020 456px,#ef1515 482px,#ef1313 516px,#f01d1d 550px,#f01a1a 584px,#f02222 600px,#f23535 616px,#f35151 630px,#f78181 650px,#fbc2c2 690px,#fef1f1 710px,#fefeff 716px,#e1e4ff 728px)"></i><i style="left:1360px;width:4.6px;background:linear-gradient(#6d7dff 8px,#6f7eff 50px,#7c8bff 84px,#94a0ff 116px,#b0b8ff 152px,#c7cdff 188px,#f0f2ff 234px,#fffefe 252px,#fddfdf 278px,#faafaf 314px,#f34c4c 410px,#f02424 456px,#f01818 482px,#ef1616 514px,#f02020 550px,#f01c1c 584px,#f02424 602px,#f23737 618px,#f45353 632px,#f78181 652px,#fbc0c0 690px,#feeeee 710px,#fffefe 716px,#e3e6ff 728px)"></i><i style="left:1364px;width:4.6px;background:linear-gradient(#6d7dff 8px,#6f7eff 54px,#7d8bff 90px,#9aa5ff 128px,#b1b9ff 164px,#c2c9ff 190px,#edefff 238px,#fffefe 260px,#fcd8d8 288px,#fab1b1 318px,#f35151 410px,#f12828 456px,#f01c1c 482px,#f01919 514px,#f02222 550px,#f01d1d 586px,#f02525 604px,#f23838 620px,#f45555 634px,#f78282 654px,#fbbebe 690px,#fde7e7 708px,#fffcfc 716px,#fdfdff 718px,#e5e8ff 728px)"></i><i style="left:1368px;width:4.6px;background:linear-gradient(#6d7dff 8px,#6e7eff 54px,#7a89ff 90px,#949fff 126px,#a9b3ff 160px,#bcc3ff 190px,#e8eaff 240px,#fefeff 266px,#fef5f5 274px,#fababa 316px,#f45757 408px,#f12c2c 456px,#f01e1e 484px,#f01c1c 514px,#f02323 552px,#f01e1e 586px,#f02525 604px,#f23737 620px,#f34e4e 632px,#f78282 656px,#fbbfbf 692px,#feeaea 710px,#ffffff 718px,#e7eaff 728px)"></i><i style="left:1372px;width:4.6px;background:linear-gradient(#6d7dff 8px,#6d7dff 56px,#7988ff 94px,#a2acff 156px,#b4bcff 188px,#e2e6ff 242px,#fcfcff 270px,#fefeff 272px,#fde8e8 288px,#fbbcbc 320px,#f46060 404px,#f13232 454px,#f02222 482px,#f01e1e 512px,#f02424 552px,#f01f1f 588px,#f12727 606px,#f23939 622px,#f45959 638px,#f78686 660px,#fbbdbd 692px,#fde7e7 710px,#fffdfd 718px,#f7f8ff 722px,#e9ebff 728px)"></i><i style="left:1376px;width:4.6px;background:linear-gradient(#6d7dff 8px,#6c7cff 58px,#7887ff 98px,#9da7ff 158px,#aeb7ff 188px,#dce0ff 242px,#f5f6ff 270px,#ffffff 278px,#fbc3c3 320px,#f56f6f 394px,#f23939 450px,#f12727 480px,#f02020 510px,#f02424 556px,#f02121 590px,#f12929 608px,#f23838 622px,#f45656 638px,#f78787 662px,#fababa 692px,#fde0e0 708px,#fffbfb 718px,#fdfeff 720px,#eaecff 728px)"></i><i style="left:1380px;width:4.6px;background:linear-gradient(#6d7dff 8px,#6b7bff 60px,#7685ff 100px,#97a2ff 160px,#a9b3ff 190px,#d7dbff 244px,#f1f3ff 272px,#fefeff 282px,#fffafa 286px,#fbc2c2 326px,#f67a7a 388px,#f23f3f 448px,#f12a2a 480px,#f02323 510px,#f02424 558px,#f02222 592px,#f12a2a 610px,#f23a3a 624px,#f46161 644px,#f88f8f 668px,#fbbcbc 694px,#fde2e2 710px,#ffffff 720px,#eceeff 728px)"></i><i style="left:1384px;width:4.6px;background:linear-gradient(#6d7dff 8px,#6a7aff 60px,#7383ff 104px,#9ea9ff 184px,#e4e7ff 266px,#ffffff 288px,#fbc0c0 332px,#f78080 386px,#f24343 448px,#f12d2d 480px,#f02525 510px,#f02323 564px,#f02323 596px,#f12e2e 614px,#f24040 628px,#f78c8c 668px,#fab8b8 694px,#fddada 708px,#fffdfd 720px,#fcfcff 722px,#edefff 728px)"></i><i style="left:1388px;width:4.6px;background:linear-gradient(#6d7dff 8px,#6979ff 62px,#7181ff 110px,#96a1ff 182px,#dbdfff 264px,#fefeff 292px,#fffafa 296px,#fab6b6 344px,#f67f7f 392px,#f34545 450px,#f12f2f 484px,#f12626 514px,#f02323 594px,#f12c2c 612px,#f23e3e 628px,#f78a8a 668px,#fab5b5 694px,#fcd7d7 708px,#fffafa 720px,#fefeff 722px,#eff1ff 728px)"></i><i style="left:1392px;width:4.6px;background:linear-gradient(#6d7dff 8px,#6878ff 62px,#6e7eff 114px,#8c99ff 178px,#d3d8ff 262px,#ffffff 298px,#fab4b4 350px,#f78181 394px,#f34747 452px,#f13030 488px,#f12828 520px,#f02424 592px,#f12a2a 610px,#f23b3b 626px,#f45e5e 646px,#f78a8a 670px,#fab2b2 694px,#fccece 706px,#fffefe 722px,#f1f2ff 728px)"></i><i style="left:1396px;width:4.6px;background:linear-gradient(#6d7dff 8px,#6777ff 62px,#6b7bff 120px,#8491ff 176px,#c5cbff 254px,#ebeeff 288px,#fefeff 302px,#fef7f7 308px,#faafaf 358px,#f78080 400px,#f34b4b 452px,#f13131 490px,#f12929 524px,#f02424 588px,#f12929 608px,#f23737 624px,#f35050 640px,#f78888 670px,#fab3b3 696px,#fcd0d0 708px,#fffcfc 722px,#fdfdff 724px,#f3f4ff 728px)"></i><i style="left:1400px;width:4.6px;background:linear-gradient(#6e7dff 8px,#6576ff 62px,#6677ff 124px,#7a89ff 172px,#a2acff 222px,#cad0ff 266px,#ffffff 308px,#fab4b4 358px,#f78686 398px,#f34d4d 454px,#f13434 490px,#f12a2a 526px,#f02424 586px,#f12929 608px,#f23939 626px,#f45656 644px,#f78888 672px,#fab0b0 696px,#fbc7c7 706px,#ffffff 724px,#f4f5ff 728px)"></i><i style="left:1404px;width:4.6px;background:linear-gradient(#6e7eff 8px,#6475ff 62px,#6172ff 126px,#7180ff 168px,#8d99ff 206px,#bfc6ff 262px,#fcfcff 310px,#fefeff 312px,#fab4b4 362px,#f78686 402px,#f34e4e 456px,#f23636 492px,#f12a2a 532px,#f02323 584px,#f12929 608px,#f23838 626px,#f45858 646px,#f78c8c 676px,#faadad 696px,#fccbcb 708px,#fffdfd 724px,#f6f7ff 728px)"></i><i style="left:1408px;width:4.6px;background:linear-gradient(#6e7eff 8px,#6374ff 62px,#5c6dff 128px,#6979ff 166px,#808eff 200px,#b7beff 260px,#f2f4ff 308px,#fdfdff 316px,#fffefe 318px,#fbbcbc 360px,#f89191 396px,#f35050 458px,#f23838 492px,#f12a2a 536px,#f02323 584px,#f12929 608px,#f23838 626px,#f45656 646px,#f78c8c 678px,#f9aaaa 696px,#fbc8c8 708px,#fffbfb 724px,#fdfdff 726px,#f8f9ff 728px)"></i><i style="left:1412px;width:4.6px;background:linear-gradient(#6f7eff 8px,#6273ff 60px,#586aff 112px,#586aff 136px,#6475ff 170px,#7c8aff 204px,#aeb6ff 258px,#eef0ff 310px,#fffefe 322px,#fbbfbf 362px,#f89393 398px,#f34f4f 462px,#f23a3a 494px,#f12929 544px,#f02323 586px,#f12929 608px,#f23737 626px,#f45858 648px,#f89090 682px,#f9acac 698px,#fccbcb 710px,#ffffff 726px,#fafbff 728px)"></i><i style="left:1416px;width:4.6px;background:linear-gradient(#6f7fff 8px,#6172ff 60px,#596bff 98px,#5265ff 130px,#5b6cff 164px,#6d7dff 194px,#a0aaff 252px,#e8eaff 310px,#ffffff 326px,#fbc1c1 364px,#f89797 398px,#f35151 464px,#f23b3b 496px,#f12727 552px,#f02323 588px,#f12a2a 610px,#f23939 628px,#f45d5d 652px,#f9a5a5 696px,#fbc1c1 708px,#fffbfb 726px,#fdfdff 728px)"></i><i style="left:1420px;width:4.6px;background:linear-gradient(#7080ff 8px,#6071ff 62px,#586bff 94px,#4e61ff 128px,#5366ff 160px,#6374ff 190px,#939eff 246px,#e1e4ff 310px,#ffffff 330px,#fbc1c1 368px,#f89595 404px,#f35252 466px,#f23d3d 498px,#f12727 556px,#f02323 590px,#f12b2b 612px,#f23b3b 630px,#f56262 656px,#f9a2a2 696px,#fbbebe 708px,#fffcfc 728px)"></i><i style="left:1424px;width:4.6px;background:linear-gradient(#7181ff 8px,#5f71ff 62px,#576aff 92px,#4b5fff 126px,#4d60ff 156px,#5b6dff 188px,#8794ff 242px,#dadeff 310px,#fefeff 334px,#fbc1c1 372px,#f88f8f 414px,#f45555 466px,#f24040 498px,#f12727 558px,#f02424 590px,#f12b2b 612px,#f23d3d 632px,#f56666 660px,#f99f9f 696px,#fbbfbf 710px,#fff8f8 728px)"></i><i style="left:1428px;width:4.6px;background:linear-gradient(#7382ff 8px,#5e6fff 64px,#5669ff 90px,#485cff 126px,#485cff 156px,#5466ff 186px,#7c8aff 238px,#a4aeff 272px,#d9ddff 314px,#fefeff 338px,#fbc2c2 376px,#f45f5f 460px,#f34949 488px,#f12a2a 552px,#f02424 586px,#f12a2a 610px,#f23a3a 630px,#f45e5e 656px,#f89d9d 696px,#fbbcbc 710px,#fef3f3 728px)"></i><i style="left:1432px;width:4.6px;background:linear-gradient(#7483ff 8px,#5c6dff 68px,#5366ff 92px,#4559ff 128px,#4559ff 158px,#5063ff 188px,#7483ff 238px,#99a4ff 268px,#d2d7ff 314px,#fefeff 342px,#fff9f9 346px,#fbc8c8 376px,#f78787 430px,#f45d5d 466px,#f34747 498px,#f12a2a 558px,#f02525 588px,#f12b2b 612px,#f23c3c 632px,#f56565 662px,#f89b9b 696px,#fab9b9 710px,#feefef 728px)"></i><i style="left:1436px;width:4.6px;background:linear-gradient(#7685ff 8px,#5a6cff 70px,#4d61ff 100px,#4156ff 134px,#4257ff 166px,#4f62ff 196px,#6d7dff 238px,#8f9cff 266px,#cdd3ff 316px,#fdfdff 346px,#fffefe 348px,#fccfcf 376px,#f56565 462px,#f35151 488px,#f12c2c 556px,#f12626 586px,#f12b2b 610px,#f23a3a 630px,#f45e5e 658px,#f89595 694px,#fab7b7 710px,#feecec 728px)"></i><i style="left:1440px;width:4.6px;background:linear-gradient(#7987ff 8px,#5769ff 74px,#4054ff 132px,#3f53ff 164px,#495dff 194px,#6676ff 238px,#8693ff 264px,#a4aeff 288px,#c6ccff 316px,#ffffff 352px,#fcd3d3 378px,#f56666 466px,#f34b4b 504px,#f12c2c 560px,#f12727 588px,#f12d2d 612px,#f23c3c 632px,#f56666 664px,#f89494 694px,#fab6b6 710px,#fee9e9 728px)"></i><i style="left:1444px;width:4.6px;background:linear-gradient(#7b8aff 8px,#5466ff 78px,#3d52ff 136px,#3c51ff 168px,#475bff 200px,#5f70ff 238px,#808eff 264px,#9ca7ff 286px,#c2c8ff 318px,#fefeff 356px,#fcd8d8 380px,#f56b6b 466px,#f23f3f 530px,#f12c2c 566px,#f12929 594px,#f13131 618px,#f24343 638px,#f78282 684px,#f9a8a8 704px,#fcd6d6 722px,#fde7e7 728px)"></i><i style="left:1448px;width:4.6px;background:linear-gradient(#7f8dff 8px,#6576ff 50px,#5366ff 76px,#3b50ff 140px,#3a4fff 172px,#465aff 206px,#596bff 238px,#7988ff 264px,#97a3ff 288px,#bdc4ff 320px,#fdfdff 360px,#fffdfd 362px,#fddddd 382px,#f67171 466px,#f13434 554px,#f12b2b 582px,#f12e2e 608px,#f23b3b 630px,#f45d5d 658px,#f78989 688px,#fab1b1 708px,#fde5e5 728px)"></i><i style="left:1452px;width:4.6px;background:linear-gradient(#8290ff 8px,#6b7bff 46px,#5467ff 74px,#394fff 144px,#384eff 176px,#4559ff 214px,#5568ff 240px,#7887ff 268px,#99a4ff 296px,#bac2ff 324px,#ffffff 366px,#fcd3d3 396px,#f67676 468px,#f23838 554px,#f12e2e 580px,#f13030 606px,#f23d3d 630px,#f45e5e 658px,#f78686 686px,#fab2b2 708px,#fde5e5 728px)"></i><i style="left:1456px;width:4.6px;background:linear-gradient(#8794ff 8px,#707fff 44px,#5466ff 76px,#374dff 150px,#364cff 182px,#4459ff 222px,#5467ff 244px,#8c99ff 290px,#b0b8ff 322px,#eceeff 360px,#ffffff 372px,#fab7b7 424px,#f67e7e 468px,#f23d3d 552px,#f13232 578px,#f13333 606px,#f23f3f 630px,#f46060 658px,#f78787 686px,#fab3b3 708px,#fde4e4 728px)"></i><i style="left:1460px;width:4.6px;background:linear-gradient(#8c98ff 8px,#7483ff 44px,#5467ff 78px,#364cff 154px,#354bff 186px,#4156ff 224px,#5264ff 246px,#8a96ff 294px,#aab3ff 324px,#fefeff 378px,#fffbfb 382px,#fbbebe 426px,#f78686 470px,#f34444 548px,#f23737 574px,#f23636 602px,#f24040 626px,#f45353 646px,#f78383 682px,#f9acac 704px,#fde4e4 728px)"></i><i style="left:1464px;width:4.6px;background:linear-gradient(#919dff 8px,#7988ff 44px,#5769ff 80px,#354bff 156px,#3349ff 188px,#3e53ff 224px,#4f62ff 248px,#8592ff 296px,#a5afff 326px,#fcfcff 384px,#fefeff 386px,#fbc3c3 430px,#f78a8a 476px,#f34e4e 542px,#f23d3d 570px,#f23a3a 598px,#f24343 624px,#f45454 644px,#f78383 680px,#f9aaaa 702px,#fde4e4 728px)"></i><i style="left:1468px;width:4.6px;background:linear-gradient(#97a2ff 8px,#7d8bff 46px,#5c6dff 80px,#354bff 156px,#3147ff 186px,#394fff 220px,#495dff 246px,#8390ff 300px,#9da7ff 326px,#ffffff 394px,#fccdcd 430px,#f78a8a 486px,#f45656 538px,#f24343 568px,#f23f3f 596px,#f34747 622px,#f45959 644px,#f78383 678px,#f9a9a9 700px,#fde4e4 728px)"></i><i style="left:1472px;width:4.6px;background:linear-gradient(#9da8ff 8px,#8391ff 46px,#5f71ff 84px,#374cff 154px,#3046ff 184px,#354bff 216px,#4459ff 244px,#6778ff 278px,#95a1ff 326px,#fdfdff 400px,#fffefe 402px,#fcd0d0 436px,#f9a9a9 468px,#f56969 524px,#f34e4e 558px,#f34545 582px,#f34747 610px,#f45353 632px,#f67272 662px,#f89696 688px,#fcd0d0 718px,#fde5e5 728px)"></i><i style="left:1476px;width:4.6px;background:linear-gradient(#a3adff 8px,#8794ff 50px,#5f70ff 94px,#374cff 156px,#2f45ff 186px,#344aff 218px,#4357ff 246px,#7d8bff 308px,#939fff 330px,#fefeff 408px,#fffbfb 412px,#fcd0d0 446px,#fab2b2 470px,#f57070 524px,#f45656 556px,#f34c4c 580px,#f34d4d 610px,#f45858 632px,#f67474 660px,#f89797 686px,#fcd2d2 718px,#fde6e6 728px)"></i><i style="left:1480px;width:4.6px;background:linear-gradient(#aab3ff 8px,#8a97ff 54px,#5769ff 112px,#374dff 158px,#2e45ff 186px,#3148ff 216px,#3f54ff 244px,#8c98ff 330px,#c2c8ff 372px,#fefeff 416px,#fffbfb 420px,#fbbfbf 468px,#f67777 524px,#f45e5e 554px,#f45353 578px,#f45353 608px,#f45e5e 632px,#f67979 660px,#f89b9b 686px,#fddbdb 722px,#fde7e7 728px)"></i><i style="left:1484px;width:4.6px;background:linear-gradient(#b0b9ff 8px,#8995ff 66px,#5668ff 120px,#374dff 160px,#2e45ff 186px,#3046ff 216px,#3e53ff 246px,#8794ff 332px,#b2bbff 368px,#fdfdff 424px,#fffefe 426px,#fbcaca 468px,#f67f7f 524px,#f56666 552px,#f45b5b 576px,#f45a5a 606px,#f56363 630px,#f67c7c 658px,#f89c9c 684px,#fcd9d9 720px,#fde8e8 728px)"></i><i style="left:1488px;width:4.6px;background:linear-gradient(#b7bfff 8px,#8a97ff 74px,#596bff 122px,#384dff 162px,#2e44ff 188px,#2f46ff 216px,#3c51ff 246px,#818fff 334px,#a3adff 364px,#f8f9ff 428px,#ffffff 434px,#fcd5d5 468px,#f78686 524px,#f56e6e 550px,#f56363 574px,#f46060 606px,#f56969 630px,#f78181 658px,#f9a1a1 684px,#fde2e2 724px,#fee9e9 728px)"></i><i style="left:1492px;width:4.6px;background:linear-gradient(#bdc4ff 8px,#929eff 74px,#4559ff 148px,#3349ff 174px,#2d43ff 200px,#3249ff 230px,#475bff 266px,#7e8cff 338px,#9faaff 368px,#f0f2ff 430px,#fffefe 444px,#fccbcb 482px,#f78b8b 526px,#f67575 550px,#f56a6a 574px,#f56767 606px,#f57070 632px,#f78888 660px,#f9a8a8 686px,#feebeb 728px)"></i><i style="left:1496px;width:4.6px;background:linear-gradient(#c4caff 8px,#99a4ff 74px,#4155ff 156px,#3147ff 180px,#2d43ff 206px,#354bff 238px,#5466ff 290px,#7a88ff 342px,#9ea8ff 374px,#ebedff 434px,#fefeff 452px,#fcd6d6 482px,#f89292 526px,#f67e7e 548px,#f67272 572px,#f56e6e 606px,#f67676 632px,#f78d8d 660px,#faafaf 688px,#feecec 728px)"></i><i style="left:1500px;width:4.6px;background:linear-gradient(#cbd0ff 8px,#a0aaff 74px,#5f70ff 132px,#3e53ff 162px,#3046ff 186px,#2d44ff 212px,#374dff 246px,#5e70ff 316px,#7987ff 350px,#a9b2ff 390px,#e7eaff 440px,#fefeff 460px,#fddede 484px,#f89a9a 526px,#f78686 546px,#f67979 570px,#f67575 606px,#f67c7c 632px,#f89090 658px,#fab0b0 686px,#feeded 728px)"></i><i style="left:1504px;width:4.6px;background:linear-gradient(#d1d6ff 8px,#a4aeff 76px,#7685ff 118px,#4357ff 160px,#3349ff 182px,#2d44ff 208px,#344aff 242px,#5467ff 312px,#6f7eff 348px,#98a3ff 384px,#e2e5ff 444px,#ffffff 468px,#fcd5d5 496px,#f9a4a4 524px,#f89090 542px,#f78282 566px,#f67b7b 604px,#f78282 632px,#f89494 658px,#fab4b4 686px,#feefef 728px)"></i><i style="left:1508px;width:4.6px;background:linear-gradient(#d8dcff 8px,#abb4ff 76px,#8592ff 112px,#465aff 160px,#344aff 182px,#2d44ff 208px,#344aff 244px,#4c5fff 312px,#6475ff 346px,#8996ff 380px,#ffffff 476px,#fcd9d9 500px,#f9acac 524px,#f89999 540px,#f78989 564px,#f78181 604px,#f78787 632px,#f89999 658px,#fababa 688px,#fef0f0 728px)"></i><i style="left:1512px;width:4.6px;background:linear-gradient(#dee2ff 8px,#afb8ff 78px,#8c98ff 112px,#465aff 162px,#354bff 184px,#2e45ff 210px,#354bff 252px,#4358ff 312px,#596bff 344px,#7b89ff 376px,#fdfeff 482px,#fffefe 484px,#fddfdf 502px,#fab4b4 524px,#f9a0a0 540px,#f88f8f 566px,#f78787 604px,#f78c8c 632px,#f89d9d 658px,#fbc0c0 690px,#fef2f2 728px)"></i><i style="left:1516px;width:4.6px;background:linear-gradient(#e5e8ff 8px,#b5bdff 78px,#95a1ff 110px,#6d7dff 138px,#4a5dff 162px,#384eff 182px,#2f46ff 206px,#3249ff 244px,#3b50ff 312px,#4c5fff 340px,#6f7fff 374px,#fefeff 490px,#feeeee 500px,#fbbdbd 524px,#f9aaaa 538px,#f89797 564px,#f78d8d 602px,#f89090 630px,#f9a0a0 656px,#fbc1c1 688px,#fef3f3 728px)"></i><i style="left:1520px;width:4.6px;background:linear-gradient(#eceeff 8px,#bac2ff 80px,#9ca7ff 110px,#7988ff 134px,#4f63ff 160px,#3c51ff 180px,#3147ff 204px,#3148ff 240px,#3248ff 280px,#3248ff 312px,#4155ff 338px,#6172ff 370px,#f8f9ff 492px,#fefeff 496px,#fff9f9 500px,#fbc2c2 526px,#faadad 544px,#f89b9b 570px,#f89292 606px,#f89696 632px,#f9a6a6 658px,#fbc9c9 692px,#fef5f5 728px)"></i><i style="left:1524px;width:4.6px;background:linear-gradient(#f2f4ff 8px,#c0c7ff 80px,#a3adff 110px,#8390ff 132px,#5366ff 160px,#3e53ff 180px,#3248ff 204px,#3147ff 240px,#2f46ff 274px,#2940ff 310px,#3047ff 328px,#475bff 356px,#bec5ff 454px,#f8f9ff 498px,#ffffff 502px,#fccccc 526px,#fab5b5 544px,#f9a2a2 570px,#f89898 604px,#f89a9a 630px,#f9a9a9 656px,#fbcaca 690px,#fef6f6 728px)"></i><i style="left:1528px;width:4.6px;background:linear-gradient(#f9faff 8px,#c7cdff 80px,#aab4ff 110px,#8d99ff 130px,#576aff 160px,#4156ff 180px,#344aff 204px,#3147ff 242px,#2c43ff 272px,#223aff 306px,#243cff 322px,#374dff 350px,#7b89ff 408px,#c0c7ff 462px,#eceeff 496px,#fefeff 506px,#fcd4d4 528px,#fab9b9 550px,#f9a8a8 572px,#f89d9d 606px,#f99f9f 632px,#faaeae 658px,#fcd4d4 696px,#fff8f8 728px)"></i><i style="left:1532px;width:4.6px;background:linear-gradient(#fffefe 8px,#eceeff 38px,#c2c8ff 94px,#a7b0ff 118px,#808eff 140px,#596bff 162px,#4257ff 182px,#354bff 204px,#3147ff 242px,#2a41ff 270px,#223aff 288px,#233bff 336px,#354bff 358px,#a3adff 448px,#e3e6ff 496px,#fcfdff 510px,#fffefe 512px,#fddcdc 530px,#fbbebe 554px,#faaeae 574px,#f9a2a2 608px,#f9a5a5 634px,#fab6b6 662px,#feeeee 718px,#fff9f9 728px)"></i><i style="left:1536px;width:4.6px;background:linear-gradient(#fef7f7 8px,#ffffff 20px,#cfd4ff 86px,#b6beff 112px,#9aa5ff 130px,#5e6fff 162px,#465aff 182px,#374dff 204px,#3046ff 246px,#283fff 270px,#223aff 282px,#223aff 348px,#475bff 382px,#9ca6ff 450px,#dde1ff 498px,#fefeff 516px,#fff9f9 520px,#fcd9d9 540px,#fababa 568px,#f9aaaa 600px,#f9a8a8 626px,#fab1b1 650px,#fccccc 682px,#fffbfb 728px)"></i><i style="left:1540px;width:4.6px;background:linear-gradient(#feefef 8px,#fefeff 32px,#cfd5ff 94px,#b8bfff 116px,#95a0ff 136px,#6374ff 162px,#495dff 182px,#394fff 204px,#2a41ff 262px,#223aff 276px,#223aff 358px,#7f8dff 436px,#d4d8ff 498px,#fdfdff 522px,#fffefe 524px,#fddada 548px,#fbc1c1 570px,#faafaf 602px,#faadad 628px,#fab7b7 652px,#fcd3d3 686px,#fffcfc 728px)"></i><i style="left:1544px;width:4.6px;background:linear-gradient(#fde8e8 8px,#ffffff 42px,#d2d7ff 98px,#bcc3ff 118px,#939fff 140px,#6576ff 164px,#4b5eff 184px,#3a4fff 206px,#283fff 262px,#223aff 272px,#233aff 368px,#7f8dff 444px,#cdd2ff 500px,#fefeff 530px,#fcd1d1 564px,#fbbdbd 588px,#fab3b3 614px,#fab4b4 638px,#fbc7c7 668px,#fffefe 728px)"></i><i style="left:1548px;width:4.6px;background:linear-gradient(#fde0e0 8px,#fffbfb 46px,#feffff 52px,#d7dcff 100px,#bfc6ff 120px,#919dff 144px,#6778ff 166px,#4c5fff 186px,#3b50ff 208px,#273eff 260px,#223aff 270px,#233bff 378px,#7584ff 444px,#c6ccff 502px,#feffff 538px,#fcd5d5 570px,#fbc1c1 596px,#fab8b8 618px,#fab9b9 638px,#fccbcb 668px,#ffffff 728px)"></i><i style="left:1552px;width:4.6px;background:linear-gradient(#fcd9d9 8px,#fef0f0 44px,#fefeff 62px,#dadeff 104px,#c3c9ff 122px,#8f9cff 148px,#6677ff 170px,#4b5fff 190px,#3b50ff 212px,#273fff 256px,#223aff 266px,#223aff 386px,#6b7bff 444px,#bec5ff 504px,#f9faff 542px,#ffffff 546px,#fcd9d9 576px,#fbc4c4 604px,#fbbebe 632px,#fbc8c8 658px,#fde8e8 698px,#ffffff 726px,#fdfdff 728px)"></i><i style="left:1556px;width:4.6px;background:linear-gradient(#fcd1d1 8px,#fde6e6 42px,#fffefe 70px,#e2e5ff 102px,#c9cfff 122px,#9fa9ff 144px,#6b7bff 170px,#4f62ff 190px,#3c52ff 212px,#263eff 254px,#223aff 262px,#223aff 396px,#6979ff 450px,#b6beff 506px,#f7f8ff 548px,#ffffff 554px,#fddede 580px,#fccbcb 606px,#fbc4c4 632px,#fccbcb 656px,#fde3e3 688px,#fefeff 724px,#fcfcff 728px)"></i><i style="left:1560px;width:4.6px;background:linear-gradient(#fbc9c9 8px,#fddcdc 40px,#fefeff 80px,#d8dcff 116px,#bac2ff 134px,#6d7dff 172px,#5063ff 192px,#3d52ff 214px,#263dff 252px,#223aff 258px,#223aff 404px,#5668ff 444px,#909cff 486px,#b5bdff 512px,#f3f4ff 552px,#ffffff 562px,#fde5e5 582px,#fcd2d2 608px,#fbcaca 634px,#fcd0d0 658px,#feeaea 692px,#ffffff 720px,#fafbff 728px)"></i><i style="left:1564px;width:4.6px;background:linear-gradient(#fbc1c1 8px,#fcd0d0 36px,#fef7f7 80px,#fffefe 86px,#dee2ff 116px,#c1c8ff 134px,#6c7cff 176px,#5164ff 194px,#3d52ff 216px,#253dff 250px,#223aff 256px,#223aff 414px,#5a6cff 454px,#8693ff 486px,#a8b1ff 510px,#eceeff 554px,#fefeff 568px,#fde7e7 590px,#fcd3d3 624px,#fcd1d1 644px,#fddada 668px,#ffffff 716px,#f9f9ff 728px)"></i><i style="left:1568px;width:4.6px;background:linear-gradient(#fab8b8 8px,#fbc7c7 36px,#feefef 80px,#fffefe 92px,#fcfcff 96px,#dadeff 124px,#b5bdff 144px,#6d7dff 178px,#5265ff 196px,#3c51ff 220px,#263dff 248px,#223aff 254px,#223aff 422px,#7887ff 482px,#9aa5ff 508px,#ebedff 560px,#fffefe 576px,#feebeb 596px,#fcd7d7 632px,#fcd8d8 654px,#fde5e5 678px,#fffefe 712px,#f7f8ff 728px)"></i><i style="left:1572px;width:4.6px;background:linear-gradient(#faafaf 8px,#fbbfbf 36px,#fde7e7 80px,#fffefe 98px,#e9ebff 118px,#c9cfff 138px,#6b7bff 182px,#5063ff 200px,#223aff 250px,#223aff 430px,#6d7dff 480px,#909cff 508px,#ebeeff 566px,#fefeff 582px,#fddfdf 630px,#fddcdc 652px,#fde5e5 674px,#ffffff 708px,#f6f7ff 728px)"></i><i style="left:1576px;width:4.6px;background:linear-gradient(#f9a5a5 8px,#fab5b5 34px,#fddede 80px,#fffefe 104px,#e7eaff 124px,#c5cbff 144px,#7080ff 182px,#5669ff 198px,#223aff 248px,#233bff 438px,#6173ff 478px,#8a97ff 510px,#e9ebff 570px,#fcfcff 588px,#fffefe 594px,#fde4e4 634px,#fde1e1 656px,#feeaea 676px,#ffffff 704px,#f4f6ff 728px)"></i><i style="left:1580px;width:4.6px;background:linear-gradient(#f89c9c 8px,#f9abab 32px,#fcd8d8 82px,#fffefe 110px,#f6f7ff 118px,#d9ddff 138px,#b3bbff 156px,#7181ff 184px,#586aff 200px,#223aff 248px,#223aff 444px,#596bff 478px,#8491ff 512px,#e7e9ff 574px,#f8f9ff 592px,#ffffff 604px,#feeaea 634px,#fde5e5 656px,#feecec 674px,#fefeff 702px,#f3f5ff 728px)"></i><i style="left:1584px;width:4.6px;background:linear-gradient(#f89393 8px,#f9a0a0 28px,#fcd2d2 84px,#fffefe 116px,#edefff 130px,#cdd3ff 148px,#7382ff 186px,#596bff 202px,#273eff 242px,#223aff 248px,#233aff 450px,#5063ff 478px,#7a89ff 512px,#c8ceff 560px,#e4e7ff 578px,#f5f6ff 598px,#ffffff 612px,#feeded 640px,#fee9e9 660px,#fef5f5 682px,#fefeff 698px,#f2f4ff 728px)"></i><i style="left:1588px;width:4.6px;background:linear-gradient(#f78b8b 8px,#f89797 26px,#fccccc 86px,#ffffff 122px,#e1e4ff 142px,#bac1ff 160px,#7887ff 186px,#5e6fff 202px,#3248ff 234px,#223aff 244px,#243bff 456px,#4a5eff 480px,#7483ff 514px,#b7beff 556px,#d7dcff 574px,#ebedff 592px,#ffffff 620px,#feeeee 650px,#feeeee 666px,#ffffff 692px,#f1f3ff 728px)"></i><i style="left:1592px;width:4.6px;background:linear-gradient(#f78484 8px,#f89191 26px,#fbc5c5 86px,#fffdfd 126px,#fefeff 128px,#e1e4ff 146px,#b8c0ff 164px,#7f8cff 186px,#6374ff 202px,#3a4fff 230px,#233bff 242px,#223aff 460px,#4458ff 482px,#6f7eff 516px,#96a1ff 542px,#acb5ff 556px,#cfd5ff 574px,#e5e8ff 592px,#fffefe 628px,#fef0f0 656px,#fef4f4 670px,#feffff 688px,#f0f2ff 728px)"></i><i style="left:1596px;width:4.6px;background:linear-gradient(#f67f7f 8px,#f78e8e 28px,#fbbebe 86px,#ffffff 132px,#e1e4ff 150px,#b7bfff 168px,#8693ff 186px,#6676ff 204px,#4055ff 228px,#233bff 242px,#223aff 464px,#485cff 492px,#6a7aff 518px,#8c99ff 542px,#9da8ff 554px,#c7cdff 574px,#dfe3ff 592px,#fbfbff 628px,#ffffff 636px,#fef4f4 658px,#fef7f7 670px,#ffffff 682px,#eff1ff 728px)"></i><i style="left:1600px;width:4.6px;background:linear-gradient(#f67c7c 8px,#f88f8f 34px,#fab9b9 86px,#fffefe 136px,#eff1ff 146px,#c6ccff 166px,#8a97ff 188px,#6979ff 206px,#485cff 226px,#243bff 242px,#223aff 470px,#465aff 496px,#6576ff 520px,#8693ff 544px,#98a3ff 556px,#c2c9ff 576px,#dcdfff 594px,#f6f7ff 626px,#fffefe 644px,#fff8f8 660px,#fefeff 678px,#eeefff 728px)"></i><i style="left:1604px;width:4.6px;background:linear-gradient(#f67c7c 8px,#f78b8b 34px,#fab2b2 84px,#fffbfb 138px,#fffefe 140px,#f0f1ff 150px,#c7cdff 170px,#8b98ff 192px,#6d7cff 208px,#4e61ff 226px,#223aff 244px,#223aff 474px,#6575ff 524px,#8c99ff 554px,#c1c8ff 580px,#d8dcff 596px,#f2f3ff 626px,#ffffff 650px,#fffdfd 664px,#fdfdff 674px,#eff0ff 720px,#eceeff 728px)"></i><i style="left:1608px;width:4.6px;background:linear-gradient(#f67e7e 8px,#f78888 32px,#f9abab 80px,#fcd2d2 112px,#fffbfb 142px,#fffefe 144px,#f0f1ff 154px,#c8ceff 174px,#8b98ff 196px,#6d7dff 212px,#4f62ff 228px,#223aff 246px,#233bff 480px,#7584ff 542px,#8996ff 556px,#c4caff 586px,#d9ddff 602px,#f2f3ff 632px,#fdfdff 656px,#eaecff 728px)"></i><i style="left:1612px;width:4.6px;background:linear-gradient(#f67f7f 8px,#f78686 32px,#f9a4a4 76px,#fbc1c1 102px,#fef4f4 142px,#fffefe 148px,#f7f8ff 154px,#d2d7ff 174px,#8f9cff 198px,#7180ff 214px,#5668ff 228px,#233bff 248px,#233bff 484px,#6d7dff 540px,#8794ff 558px,#c7cdff 592px,#e2e5ff 616px,#f6f7ff 646px,#f8f9ff 662px,#e8ebff 728px)"></i><i style="left:1616px;width:4.6px;background:linear-gradient(#f67f7f 8px,#f78686 34px,#f9a0a0 74px,#fabbbb 100px,#fef1f1 144px,#fffefe 152px,#fafbff 156px,#dadeff 174px,#b4bcff 188px,#8f9bff 202px,#5c6dff 228px,#263eff 250px,#223aff 252px,#233bff 488px,#6677ff 538px,#818fff 558px,#c3c9ff 594px,#dfe2ff 618px,#f2f3ff 646px,#f4f5ff 666px,#e6e9ff 728px)"></i><i style="left:1620px;width:4.6px;background:linear-gradient(#f67f7f 8px,#f78787 38px,#f89d9d 74px,#fbbdbd 104px,#feeeee 146px,#fffdfd 156px,#fafbff 160px,#dde1ff 176px,#939fff 204px,#5d6fff 230px,#2f45ff 250px,#233bff 256px,#223aff 490px,#6071ff 536px,#7f8dff 560px,#c2c9ff 598px,#dce0ff 620px,#edefff 646px,#f0f2ff 668px,#e4e7ff 728px)"></i><i style="left:1624px;width:4.6px;background:linear-gradient(#f67f7f 8px,#f78787 40px,#f89a9a 72px,#fab6b6 100px,#feebeb 148px,#fffefe 160px,#fafbff 164px,#dfe2ff 178px,#98a3ff 206px,#344aff 252px,#223aff 262px,#233bff 494px,#5568ff 530px,#7d8bff 562px,#a3adff 584px,#c7cdff 606px,#dde1ff 626px,#ebedff 650px,#eceeff 676px,#e2e5ff 728px)"></i><i style="left:1628px;width:4.6px;background:linear-gradient(#f78080 8px,#f78686 40px,#f89898 72px,#fab6b6 102px,#fde6e6 148px,#fffefe 164px,#eaecff 176px,#8693ff 218px,#4559ff 248px,#223aff 268px,#223aff 496px,#4f62ff 528px,#7f8cff 566px,#c4caff 608px,#d8dcff 626px,#e6e9ff 650px,#e8eaff 678px,#e0e3ff 728px)"></i><i style="left:1632px;width:4.6px;background:linear-gradient(#f78080 8px,#f78686 42px,#f89797 72px,#fab6b6 104px,#fde1e1 148px,#fefeff 168px,#dadeff 186px,#697aff 234px,#223aff 272px,#223aff 498px,#4c5fff 528px,#808eff 570px,#c4caff 612px,#d7dbff 630px,#e3e6ff 654px,#e4e7ff 686px,#dde1ff 728px)"></i><i style="left:1636px;width:4.6px;background:linear-gradient(#f78080 8px,#f78787 44px,#f89797 74px,#fbc6c6 124px,#fddcdc 148px,#fef6f6 166px,#fffefe 170px,#f9faff 174px,#c6ccff 198px,#7584ff 232px,#2a41ff 272px,#223aff 276px,#223aff 500px,#5265ff 536px,#7e8cff 572px,#c6ccff 618px,#d8ddff 640px,#e0e4ff 664px,#dcdfff 724px,#dbdfff 728px)"></i><i style="left:1640px;width:4.6px;background:linear-gradient(#f78181 8px,#f78787 44px,#f89696 74px,#fbc4c4 126px,#fcd9d9 150px,#fef4f4 168px,#ffffff 174px,#d3d7ff 196px,#7c8aff 232px,#374dff 270px,#223aff 280px,#223aff 502px,#5c6eff 548px,#8996ff 582px,#c2c8ff 620px,#d4d9ff 642px,#dde0ff 666px,#d9ddff 726px,#d8dcff 728px)"></i><i style="left:1644px;width:4.6px;background:linear-gradient(#f78282 8px,#f78787 44px,#f89595 74px,#fbc3c3 130px,#fcd7d7 152px,#fef2f2 170px,#fffdfd 176px,#fdfeff 178px,#d1d6ff 200px,#8694ff 230px,#6677ff 248px,#374dff 274px,#223aff 284px,#233bff 506px,#5e6fff 552px,#96a1ff 594px,#c0c7ff 624px,#d2d7ff 646px,#d9ddff 672px,#d6daff 728px)"></i><i style="left:1648px;width:4.6px;background:linear-gradient(#f78383 8px,#f78787 46px,#f89797 78px,#fccece 148px,#fde8e8 168px,#fffefe 180px,#f1f3ff 188px,#c9cfff 206px,#8995ff 232px,#3f54ff 274px,#223aff 288px,#223aff 508px,#9ea9ff 604px,#bec5ff 628px,#cfd4ff 650px,#d5daff 678px,#d3d8ff 728px)"></i><i style="left:1652px;width:4.6px;background:linear-gradient(#f78484 8px,#f78787 46px,#f89696 78px,#fbc9c9 148px,#fde2e2 168px,#ffffff 184px,#dadeff 202px,#8f9bff 232px,#3f54ff 278px,#233bff 290px,#223aff 512px,#8391ff 588px,#bac2ff 630px,#cbd1ff 652px,#d2d7ff 682px,#d1d6ff 728px)"></i><i style="left:1656px;width:4.6px;background:linear-gradient(#f78585 8px,#f78888 48px,#f89797 82px,#fbc4c4 148px,#fddcdc 168px,#fefeff 188px,#d7dbff 206px,#96a2ff 232px,#3e53ff 282px,#223aff 294px,#223aff 516px,#6f7fff 574px,#9ba6ff 610px,#b8c0ff 634px,#c8ceff 656px,#ced3ff 688px,#ced3ff 728px)"></i><i style="left:1660px;width:4.6px;background:linear-gradient(#f78686 8px,#f78989 48px,#f89797 84px,#fbbebe 146px,#fcd6d6 168px,#fef5f5 186px,#fffdfd 190px,#fdfdff 192px,#cfd4ff 212px,#9aa5ff 234px,#6575ff 264px,#4256ff 284px,#253cff 296px,#223aff 300px,#223aff 520px,#697aff 572px,#96a1ff 610px,#b3bbff 634px,#c3c9ff 656px,#cad0ff 686px,#cbd1ff 728px)"></i><i style="left:1664px;width:4.6px;background:linear-gradient(#f78787 8px,#f78989 50px,#f89898 88px,#fab9b9 146px,#fcd0d0 168px,#feeded 186px,#ffffff 194px,#d6dbff 212px,#9da8ff 236px,#6d7dff 262px,#495dff 284px,#233bff 300px,#223aff 524px,#6474ff 570px,#96a2ff 614px,#b3bbff 640px,#c1c8ff 664px,#c7cdff 700px,#c8ceff 728px)"></i><i style="left:1668px;width:4.6px;background:linear-gradient(#f78989 8px,#f78a8a 52px,#f89999 94px,#fab5b5 146px,#fbcaca 168px,#fde6e6 186px,#fefeff 198px,#98a4ff 242px,#7282ff 262px,#4d60ff 286px,#273fff 302px,#223aff 304px,#233bff 528px,#6071ff 570px,#acb5ff 638px,#bcc3ff 662px,#c3caff 694px,#c6ccff 728px)"></i><i style="left:1672px;width:4.6px;background:linear-gradient(#f78a8a 8px,#f78b8b 54px,#f89999 100px,#fab0b0 146px,#fbc7c7 170px,#fde2e2 188px,#fffdfd 200px,#fcfdff 202px,#8a97ff 252px,#6f7eff 268px,#5466ff 286px,#3046ff 302px,#243cff 306px,#223aff 312px,#233bff 532px,#5c6eff 570px,#a8b2ff 640px,#b9c1ff 666px,#c1c8ff 702px,#c3c9ff 728px)"></i><i style="left:1676px;width:4.6px;background:linear-gradient(#f78c8c 8px,#f78c8c 56px,#f89a9a 108px,#faadad 148px,#fbc3c3 172px,#fddbdb 188px,#fffefe 204px,#8491ff 258px,#5769ff 288px,#384dff 302px,#263dff 308px,#223aff 310px,#223aff 534px,#5b6cff 572px,#a1acff 638px,#b4bcff 664px,#bdc4ff 698px,#c0c7ff 728px)"></i><i style="left:1680px;width:4.6px;background:linear-gradient(#f78e8e 8px,#f78c8c 58px,#f89a9a 116px,#f9aaaa 150px,#fbbfbf 174px,#fcd7d7 190px,#fefeff 208px,#a6afff 246px,#8593ff 260px,#5d6fff 288px,#3f54ff 302px,#223aff 312px,#223aff 538px,#5668ff 572px,#919dff 626px,#acb5ff 658px,#b8c0ff 688px,#bdc4ff 728px)"></i><i style="left:1684px;width:4.6px;background:linear-gradient(#f88f8f 8px,#f78d8d 62px,#f89999 122px,#f9a7a7 154px,#fbbdbd 178px,#fcd2d2 192px,#fef7f7 208px,#fffdfd 210px,#fcfdff 212px,#b3bbff 244px,#8f9cff 258px,#7987ff 274px,#6071ff 290px,#4155ff 304px,#233bff 314px,#233aff 542px,#5164ff 572px,#7d8bff 610px,#a5aeff 654px,#b3bbff 682px,#bac1ff 728px)"></i><i style="left:1688px;width:4.6px;background:linear-gradient(#f89191 8px,#f78d8d 66px,#f89797 126px,#f9a5a5 158px,#fab9b9 180px,#fccece 194px,#fef4f4 210px,#fffefe 214px,#c1c7ff 242px,#98a3ff 258px,#6677ff 290px,#4357ff 306px,#223aff 318px,#233bff 546px,#5265ff 576px,#7786ff 608px,#a2acff 656px,#b0b9ff 686px,#b7bfff 728px)"></i><i style="left:1692px;width:4.6px;background:linear-gradient(#f89393 8px,#f78d8d 70px,#f89494 128px,#f9a2a2 160px,#fab4b4 182px,#fbcaca 196px,#fef0f0 212px,#fefeff 218px,#bfc6ff 246px,#9ea8ff 260px,#6d7dff 290px,#455aff 308px,#243cff 320px,#223aff 328px,#223aff 548px,#5a6cff 586px,#7e8cff 620px,#a1abff 662px,#aeb7ff 692px,#b4bcff 728px)"></i><i style="left:1696px;width:4.6px;background:linear-gradient(#f89595 8px,#f78d8d 76px,#f89191 130px,#f99e9e 162px,#fab0b0 184px,#fbc2c2 196px,#fde6e6 212px,#fffcfc 220px,#fcfdff 222px,#c4caff 248px,#a2acff 264px,#7483ff 290px,#4357ff 312px,#223aff 324px,#223aff 552px,#586aff 588px,#7a88ff 620px,#9ea9ff 664px,#abb4ff 694px,#b1b9ff 728px)"></i><i style="left:1700px;width:4.6px;background:linear-gradient(#f89797 8px,#f78c8c 82px,#f78e8e 132px,#f89b9b 164px,#f9acac 186px,#fbc1c1 200px,#fde7e7 216px,#fffdfd 224px,#fcfdff 226px,#cad0ff 250px,#a2acff 270px,#586aff 306px,#2a41ff 324px,#243bff 326px,#223aff 556px,#586bff 592px,#8290ff 634px,#9faaff 672px,#abb4ff 706px,#aeb7ff 728px)"></i><i style="left:1704px;width:4.6px;background:linear-gradient(#f89999 8px,#f78a8a 88px,#f78b8b 134px,#f89797 166px,#f9a8a8 188px,#fbbdbd 202px,#fddbdb 216px,#ffffff 230px,#adb6ff 270px,#465aff 316px,#2a41ff 326px,#223aff 328px,#223aff 560px,#5668ff 594px,#808dff 636px,#9da7ff 674px,#a8b2ff 710px,#abb4ff 728px)"></i><i style="left:1708px;width:4.6px;background:linear-gradient(#f89b9b 8px,#f78888 96px,#f78888 136px,#f89595 170px,#f9a7a7 192px,#fbbebe 208px,#fde1e1 224px,#ffffff 236px,#bcc3ff 268px,#96a2ff 284px,#6778ff 304px,#4055ff 320px,#263eff 328px,#223aff 330px,#223aff 564px,#5063ff 594px,#7886ff 632px,#99a4ff 674px,#a5aeff 708px,#a8b1ff 728px)"></i><i style="left:1712px;width:4.6px;background:linear-gradient(#f89d9d 8px,#f78585 106px,#f78484 138px,#f89393 174px,#f9a5a5 196px,#fbbebe 214px,#fcd7d7 226px,#fffcfc 240px,#fdfdff 242px,#b5bdff 276px,#7e8cff 296px,#4a5eff 318px,#2a41ff 328px,#233bff 330px,#223aff 568px,#4f62ff 598px,#7584ff 634px,#97a2ff 676px,#a2acff 712px,#a5afff 728px)"></i><i style="left:1716px;width:4.6px;background:linear-gradient(#f99f9f 8px,#f78282 114px,#f78181 140px,#f89494 182px,#f9a9a9 206px,#fbc0c0 222px,#ffffff 246px,#c4caff 274px,#8492ff 296px,#485cff 320px,#223aff 332px,#223aff 572px,#4b5fff 600px,#6f7fff 632px,#939fff 676px,#9faaff 712px,#a2acff 728px)"></i><i style="left:1720px;width:4.6px;background:linear-gradient(#f9a1a1 8px,#f67d7d 122px,#f67e7e 144px,#f89393 188px,#f9aaaa 214px,#fababa 224px,#fffefe 250px,#ccd2ff 274px,#8794ff 298px,#475bff 322px,#273eff 332px,#223aff 334px,#223aff 576px,#4f63ff 608px,#6c7cff 634px,#909cff 678px,#9da7ff 714px,#9faaff 728px)"></i><i style="left:1724px;width:4.6px;background:linear-gradient(#f9a3a3 8px,#f67a7a 126px,#f67c7c 148px,#f89494 196px,#f9a5a5 216px,#fab6b6 226px,#fffefe 254px,#cfd4ff 276px,#6374ff 314px,#344aff 330px,#223aff 336px,#223aff 580px,#5c6dff 622px,#8c98ff 676px,#98a4ff 708px,#9da8ff 728px)"></i><i style="left:1728px;width:4.6px;background:linear-gradient(#f9a5a5 8px,#f67676 130px,#f67878 150px,#f89898 208px,#f9a7a7 222px,#fbc5c5 236px,#ffffff 258px,#c8ceff 282px,#6575ff 316px,#354bff 332px,#223aff 338px,#223aff 584px,#5c6dff 626px,#8996ff 678px,#96a1ff 710px,#9aa5ff 728px)"></i><i style="left:1732px;width:4.6px;background:linear-gradient(#f9a7a7 8px,#f67272 130px,#f67474 148px,#f89696 212px,#f9a4a4 224px,#fbc2c2 238px,#fffcfc 260px,#fcfdff 262px,#d2d7ff 282px,#a3adff 298px,#7181ff 314px,#4559ff 330px,#243bff 340px,#223aff 410px,#223aff 588px,#596bff 628px,#8693ff 678px,#939fff 710px,#98a3ff 728px)"></i><i style="left:1736px;width:4.6px;background:linear-gradient(#f9a8a8 8px,#f67d7d 100px,#f56e6e 134px,#f67171 152px,#f89393 214px,#f9a5a5 228px,#fccdcd 246px,#fffafa 262px,#fefeff 264px,#dde1ff 282px,#bbc3ff 294px,#7f8dff 312px,#5c6eff 326px,#223aff 344px,#223aff 592px,#5567ff 628px,#828fff 676px,#8f9bff 704px,#96a1ff 728px)"></i><i style="left:1740px;width:4.6px;background:linear-gradient(#f9aaaa 8px,#f78282 90px,#f56b6b 132px,#f56c6c 148px,#f89090 216px,#f9a3a3 230px,#fbc9c9 248px,#fde5e5 258px,#fffefe 266px,#edefff 280px,#d4d9ff 290px,#acb5ff 302px,#8d9aff 310px,#7c8aff 318px,#6879ff 326px,#3349ff 342px,#243bff 346px,#223aff 398px,#223aff 596px,#4e61ff 626px,#6f7eff 658px,#8391ff 682px,#919dff 718px,#949fff 728px)"></i><i style="left:1744px;width:12.6px;background:linear-gradient(#f9acac 8px,#f78686 82px,#f56969 132px,#f56868 146px,#f78c8c 216px,#f89d9d 230px,#fbc4c4 250px,#fddcdc 258px,#fef6f6 266px,#fffdfd 270px,#fdfdff 276px,#f0f1ff 284px,#c8ceff 298px,#b2baff 304px,#99a4ff 310px,#8f9bff 314px,#828fff 322px,#4155ff 342px,#283fff 348px,#223aff 350px,#233bff 600px,#485cff 624px,#7a88ff 672px,#8996ff 700px,#929eff 728px)"></i></div></div>
<svg width="2120" height="992" viewBox="0 0 2120 992">
<defs><clipPath id="lc"><rect x="1450.5" y="117.5" width="35" height="41"/><rect x="1433.5" y="278.5" width="69" height="41"/><rect x="708.5" y="486.5" width="69" height="41"/><rect x="853.5" y="592.5" width="69" height="41"/><rect x="871.5" y="676.5" width="35" height="41"/><rect x="396.5" y="664.5" width="113" height="41"/><rect x="1724.5" y="714.5" width="69" height="41"/></clipPath><clipPath id="pc"><rect x="309" y="62" width="1739" height="720"/></clipPath>
<linearGradient id="cbg" gradientUnits="userSpaceOnUse" x1="533.2" x2="1718.9" y1="0" y2="0"><stop offset="0" stop-color="#253cff"/><stop offset="0.0125" stop-color="#253cff"/><stop offset="0.0125" stop-color="#2a41ff"/><stop offset="0.025" stop-color="#2a41ff"/><stop offset="0.025" stop-color="#3046ff"/><stop offset="0.0375" stop-color="#3046ff"/><stop offset="0.0375" stop-color="#354bff"/><stop offset="0.05" stop-color="#354bff"/><stop offset="0.05" stop-color="#3b50ff"/><stop offset="0.0625" stop-color="#3b50ff"/><stop offset="0.0625" stop-color="#4055ff"/><stop offset="0.075" stop-color="#4055ff"/><stop offset="0.075" stop-color="#465aff"/><stop offset="0.0875" stop-color="#465aff"/><stop offset="0.0875" stop-color="#4b5fff"/><stop offset="0.1" stop-color="#4b5fff"/><stop offset="0.1" stop-color="#5164ff"/><stop offset="0.1125" stop-color="#5164ff"/><stop offset="0.1125" stop-color="#5669ff"/><stop offset="0.125" stop-color="#5669ff"/><stop offset="0.125" stop-color="#5c6eff"/><stop offset="0.1375" stop-color="#5c6eff"/><stop offset="0.1375" stop-color="#6273ff"/><stop offset="0.15" stop-color="#6273ff"/><stop offset="0.15" stop-color="#6778ff"/><stop offset="0.1625" stop-color="#6778ff"/><stop offset="0.1625" stop-color="#6d7cff"/><stop offset="0.175" stop-color="#6d7cff"/><stop offset="0.175" stop-color="#7281ff"/><stop offset="0.1875" stop-color="#7281ff"/><stop offset="0.1875" stop-color="#7886ff"/><stop offset="0.2" stop-color="#7886ff"/><stop offset="0.2" stop-color="#7d8bff"/><stop offset="0.2125" stop-color="#7d8bff"/><stop offset="0.2125" stop-color="#8390ff"/><stop offset="0.225" stop-color="#8390ff"/><stop offset="0.225" stop-color="#8895ff"/><stop offset="0.2375" stop-color="#8895ff"/><stop offset="0.2375" stop-color="#8e9aff"/><stop offset="0.25" stop-color="#8e9aff"/><stop offset="0.25" stop-color="#939fff"/><stop offset="0.2625" stop-color="#939fff"/><stop offset="0.2625" stop-color="#99a4ff"/><stop offset="0.275" stop-color="#99a4ff"/><stop offset="0.275" stop-color="#9ea9ff"/><stop offset="0.2875" stop-color="#9ea9ff"/><stop offset="0.2875" stop-color="#a4aeff"/><stop offset="0.3" stop-color="#a4aeff"/><stop offset="0.3" stop-color="#a9b3ff"/><stop offset="0.3125" stop-color="#a9b3ff"/><stop offset="0.3125" stop-color="#afb8ff"/><stop offset="0.325" stop-color="#afb8ff"/><stop offset="0.325" stop-color="#b4bdff"/><stop offset="0.3375" stop-color="#b4bdff"/><stop offset="0.3375" stop-color="#bac1ff"/><stop offset="0.35" stop-color="#bac1ff"/><stop offset="0.35" stop-color="#bfc6ff"/><stop offset="0.3625" stop-color="#bfc6ff"/><stop offset="0.3625" stop-color="#c5cbff"/><stop offset="0.375" stop-color="#c5cbff"/><stop offset="0.375" stop-color="#cbd0ff"/><stop offset="0.3875" stop-color="#cbd0ff"/><stop offset="0.3875" stop-color="#d0d5ff"/><stop offset="0.4" stop-color="#d0d5ff"/><stop offset="0.4" stop-color="#d6daff"/><stop offset="0.4125" stop-color="#d6daff"/><stop offset="0.4125" stop-color="#dbdfff"/><stop offset="0.425" stop-color="#dbdfff"/><stop offset="0.425" stop-color="#e1e4ff"/><stop offset="0.4375" stop-color="#e1e4ff"/><stop offset="0.4375" stop-color="#e6e9ff"/><stop offset="0.45" stop-color="#e6e9ff"/><stop offset="0.45" stop-color="#eceeff"/><stop offset="0.4625" stop-color="#eceeff"/><stop offset="0.4625" stop-color="#f1f3ff"/><stop offset="0.475" stop-color="#f1f3ff"/><stop offset="0.475" stop-color="#f7f8ff"/><stop offset="0.4875" stop-color="#f7f8ff"/><stop offset="0.4875" stop-color="#fcfdff"/><stop offset="0.5" stop-color="#fcfdff"/><stop offset="0.5" stop-color="#fffcfc"/><stop offset="0.5125" stop-color="#fffcfc"/><stop offset="0.5125" stop-color="#fef5f5"/><stop offset="0.525" stop-color="#fef5f5"/><stop offset="0.525" stop-color="#feefef"/><stop offset="0.5375" stop-color="#feefef"/><stop offset="0.5375" stop-color="#fee9e9"/><stop offset="0.55" stop-color="#fee9e9"/><stop offset="0.55" stop-color="#fde2e2"/><stop offset="0.5625" stop-color="#fde2e2"/><stop offset="0.5625" stop-color="#fddcdc"/><stop offset="0.575" stop-color="#fddcdc"/><stop offset="0.575" stop-color="#fcd6d6"/><stop offset="0.5875" stop-color="#fcd6d6"/><stop offset="0.5875" stop-color="#fccfcf"/><stop offset="0.6" stop-color="#fccfcf"/><stop offset="0.6" stop-color="#fbc9c9"/><stop offset="0.6125" stop-color="#fbc9c9"/><stop offset="0.6125" stop-color="#fbc2c2"/><stop offset="0.625" stop-color="#fbc2c2"/><stop offset="0.625" stop-color="#fbbcbc"/><stop offset="0.6375" stop-color="#fbbcbc"/><stop offset="0.6375" stop-color="#fab6b6"/><stop offset="0.65" stop-color="#fab6b6"/><stop offset="0.65" stop-color="#faafaf"/><stop offset="0.6625" stop-color="#faafaf"/><stop offset="0.6625" stop-color="#f9a9a9"/><stop offset="0.675" stop-color="#f9a9a9"/><stop offset="0.675" stop-color="#f9a3a3"/><stop offset="0.6875" stop-color="#f9a3a3"/><stop offset="0.6875" stop-color="#f89c9c"/><stop offset="0.7" stop-color="#f89c9c"/><stop offset="0.7" stop-color="#f89696"/><stop offset="0.7125" stop-color="#f89696"/><stop offset="0.7125" stop-color="#f88f8f"/><stop offset="0.725" stop-color="#f88f8f"/><stop offset="0.725" stop-color="#f78989"/><stop offset="0.7375" stop-color="#f78989"/><stop offset="0.7375" stop-color="#f78383"/><stop offset="0.75" stop-color="#f78383"/><stop offset="0.75" stop-color="#f67c7c"/><stop offset="0.7625" stop-color="#f67c7c"/><stop offset="0.7625" stop-color="#f67676"/><stop offset="0.775" stop-color="#f67676"/><stop offset="0.775" stop-color="#f57070"/><stop offset="0.7875" stop-color="#f57070"/><stop offset="0.7875" stop-color="#f56969"/><stop offset="0.8" stop-color="#f56969"/><stop offset="0.8" stop-color="#f56363"/><stop offset="0.8125" stop-color="#f56363"/><stop offset="0.8125" stop-color="#f45c5c"/><stop offset="0.825" stop-color="#f45c5c"/><stop offset="0.825" stop-color="#f45656"/><stop offset="0.8375" stop-color="#f45656"/><stop offset="0.8375" stop-color="#f35050"/><stop offset="0.85" stop-color="#f35050"/><stop offset="0.85" stop-color="#f34949"/><stop offset="0.8625" stop-color="#f34949"/><stop offset="0.8625" stop-color="#f24343"/><stop offset="0.875" stop-color="#f24343"/><stop offset="0.875" stop-color="#f23d3d"/><stop offset="0.8875" stop-color="#f23d3d"/><stop offset="0.8875" stop-color="#f23636"/><stop offset="0.9" stop-color="#f23636"/><stop offset="0.9" stop-color="#f13030"/><stop offset="0.9125" stop-color="#f13030"/><stop offset="0.9125" stop-color="#f12929"/><stop offset="0.925" stop-color="#f12929"/><stop offset="0.925" stop-color="#f02323"/><stop offset="0.9375" stop-color="#f02323"/><stop offset="0.9375" stop-color="#f01d1d"/><stop offset="0.95" stop-color="#f01d1d"/><stop offset="0.95" stop-color="#ef1616"/><stop offset="0.9625" stop-color="#ef1616"/><stop offset="0.9625" stop-color="#ef1010"/><stop offset="0.975" stop-color="#ef1010"/><stop offset="0.975" stop-color="#ef0a0a"/><stop offset="0.9875" stop-color="#ef0a0a"/><stop offset="0.9875" stop-color="#ee0303"/><stop offset="1" stop-color="#ee0303"/></linearGradient></defs>
<g clip-path="url(#pc)"><path d="M612.8,62 621.2,70 699.7,130 727,152.8 737,159.7 758,172 767,181.3 777,195.6 797.3,234 836.6,304 942.6,464 966.1,508 981.7,540 989,558 994.1,574 999.4,606 1000.3,616 999,626 995.2,636 989,645.6 981,654.1 973.7,660 964.6,666 919,689.2 903,694.9 887,697.1 861,694.7 837,689.6 825,685.6 793,672.5 767,663.8 757,659.6 749,655.2 739,648 733,642.3 723,630.8 717.2,626 647,579.4 607,551.1 599.2,544 587.5,528 577.1,518 532.5,488 511,472.5 473.9,448 459,435.9 437.7,416 413,395.9 355,358.6 347,354.9 332.8,350 325,346.1 319,341.8 309,332.4M1142,62 1147.3,70 1164.5,86 1175,94.5 1187.5,102 1209,112.8 1235,123 1261,135.4 1280.5,142 1301,147.6 1325,151.4 1347,151.4 1367,148.9 1417,139.6 1441,137.2 1461,138.1 1477,141.8 1485,145.2 1493,150 1523.3,174 1535,182.3 1599,217 1609,224.2 1619,233.3 1631,247.1 1643,264.3 1649.4,276 1667.5,314 1675,326.4 1706.5,366 1745,408.3 1759,426.4 1780.4,466 1800.7,510 1816.5,540 1823,550.5 1841,574.2 1872.4,632 1877.2,642 1885,662.2 1906.9,704 1908.5,710 1908.1,718 1905.5,726 1901.9,732 1891,746.3 1884,754 1867.9,770 1853,782M2047,324.1 2033,313.4 2025,306.3 1999,275.2 1928.6,216 1903,190.1 1895,181 1871.6,148 1863.4,134 1847.3,96 1837.4,70 1835.1,62M1715.5,782 1701.8,778 1655,768.3 1613,754.8 1571,729.8 1545,709.3 1519.4,692 1496.9,674 1480.9,660 1455,641.7 1444,632 1423,607.4 1399,581.4 1382.2,556 1377.4,550 1332.4,508 1283,452.6 1266.6,436 1250.3,422 1237,412.2 1185,384.4 1175.7,378 1167,370.1 1157,359 1147.2,346 1128.9,318 1109.5,286 1095,265.7 1079,247.3 1037.6,208 1029.2,198 1021,185.5 1007,158 997.4,130 994.3,116 991.4,94 985.8,62M436.1,62 535,91.4 587,111.5 617,124.3 629,131 679,162.9 733,205.4 747,219.1 757,232.3 772.1,258 785,274 792,284 811.1,320 821,336.5 842.9,366 861.4,394 881,421.7 901.1,456 923.2,490 933,508.5 940.1,526 944.3,542 947,560 949.1,586 948.9,596 947.4,606 943.6,618 938.5,630 933.6,638 928.8,644 916.9,654 907,660 899,663.6 893,665.4 885,666.3 857,664.4 833,660.6 801,649.6 769,640 751,632.6 743,627.2 729.4,614 710,598 693,579.3 687,573.9 667,560.6 628.2,532 603,518.3 579,501.2 511,448.5 458.5,410 431,384 413,369.4 365,337.2 345,326.4 309,303.9M1053.1,62 1052.5,72 1050.8,80 1047,88.9 1041.9,98 1039,106.2 1037,107.8 1031,95.7 1029,89.8 1025.7,74 1024.7,62M1158.4,152 1175,151 1191,153 1206.6,158 1225,166.7 1238.7,176 1255.5,190 1301,234.2 1309.4,240 1319,243.9 1333,245.8 1349,244.2 1369,239.2 1411,225 1433,218.6 1451,215.5 1469,215.3 1481,217.1 1493,220.7 1533,237 1579,254.1 1597,262.3 1611,271.5 1617,277.3 1623,285.4 1653,339.7 1679,376.7 1695.2,396 1731,432 1747,452.8 1763,479.1 1779.9,516 1794.8,544 1803.8,558 1821,579.5 1826.2,588 1838.8,616 1843.3,628 1851.8,656 1855.1,674 1855.7,688 1853.6,698 1848.1,710 1841.1,720 1831.5,730 1819.3,740 1803,751 1790,758 1777,763.1 1763,766.5 1751,767.5 1739,766.7 1731,765 1701,756 1655,740.8 1629,731 1603,719.4 1593,714.3 1583.2,708 1563.6,692 1537,672.8 1499,638.1 1477,620 1466.6,610 1453,594.4 1423,556 1363,495.3 1329,458.8 1304.4,428 1291,414 1265,392.9 1251,383.2 1223,367.3 1197,355 1187,349.2 1177,340.7 1167,328.4 1155,311 1149.1,300 1124.1,242 1103.4,200 1099.8,190 1098.3,182 1098.5,176 1100.5,170 1103.5,166 1109.1,162 1117,158.8 1127,156.4 1158.4,152M2047,300 2033,289 2021.8,278 2010.9,262 1990.4,238 1941.3,172 1934.3,166 1911,151.5 1904.4,146 1898.9,140 1890.7,126 1876.4,94 1871.1,78 1868,62M1924.8,62 1913.4,68 1909,68.7 1905,67.6 1903,66.1 1900.7,62M309,145.9 327,144.4 355,146 403,146.6 457,149.2 531,155.1 585,163 599,166.4 619,175.9 653,195.8 692.9,224 735,256.3 744.8,266 763,288.7 768.6,298 778.1,320 787.5,336 802.2,364 829,403.8 853,437.6 861.5,452 879,487.1 895.2,508 901,516.8 905,525.1 908.1,534 910,544 910.5,554 908.5,578 906.4,586 903.6,592 897,601.7 891,607.9 885,612.2 877,615.7 863,617.8 835,616.8 791,611 767,609.1 757,606.7 749,603.2 735,594.1 725,585.4 719.4,578 710.5,562 705,555.9 699,552.1 678,542 645,517.3 597,487.4 577.3,470 519,423.5 503,411.6 473.4,392 463,384.2 431,353.3 419,342.8 399,328.7 377,311.2 333,281.7 326.5,276 321.3,270 309,249.3M2047,242 2043,238.1 2037,229.6 2025.7,208 2021.2,196 2019.6,184 2020.3,176 2021.8,170 2027,159.4 2031,154.8 2035,151.8 2041,148.7 2047,147M1454,300 1481,298.2 1503,299.6 1545,309 1579,312.3 1589,315.5 1599,321 1607,327.6 1615,337.2 1627,356.7 1646.8,392 1661,411 1673.6,426 1697,451.8 1739,494.5 1751,508.4 1758.2,520 1773,554 1792.1,586 1799.9,602 1805.7,620 1809.1,644 1809.9,656 1809.1,670 1807.2,680 1803.7,690 1798.6,700 1791.6,710 1783,719.7 1775,726.6 1767,731.6 1759,734.8 1751,736 1741,734.9 1733,732.5 1659,703.9 1619,696.6 1607,692.4 1595,686.1 1583,677.8 1555,654.6 1503,606 1483,584.1 1438,530 1419.5,500 1383.9,436 1372.9,414 1367.7,400 1364.2,386 1361.4,368 1361.1,356 1362.5,348 1366,340 1370.9,334 1377,329.2 1383,326.1 1399,319.9 1429,305.9 1441,302.3 1454,300M501,248 519,247.6 571,248.7 585,250.2 599,253.4 615,259.3 675,287.4 703,299.1 731,313.8 739,319.2 747,327.5 759,345 777.6,384 819.1,456 834.7,486 841,502 843.9,516 842.8,526 838.2,534 829.1,542 820,548 809,553.4 796.4,558 775,564.5 765,566.5 753,567 743,565.2 737,562.4 733,559.5 709,535.3 699,526.6 635,482 589.6,448 545,403.8 487,356.4 477.7,348 442.5,308 437,300 432.9,292 430.5,284 431,276 435.4,268 443,261.3 453,256.4 465,252.7 477,250.6 501,248M1588.3,408 1597,407 1605,408.3 1611,411.3 1617,416.8 1658.8,472 1699,520.2 1722.4,546 1759,601.9 1765.4,614 1768.9,624 1770.8,636 1771.1,648 1769.5,662 1766.6,672 1762.2,680 1755.9,686 1749,688.6 1739,689.3 1699.1,684 1675,679.8 1635,670.4 1623,666.3 1613,661.6 1601,654.3 1591,646.7 1576.6,634 1564.5,622 1534,588 1507.1,550 1502.9,542 1499.4,532 1498.3,526 1498.3,518 1502.3,492 1510.4,460 1514.6,450 1520.4,442 1528.2,434 1537,426.3 1545,420.9 1553,417 1561,414.1 1588.3,408M722.1,410 727,409 733,409.1 741,412.4 747,419.1 749.2,424 750.7,430 755.1,458 754.8,470 749,496.1 745.6,502 741,504.4 737,503.9 733,501.3 709,475.5 689.2,448 685.3,440 683.6,434 683.6,430 684.8,426 687,423 691,419.8 699.6,416 722.1,410M1607.4,520 1613,519 1619,521.9 1623.6,528 1626.2,536 1626.8,544 1625.7,550 1619,566 1617,568.1 1613,566.1 1607,559.7 1601.4,550 1598.7,542 1598.2,536 1599.3,530 1603,523.5 1607.4,520" class="ct"/><path d="M2047,513.8 2041,515.7 2034.8,520 2030.6,526 2029.2,532 2030.3,538 2034,544 2039,548.1 2047,551.1M309,551.8 317,550.5 325.4,546 337.1,536 339.5,532 339.5,530 336.6,526 323,516.8 317,514.3 309,513.3M1903,378 1899.2,380 1897.4,382 1894.7,388 1890.8,408 1891.1,420 1894.4,434 1899,443.3 1905,449 1909,450.5 1913,450.6 1917,449.6 1935,441.3 1947.3,434 1952.2,430 1955.5,426 1957.3,422 1957.6,418 1956.6,414 1953,408 1935,391.6 1915,379.7 1909,377.8 1903,378M2047,470.2 2037,472 2029,477.4 2014.9,494 1993.5,516 1990,522 1988.8,528 1989.3,532 1992.3,538 2009.4,558 2033,579.6 2041,585.2 2047,587.6M309,588.5 317,587.1 333,578.2 353,571.4 365,566 385,554.7 406.1,544 410.1,540 410.7,536 407.6,528 398.8,516 392.9,510 385,504 377,499.6 353.6,490 329,474.7 319,471.2 309,469.8M2047,418.1 2011.1,398 1989,388.1 1975,377.4 1957,366.2 1943,354.8 1924.4,342 1909,329.9 1903,327 1897,326.9 1889,329.9 1881,335.9 1873.9,344 1869.1,352 1866.1,360 1863.8,370 1863.1,380 1864.3,398 1866.4,412 1870.7,430 1875.1,444 1880.1,456 1885,465.4 1905.3,494 1910.5,500 1917,505.7 1959,537.1 1971,548.3 1989.9,568 2017.2,594 2041,614.9 2047,618.8M309,620.9 325,623.9 353,624.1 381,627.8 399,629.3 421,630 435,628.3 441.6,626 449.1,622 457,616.1 463,610 467.3,604 471.2,596 473.2,588 473.6,580 472.3,560 470.6,552 464.8,540 456.8,530 415,498.6 385.8,474 369,462.8 346.7,446 309,421.1M2047,402.5 2025,388.4 2001,378.7 1971.7,358 1941.4,332 1917,304.6 1911,300.3 1903,297.3 1897,296.8 1891,297.7 1871,305 1861,311.1 1847,323.6 1839.5,332 1835,340.3 1831.8,352 1830.8,364 1831.7,374 1834.4,386 1838.5,400 1843.1,412 1858.1,448 1871,476.5 1879.5,492 1890.2,508 1907,528.6 1917,539.3 1925,545.9 1943,557 1953,564.8 2004.7,612 2039,646.5 2047,652.2M309,654.4 325,659 353,665.1 387,675.4 411,681.6 433,685.1 449,685.1 457,683.6 467,679.8 522.4,650 527.3,646 531,641.1 533.5,634 534.2,628 533.9,622 532.3,614 525.9,596 507.8,558 503.1,550 498.2,544 467.3,518 443,503.4 408.7,476 389,458.5 370.6,444 345.4,426 309,405.8M1608.5,62 1613,65.9 1617,66.7 1621,65.4 1623.8,62M887,134 883,137.3 875,153.3 873,160 872.4,168 873.9,180 877,189.3 885,203.8 887,206.3 889,207.3 891,206.6 893,204 899,190.8 902.9,178 903.5,170 901,154 897,142.1 892.9,136 889.5,134 887,134M1027,329.4 1023,332.2 1017,339 1012.7,346 1009.2,354 1006.4,368 1006.8,388 1008.2,398 1011.1,410 1017,428.8 1023,443.9 1027,451.4 1031,455.9 1035,458 1039,458.5 1043,457.7 1049,454 1057,446.6 1063,438.9 1068.5,430 1071.2,424 1073.2,416 1073.3,408 1071.1,396 1065.9,380 1045,338.3 1041,332.7 1037,329.5 1033,328.2 1027,329.4M2047,387.1 2031,374.3 2007,361.7 1987.9,348 1949.2,312 1935,296 1928.6,290 1909.5,276 1885,254.6 1861,237.4 1834.8,216 1808.4,196 1798.6,186 1789.4,174 1779.8,158 1767.2,132 1763,126.7 1759,123.3 1755,121.2 1749,120.2 1743.5,122 1739.3,126 1733.9,134 1723.1,146 1719,152.2 1714.6,164 1713,178 1713.9,188 1716.7,204 1723.1,228 1727.5,240 1747.8,286 1755.3,298 1783.3,328 1789.6,336 1795,344.4 1801,357.6 1813.4,394 1820.5,412 1854.4,484 1865.1,504 1882.7,532 1897.8,558 1907,569.9 1919,581 1949,603.8 1973,620.3 1995.6,640 2005,649.1 2019.4,666 2041,689.3 2047,693.9M309,696.2 337,701.6 347,704.9 357,709.4 380.6,722 427,752.2 441,759.8 453,765.2 467,769.9 485,774.5 530.2,782M584.9,782 597,776.6 603,772 606.5,766 608.6,758 609.1,746 607.1,728 606.9,720 611.6,698 611.1,680 613.1,662 611.6,652 606.6,642 601.4,636 579,616.6 571,608.3 544.3,574 526.6,544 519.8,536 513.3,530 507,525.7 495,520.4 477.3,508 456,496 447,490.1 424.6,472 396.7,446 361.9,420 351,413.5 321,398.3 309,391.2M1463.7,782 1456.9,776 1409.6,742 1375,715.7 1367,708.7 1357,698.6 1351.8,692 1337.7,664 1331.6,656 1320.2,648 1297,638.3 1283,627.6 1269.7,614 1251.5,592 1244.2,582 1230.2,560 1199.2,522 1193,516.4 1185,511.2 1177,508 1171,507.4 1165,508.2 1159.8,510 1147,518.3 1143,522 1138.6,528 1135.9,534 1135.2,538 1136.2,544 1142.7,554 1143.9,558 1141.8,572 1142.8,578 1152.1,600 1160.1,622 1162.6,630 1164.1,638 1163.8,654 1156.4,690 1155.3,702 1158.7,744 1163.1,782M721.3,62 724.7,66 736.1,76 751.3,92 788.7,124 807.2,138 817,147.7 831,169.1 857.1,216 882.4,272 887,279.9 895,289.7 901,295.5 933,316.7 947,329.5 954.4,338 962.6,352 968.4,366 971,375.6 976.1,402 982.3,422 1007,477.2 1025,501.1 1033,510 1043,517.6 1062.8,528 1069.4,534 1075.8,544 1098.7,588 1107.6,618 1109.4,628 1109.8,638 1109.2,644 1107,652 1094.4,682 1087,696.6 1072.7,720 1059,747.4 1050.4,760 1044.5,766 1037,771.2 1018.5,778 1010.7,782M1543.3,62 1545.9,66 1551.7,72 1595,111.6 1608.7,122 1631,135.2 1643,144.2 1653,154.4 1669.5,174 1675,182.8 1681,195 1694.2,236 1722,296 1731,310.7 1746.8,330 1753.8,340 1785.3,392 1816.3,450 1839.2,496 1868,550 1876.3,564 1905.3,608 1927,627.6 1947,644.3 1976.2,672 1986.8,684 2021.5,730 2029.8,744 2043,769.7 2047,774.8M2047,366.2 2007,337.1 2000.2,330 1991,316.8 1986.7,312 1971,299.9 1955,285.7 1933,269.1 1899,236.3 1873,216.5 1837.9,188 1827.3,178 1813.7,160 1794.5,128 1770.4,72 1766.9,62M819.7,782 815,777.6 807,773.1 797,769.2 771,761.8 751,751.5 734.6,744 727,739.2 721,733.6 713,724 665.7,658 651.7,642 639.3,632 601,611 592.3,604 582.2,594 577.5,588 560.5,562 550,542 544.9,536 534.3,526 524.3,518 515.3,512 487,497.5 455,477.9 437.2,464 409,437.5 379,414.6 349,395.9 323,383.4 309,372.4M1551.1,782 1525,763.4 1489,741.1 1481,735.4 1457,713.8 1431.7,686 1423.2,678 1393,653.8 1373.1,640 1324.9,604 1315.4,594 1289.6,562 1253.3,522 1219.3,492 1198.5,476 1179,457.1 1153,434.4 1133,413.5 1079,343.8 1073,334 1063.5,314 1055,301.6 1020,264 1003.1,250 987.5,232 970.7,218 965.6,212 957.8,200 947,186.9 943,179.1 938.7,168 928.5,132 917.6,104 913.7,88 909,62M666.2,62 673.5,70 731,118 778.5,154 789.4,164 797,172.6 805.8,186 822.6,216 839,250.3 871,308 887,330.4 917,364 924.4,374 932.4,388 948.1,420 967.6,452 983.1,480 999,502.8 1019.7,544 1023.1,556 1026.9,580 1033,600.5 1037.1,610 1049,630 1051.6,638 1050.7,648 1048.7,654 1045.5,660 1035,674 1024.5,684 1007,695.8 975,711.3 935,735.2 919,742.6 905,746.4 889,747.9 875,746.7 863,742.9 855,738 832.4,720 805.9,706 789,699.4 751,688.9 743,685.5 735,680.6 717,665.4 696.5,644 684,634 663,619.5 623,598.1 611.8,590 591,566.6 567.6,534 561.9,528 552.1,520 525,501.1 509,491.3 493,482.7 461,461.8 446.3,450 419,424.5 389,402.3 349,377.4 327,366.6 309,354.2M1474.4,62 1480.5,68 1547,118.5 1571,138.6 1601.3,158 1613,166.4 1623,176.1 1637,194.5 1647.7,212 1660.2,238 1679.6,272 1693.9,302 1700.7,314 1711.9,330 1761,394.9 1773.7,414 1799.1,460 1818.7,500 1838.3,536 1867,584 1888.6,616 1905,635.9 1937.1,672 1950.4,692 1958.1,708 1963.8,728 1966.1,746 1967.9,782M2047,350.2 2043,347.5 2019,325.8 2003,305 1995,296.5 1969.6,274 1945,256.1 1915.5,232 1901,217.2 1880.4,198 1852.8,170 1841.9,154 1825.6,122 1805,71.8 1801.8,62M1622.9,782 1581,762.2 1566.7,754 1525,724.3 1505,708.9 1481,693.1 1451.7,670 1423,649.3 1382.1,614 1373.8,606 1358.2,588 1335.1,558 1305,524.1 1283.2,498 1245,459.6 1203.8,424 1173,405 1152.8,390 1141,379.3 1131.9,368 1104.6,330 1084.8,298 1073.3,282 1055.7,262 1023.1,232 997.7,204 991.6,196 973,168 968.2,158 964.7,146 958.4,110 950.6,76 948.2,62" class="ct neg"/></g>
<path d="M453.917,67.5V781.9M598.833,67.5V781.9M743.75,67.5V781.9M888.667,67.5V781.9M1033.58,67.5V781.9M1178.5,67.5V781.9M1323.42,67.5V781.9M1468.33,67.5V781.9M1613.25,67.5V781.9M1758.17,67.5V781.9M1903.08,67.5V781.9" class="gv"/><path d="M324.6,170.3H2048M324.6,278.7H2048M324.6,422H2048M324.6,530.3H2048M324.6,638.8H2048" class="gh"/>
<rect x="1450.5" y="117.5" width="35" height="41" fill="#fff"/>
<text transform="translate(1451.65,152.81) scale(0.534,0.392)" class="cl">0</text>
<rect x="1433.5" y="278.5" width="69" height="41" fill="#fff"/>
<text transform="translate(1434.16,313.81) scale(0.534,0.392)" class="cl">10</text>
<rect x="708.5" y="486.5" width="69" height="41" fill="#fff"/>
<text transform="translate(710.23,521.81) scale(0.534,0.392)" class="cl">20</text>
<rect x="853.5" y="592.5" width="69" height="41" fill="#fff"/>
<text transform="translate(854.16,627.81) scale(0.534,0.392)" class="cl">10</text>
<rect x="871.5" y="676.5" width="35" height="41" fill="#fff"/>
<text transform="translate(872.65,711.81) scale(0.534,0.392)" class="cl">0</text>
<rect x="396.5" y="664.5" width="113" height="41" fill="#fff"/>
<text transform="translate(397.00,699.81) scale(0.534,0.392)" class="cl">−20</text>
<rect x="1724.5" y="714.5" width="69" height="41" fill="#fff"/>
<text transform="translate(1725.16,749.81) scale(0.534,0.392)" class="cl">10</text>
<g clip-path="url(#lc)" opacity=".3"><path d="M453.917,67.5V781.9M598.833,67.5V781.9M743.75,67.5V781.9M888.667,67.5V781.9M1033.58,67.5V781.9M1178.5,67.5V781.9M1323.42,67.5V781.9M1468.33,67.5V781.9M1613.25,67.5V781.9M1758.17,67.5V781.9M1903.08,67.5V781.9" class="gv"/><path d="M324.6,170.3H2048M324.6,278.7H2048M324.6,422H2048M324.6,530.3H2048M324.6,638.8H2048" class="gh"/></g>
<rect x="309" y="62.05" width="1739" height="719.85" class="frame"/>
<path d="M291.2,62.05H309M291.2,170.3H309M291.2,278.7H309M291.2,422H309M291.2,530.3H309M291.2,638.8H309M291.2,781.9H309M309,781.9V793.8M453.917,781.9V793.8M598.833,781.9V793.8M743.75,781.9V793.8M888.667,781.9V793.8M1033.58,781.9V793.8M1178.5,781.9V793.8M1323.42,781.9V793.8M1468.33,781.9V793.8M1613.25,781.9V793.8M1758.17,781.9V793.8M1903.08,781.9V793.8M2048,781.9V793.8" class="tick"/>
<text transform="translate(141.28,85.65) scale(0.77,0.635)" class="ax">0.05</text>
<text transform="translate(185.80,190.95) scale(0.77,0.635)" class="ax">0.1</text>
<text transform="translate(188.20,305.05) scale(0.77,0.635)" class="ax">0.2</text>
<text transform="translate(241.79,554.10) scale(0.77,0.635)" class="ax">1</text>
<text transform="translate(240.74,659.40) scale(0.77,0.635)" class="ax">2</text>
<text transform="translate(236.43,805.87) scale(0.77,0.635)" class="ax">5</text>
<text transform="translate(259.49,853.00) scale(0.777,0.63)" class="ax">Jan</text>
<text transform="translate(541.19,853.00) scale(0.777,0.63)" class="ax">Mar</text>
<text transform="translate(831.04,853.00) scale(0.777,0.63)" class="ax">May</text>
<text transform="translate(1131.54,853.00) scale(0.777,0.63)" class="ax">Jul</text>
<text transform="translate(1413.55,853.00) scale(0.777,0.63)" class="ax">Sep</text>
<text transform="translate(1715.26,853.00) scale(0.777,0.63)" class="ax">Nov</text>
<text transform="translate(1998.59,853.00) scale(0.777,0.63)" class="ax">Jan</text>
<text transform="translate(79.1,616.6) rotate(-90) scale(0.613,0.744)" class="ax">Pressure (hPa)</text>
<path d="M479.3,911L533.2,898.9H1718.9L1772.7,911L1718.9,923H533.2Z" class="cbo" fill="url(#cbg)"/>
<path d="M681.413,917.3V923M829.625,917.3V923M977.838,917.3V923M1126.05,917.3V923M1274.26,917.3V923M1422.48,917.3V923M1570.69,917.3V923" class="cbt"/>
<text transform="translate(480.24,977.24) scale(0.715,0.557)" class="ax">−20</text>
<text transform="translate(774.24,977.24) scale(0.715,0.557)" class="ax">−10</text>
<text transform="translate(1125.17,977.24) scale(0.715,0.557)" class="ax">0</text>
<text transform="translate(1406.76,977.24) scale(0.715,0.557)" class="ax">10</text>
<text transform="translate(1701.82,977.24) scale(0.715,0.557)" class="ax">20</text>
<path d="M709,47h3M777,47h2M852,47h3" stroke="#333" stroke-width="1.5"/>
</svg>
</body></html>
